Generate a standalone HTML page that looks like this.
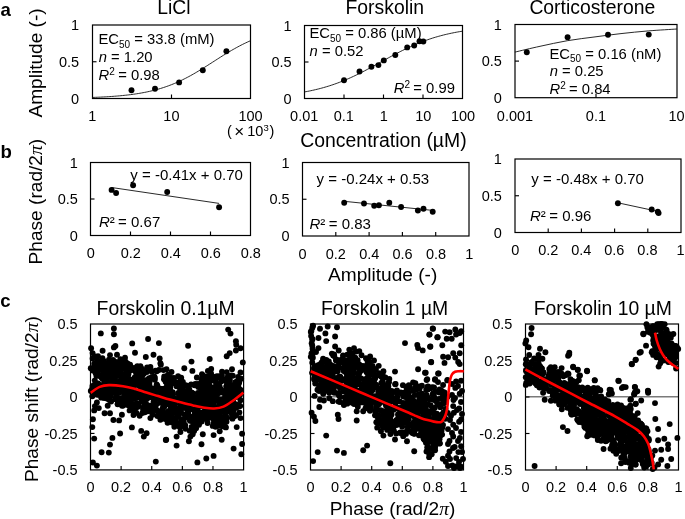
<!DOCTYPE html>
<html><head><meta charset="utf-8"><style>
html,body{margin:0;padding:0;background:#fff;overflow:hidden;width:685px;height:519px;}
svg{display:block;will-change:transform;}
text{font-family:"Liberation Sans", sans-serif;fill:#000;}
</style></head><body>
<svg width="685" height="519" viewBox="0 0 685 519">
<rect width="685" height="519" fill="#fff"/>
<text x="0.5" y="15.7" font-size="18.6" text-anchor="start" font-weight="bold">a</text>
<text x="0.4" y="157.7" font-size="18.6" text-anchor="start" font-weight="bold">b</text>
<text x="0.3" y="307.2" font-size="18.6" text-anchor="start" font-weight="bold">c</text>
<text x="173.8" y="14.3" font-size="19.35" text-anchor="middle">LiCl</text>
<text x="384.8" y="14.3" font-size="19.35" text-anchor="middle">Forskolin</text>
<text x="592.3" y="14.3" font-size="19.35" text-anchor="middle">Corticosterone</text>
<text transform="translate(41.8,117.6) rotate(-90)" font-size="19.1">Amplitude (-)</text>
<rect x="92.5" y="25" width="158" height="73.5" fill="none" stroke="#000" stroke-width="1.2"/>
<line x1="92.5" y1="61.75" x2="96.5" y2="61.75" stroke="#000" stroke-width="1.15"/>
<text x="79.2" y="30.1" font-size="14.5" text-anchor="end">1</text>
<text x="79.2" y="66.85" font-size="14.5" text-anchor="end">0.5</text>
<text x="79.2" y="103.6" font-size="14.5" text-anchor="end">0</text>
<line x1="171.5" y1="98.5" x2="171.5" y2="94.5" stroke="#000" stroke-width="1.15"/>
<text x="92.3" y="121" font-size="14.5" text-anchor="middle">1</text>
<text x="171.4" y="121" font-size="14.5" text-anchor="middle">10</text>
<text x="250.5" y="121" font-size="14.5" text-anchor="middle">100</text>
<text x="227" y="136.3" font-size="14.5" text-anchor="start">(</text>
<text x="234.3" y="136.6" font-size="17" text-anchor="start">×</text>
<text x="247.3" y="136.3" font-size="14.5" text-anchor="start">10</text>
<text x="263.4" y="131.3" font-size="9.5" text-anchor="start">3</text>
<text x="269.6" y="136.3" font-size="14.5" text-anchor="start">)</text>
<polyline points="92.5,97.44 94.08,97.38 95.66,97.32 97.24,97.25 98.82,97.18 100.4,97.11 101.98,97.03 103.56,96.95 105.14,96.86 106.72,96.77 108.3,96.68 109.88,96.58 111.46,96.47 113.04,96.36 114.62,96.24 116.2,96.12 117.78,95.99 119.36,95.85 120.94,95.7 122.52,95.55 124.1,95.39 125.68,95.22 127.26,95.04 128.84,94.86 130.42,94.66 132,94.45 133.58,94.24 135.16,94.01 136.74,93.77 138.32,93.52 139.9,93.26 141.48,92.98 143.06,92.69 144.64,92.39 146.22,92.08 147.8,91.74 149.38,91.4 150.96,91.03 152.54,90.66 154.12,90.26 155.7,89.85 157.28,89.42 158.86,88.97 160.44,88.5 162.02,88.01 163.6,87.5 165.18,86.98 166.76,86.43 168.34,85.86 169.92,85.27 171.5,84.66 173.08,84.03 174.66,83.38 176.24,82.71 177.82,82.01 179.4,81.29 180.98,80.55 182.56,79.79 184.14,79.01 185.72,78.21 187.3,77.39 188.88,76.55 190.46,75.69 192.04,74.81 193.62,73.91 195.2,73 196.78,72.07 198.36,71.13 199.94,70.17 201.52,69.21 203.1,68.23 204.68,67.24 206.26,66.24 207.84,65.24 209.42,64.23 211,63.22 212.58,62.2 214.16,61.19 215.74,60.17 217.32,59.16 218.9,58.15 220.48,57.15 222.06,56.15 223.64,55.17 225.22,54.19 226.8,53.22 228.38,52.27 229.96,51.33 231.54,50.4 233.12,49.49 234.7,48.6 236.28,47.72 237.86,46.86 239.44,46.02 241.02,45.2 242.6,44.4 244.18,43.62 245.76,42.87 247.34,42.13 248.92,41.41 250.5,40.72" fill="none" stroke="#111" stroke-width="0.9" stroke-linejoin="round"/>
<circle cx="131.5" cy="90.2" r="2.95"/>
<circle cx="155" cy="88.8" r="2.95"/>
<circle cx="179.1" cy="82.4" r="2.95"/>
<circle cx="202.8" cy="70.3" r="2.95"/>
<circle cx="226.4" cy="51.2" r="2.95"/>
<text x="98.5" y="43.7" font-size="14.8" text-anchor="start">EC<tspan font-size="10" dy="3.9">50</tspan><tspan dy="-3.9"> = 33.8 (mM)</tspan></text>
<text x="98.7" y="61.6" font-size="14.8" text-anchor="start"><tspan font-style="italic">n</tspan> = 1.20</text>
<text x="98.6" y="79.9" font-size="14.8" text-anchor="start"><tspan font-style="italic">R</tspan><tspan font-size="10" dy="-5">2</tspan><tspan dy="5" dx="-0.8"> = 0.98</tspan></text>
<rect x="304.5" y="25.5" width="158" height="73" fill="none" stroke="#000" stroke-width="1.2"/>
<line x1="304.5" y1="62" x2="308.5" y2="62" stroke="#000" stroke-width="1.15"/>
<text x="291.6" y="30.6" font-size="14.5" text-anchor="end">1</text>
<text x="291.6" y="67.1" font-size="14.5" text-anchor="end">0.5</text>
<text x="291.6" y="103.6" font-size="14.5" text-anchor="end">0</text>
<line x1="344" y1="98.5" x2="344" y2="94.5" stroke="#000" stroke-width="1.15"/>
<line x1="383.5" y1="98.5" x2="383.5" y2="94.5" stroke="#000" stroke-width="1.15"/>
<line x1="423" y1="98.5" x2="423" y2="94.5" stroke="#000" stroke-width="1.15"/>
<text x="304.2" y="121.3" font-size="14.5" text-anchor="middle">0.01</text>
<text x="343.8" y="121.3" font-size="14.5" text-anchor="middle">0.1</text>
<text x="383.8" y="121.3" font-size="14.5" text-anchor="middle">1</text>
<text x="423.3" y="121.3" font-size="14.5" text-anchor="middle">10</text>
<text x="463" y="121.3" font-size="14.5" text-anchor="middle">100</text>
<text x="300.3" y="146.6" font-size="19.4" text-anchor="start">Concentration (µM)</text>
<polyline points="304.5,91.95 306.08,91.65 307.66,91.35 309.24,91.04 310.82,90.71 312.4,90.37 313.98,90.02 315.56,89.65 317.14,89.27 318.72,88.88 320.3,88.47 321.88,88.05 323.46,87.61 325.04,87.16 326.62,86.7 328.2,86.22 329.78,85.72 331.36,85.21 332.94,84.68 334.52,84.13 336.1,83.57 337.68,82.99 339.26,82.4 340.84,81.79 342.42,81.17 344,80.53 345.58,79.87 347.16,79.2 348.74,78.51 350.32,77.81 351.9,77.09 353.48,76.36 355.06,75.61 356.64,74.85 358.22,74.08 359.8,73.3 361.38,72.5 362.96,71.69 364.54,70.88 366.12,70.05 367.7,69.21 369.28,68.37 370.86,67.52 372.44,66.66 374.02,65.8 375.6,64.93 377.18,64.06 378.76,63.19 380.34,62.32 381.92,61.44 383.5,60.57 385.08,59.7 386.66,58.83 388.24,57.96 389.82,57.1 391.4,56.25 392.98,55.4 394.56,54.56 396.14,53.72 397.72,52.9 399.3,52.08 400.88,51.28 402.46,50.49 404.04,49.71 405.62,48.94 407.2,48.18 408.78,47.44 410.36,46.71 411.94,46 413.52,45.3 415.1,44.62 416.68,43.95 418.26,43.3 419.84,42.66 421.42,42.04 423,41.43 424.58,40.85 426.16,40.27 427.74,39.72 429.32,39.18 430.9,38.65 432.48,38.14 434.06,37.65 435.64,37.17 437.22,36.71 438.8,36.26 440.38,35.83 441.96,35.41 443.54,35.01 445.12,34.62 446.7,34.25 448.28,33.88 449.86,33.54 451.44,33.2 453.02,32.88 454.6,32.56 456.18,32.26 457.76,31.98 459.34,31.7 460.92,31.43 462.5,31.18" fill="none" stroke="#111" stroke-width="0.9" stroke-linejoin="round"/>
<circle cx="344" cy="80.3" r="2.95"/>
<circle cx="359.5" cy="71.5" r="2.95"/>
<circle cx="371.4" cy="66.8" r="2.95"/>
<circle cx="378.4" cy="65.1" r="2.95"/>
<circle cx="383.8" cy="60.4" r="2.95"/>
<circle cx="395.3" cy="55" r="2.95"/>
<circle cx="407.2" cy="47.4" r="2.95"/>
<circle cx="414.2" cy="45.5" r="2.95"/>
<circle cx="419.5" cy="41.2" r="2.95"/>
<circle cx="423.35" cy="41.5" r="2.95"/>
<text x="309.4" y="37.9" font-size="14.8" text-anchor="start">EC<tspan font-size="10" dy="3.9">50</tspan><tspan dy="-3.9"> = 0.86 (µM)</tspan></text>
<text x="309.6" y="56.4" font-size="14.8" text-anchor="start"><tspan font-style="italic">n</tspan> = 0.52</text>
<text x="393.8" y="92.5" font-size="14.8" text-anchor="start"><tspan font-style="italic">R</tspan><tspan font-size="10" dy="-5">2</tspan><tspan dy="5" dx="-0.8"> = 0.99</tspan></text>
<rect x="515" y="24.5" width="162" height="73.2" fill="none" stroke="#000" stroke-width="1.2"/>
<line x1="515" y1="61.1" x2="519" y2="61.1" stroke="#000" stroke-width="1.15"/>
<text x="501.8" y="29.6" font-size="14.5" text-anchor="end">1</text>
<text x="501.8" y="66.2" font-size="14.5" text-anchor="end">0.5</text>
<text x="501.8" y="102.8" font-size="14.5" text-anchor="end">0</text>
<line x1="596" y1="97.7" x2="596" y2="93.7" stroke="#000" stroke-width="1.15"/>
<text x="515" y="120.6" font-size="14.5" text-anchor="middle">0.001</text>
<text x="595.9" y="120.6" font-size="14.5" text-anchor="middle">0.1</text>
<text x="676.6" y="120.6" font-size="14.5" text-anchor="middle">10</text>
<path d="M514.9,52.1 C519.08,51.13 531.25,48.2 540,46.3 C548.75,44.4 558.23,42.27 567.4,40.7 C576.57,39.13 586.07,38.08 595,36.9 C603.93,35.72 612.1,34.6 621,33.6 C629.9,32.6 639.07,31.67 648.4,30.9 C657.73,30.13 672.23,29.32 677,29" fill="none" stroke="#111" stroke-width="0.9" stroke-linecap="butt"/>
<circle cx="526.8" cy="52.3" r="2.95"/>
<circle cx="567.6" cy="37.3" r="2.95"/>
<circle cx="608" cy="34.7" r="2.95"/>
<circle cx="648.75" cy="34.6" r="2.95"/>
<text x="549.5" y="58.5" font-size="14.8" text-anchor="start">EC<tspan font-size="10" dy="3.9">50</tspan><tspan dy="-3.9"> = 0.16 (nM)</tspan></text>
<text x="549.7" y="76.4" font-size="14.8" text-anchor="start"><tspan font-style="italic">n</tspan> = 0.25</text>
<text x="549.5" y="94.2" font-size="14.8" text-anchor="start"><tspan font-style="italic">R</tspan><tspan font-size="10" dy="-5">2</tspan><tspan dy="5" dx="-0.8"> = 0.84</tspan></text>
<text transform="translate(41.7,264.4) rotate(-90)" font-size="19.1">Phase (rad/2<tspan font-family="Liberation Serif" font-style="italic" font-size="19.5">π</tspan>)</text>
<rect x="90.5" y="162.5" width="160" height="73" fill="none" stroke="#000" stroke-width="1.2"/>
<line x1="90.5" y1="199" x2="94.5" y2="199" stroke="#000" stroke-width="1.15"/>
<text x="77.8" y="167.6" font-size="14.5" text-anchor="end">1</text>
<text x="77.8" y="204.1" font-size="14.5" text-anchor="end">0.5</text>
<text x="77.8" y="240.6" font-size="14.5" text-anchor="end">0</text>
<line x1="130.5" y1="235.5" x2="130.5" y2="231.5" stroke="#000" stroke-width="1.15"/>
<line x1="170.5" y1="235.5" x2="170.5" y2="231.5" stroke="#000" stroke-width="1.15"/>
<line x1="210.5" y1="235.5" x2="210.5" y2="231.5" stroke="#000" stroke-width="1.15"/>
<text x="90.75" y="258.4" font-size="14.5" text-anchor="middle">0</text>
<text x="130.75" y="258.4" font-size="14.5" text-anchor="middle">0.2</text>
<text x="170.75" y="258.4" font-size="14.5" text-anchor="middle">0.4</text>
<text x="210.75" y="258.4" font-size="14.5" text-anchor="middle">0.6</text>
<text x="250.75" y="258.4" font-size="14.5" text-anchor="middle">0.8</text>
<line x1="111.6" y1="187.5" x2="219.1" y2="203.4" stroke="#111" stroke-width="0.9"/>
<circle cx="111.6" cy="189.9" r="2.95"/>
<circle cx="116.1" cy="193" r="2.95"/>
<circle cx="133.1" cy="185.2" r="2.95"/>
<circle cx="167.2" cy="192" r="2.95"/>
<circle cx="219.1" cy="207.2" r="2.95"/>
<text x="130.3" y="180.2" font-size="15" text-anchor="start">y = -0.41x + 0.70</text>
<text x="98.9" y="226.8" font-size="15" text-anchor="start"><tspan font-style="italic">R</tspan>²<tspan dx="-0.8"> = 0.67</tspan></text>
<rect x="302.5" y="162.5" width="166.5" height="73.5" fill="none" stroke="#000" stroke-width="1.2"/>
<line x1="302.5" y1="199.25" x2="306.5" y2="199.25" stroke="#000" stroke-width="1.15"/>
<text x="289.6" y="167.6" font-size="14.5" text-anchor="end">1</text>
<text x="289.6" y="204.35" font-size="14.5" text-anchor="end">0.5</text>
<text x="289.6" y="241.1" font-size="14.5" text-anchor="end">0</text>
<line x1="335.8" y1="236" x2="335.8" y2="232" stroke="#000" stroke-width="1.15"/>
<line x1="369.1" y1="236" x2="369.1" y2="232" stroke="#000" stroke-width="1.15"/>
<line x1="402.4" y1="236" x2="402.4" y2="232" stroke="#000" stroke-width="1.15"/>
<line x1="435.7" y1="236" x2="435.7" y2="232" stroke="#000" stroke-width="1.15"/>
<text x="302.5" y="258.8" font-size="14.5" text-anchor="middle">0</text>
<text x="335.87" y="258.8" font-size="14.5" text-anchor="middle">0.2</text>
<text x="369.24" y="258.8" font-size="14.5" text-anchor="middle">0.4</text>
<text x="402.61" y="258.8" font-size="14.5" text-anchor="middle">0.6</text>
<text x="435.98" y="258.8" font-size="14.5" text-anchor="middle">0.8</text>
<text x="469.35" y="258.8" font-size="14.5" text-anchor="middle">1</text>
<line x1="344.2" y1="201.3" x2="432.7" y2="210.4" stroke="#111" stroke-width="0.9"/>
<circle cx="344.2" cy="202.7" r="2.95"/>
<circle cx="364" cy="203.55" r="2.95"/>
<circle cx="374.2" cy="205.8" r="2.95"/>
<circle cx="378.9" cy="205.3" r="2.95"/>
<circle cx="389.3" cy="202.7" r="2.95"/>
<circle cx="401.1" cy="207" r="2.95"/>
<circle cx="417.9" cy="210.5" r="2.95"/>
<circle cx="423.5" cy="208.75" r="2.95"/>
<circle cx="432.7" cy="211.7" r="2.95"/>
<text x="316.6" y="184.2" font-size="15" text-anchor="start">y = -0.24x + 0.53</text>
<text x="309.5" y="228.7" font-size="15" text-anchor="start"><tspan font-style="italic">R</tspan>²<tspan dx="-0.8"> = 0.83</tspan></text>
<text x="328" y="280.6" font-size="19.1" text-anchor="start">Amplitude (-)</text>
<rect x="515" y="159" width="166" height="73.5" fill="none" stroke="#000" stroke-width="1.2"/>
<line x1="515" y1="195.75" x2="519" y2="195.75" stroke="#000" stroke-width="1.15"/>
<text x="501.9" y="164.1" font-size="14.5" text-anchor="end">1</text>
<text x="501.9" y="200.85" font-size="14.5" text-anchor="end">0.5</text>
<text x="501.9" y="237.6" font-size="14.5" text-anchor="end">0</text>
<line x1="548.2" y1="232.5" x2="548.2" y2="228.5" stroke="#000" stroke-width="1.15"/>
<line x1="581.4" y1="232.5" x2="581.4" y2="228.5" stroke="#000" stroke-width="1.15"/>
<line x1="614.6" y1="232.5" x2="614.6" y2="228.5" stroke="#000" stroke-width="1.15"/>
<line x1="647.8" y1="232.5" x2="647.8" y2="228.5" stroke="#000" stroke-width="1.15"/>
<text x="515.2" y="255.3" font-size="14.5" text-anchor="middle">0</text>
<text x="548.25" y="255.3" font-size="14.5" text-anchor="middle">0.2</text>
<text x="581.3" y="255.3" font-size="14.5" text-anchor="middle">0.4</text>
<text x="614.35" y="255.3" font-size="14.5" text-anchor="middle">0.6</text>
<text x="647.4" y="255.3" font-size="14.5" text-anchor="middle">0.8</text>
<text x="680.45" y="255.3" font-size="14.5" text-anchor="middle">1</text>
<line x1="617.9" y1="202.8" x2="658.4" y2="211.5" stroke="#111" stroke-width="0.9"/>
<circle cx="617.9" cy="203.2" r="2.95"/>
<circle cx="651.7" cy="209.5" r="2.95"/>
<circle cx="657.8" cy="211.7" r="2.95"/>
<circle cx="658.6" cy="213.1" r="2.95"/>
<text x="531.3" y="184.2" font-size="15" text-anchor="start">y = -0.48x + 0.70</text>
<text x="530" y="221.1" font-size="15" text-anchor="start"><tspan font-style="italic">R</tspan>²<tspan dx="-0.8"> = 0.96</tspan></text>
<text transform="translate(37.9,482.0) rotate(-90)" font-size="19.1">Phase shift (rad/2<tspan font-family="Liberation Serif" font-style="italic" font-size="19.5">π</tspan>)</text>
<text x="165.6" y="315" font-size="19.35" text-anchor="middle">Forskolin 0.1µM</text>
<text x="384.6" y="314.8" font-size="19.35" text-anchor="middle">Forskolin 1 µM</text>
<text x="602.8" y="314.8" font-size="19.35" text-anchor="middle">Forskolin 10 µM</text>
<text x="329.8" y="514.5" font-size="19.1" text-anchor="start">Phase (rad/2<tspan font-family="Liberation Serif" font-style="italic" font-size="19.5">π</tspan>)</text>
<text x="77.6" y="329.1" font-size="14.5" text-anchor="end">0.5</text>
<text x="77.6" y="365.58" font-size="14.5" text-anchor="end">0.25</text>
<text x="77.6" y="402.05" font-size="14.5" text-anchor="end">0</text>
<text x="77.6" y="438.52" font-size="14.5" text-anchor="end">-0.25</text>
<text x="77.6" y="475" font-size="14.5" text-anchor="end">-0.5</text>
<text x="90.5" y="492.3" font-size="14.5" text-anchor="middle">0</text>
<text x="121.12" y="492.3" font-size="14.5" text-anchor="middle">0.2</text>
<text x="151.74" y="492.3" font-size="14.5" text-anchor="middle">0.4</text>
<text x="182.36" y="492.3" font-size="14.5" text-anchor="middle">0.6</text>
<text x="212.98" y="492.3" font-size="14.5" text-anchor="middle">0.8</text>
<text x="243.6" y="492.3" font-size="14.5" text-anchor="middle">1</text>
<line x1="90.5" y1="396.75" x2="243.6" y2="396.75" stroke="#7a7a7a" stroke-width="1.6"/>
<rect x="90.5" y="324" width="153.1" height="145.9" fill="none" stroke="#000" stroke-width="1.2"/>
<line x1="90.5" y1="360.48" x2="94.5" y2="360.48" stroke="#000" stroke-width="1.15"/>
<line x1="90.5" y1="396.95" x2="94.5" y2="396.95" stroke="#000" stroke-width="1.15"/>
<line x1="90.5" y1="433.42" x2="94.5" y2="433.42" stroke="#000" stroke-width="1.15"/>
<line x1="121.12" y1="469.9" x2="121.12" y2="465.9" stroke="#000" stroke-width="1.15"/>
<line x1="151.74" y1="469.9" x2="151.74" y2="465.9" stroke="#000" stroke-width="1.15"/>
<line x1="182.36" y1="469.9" x2="182.36" y2="465.9" stroke="#000" stroke-width="1.15"/>
<line x1="212.98" y1="469.9" x2="212.98" y2="465.9" stroke="#000" stroke-width="1.15"/>
<text x="297.6" y="329.1" font-size="14.5" text-anchor="end">0.5</text>
<text x="297.6" y="365.6" font-size="14.5" text-anchor="end">0.25</text>
<text x="297.6" y="402.1" font-size="14.5" text-anchor="end">0</text>
<text x="297.6" y="438.6" font-size="14.5" text-anchor="end">-0.25</text>
<text x="297.6" y="475.1" font-size="14.5" text-anchor="end">-0.5</text>
<text x="310.5" y="492.3" font-size="14.5" text-anchor="middle">0</text>
<text x="341.1" y="492.3" font-size="14.5" text-anchor="middle">0.2</text>
<text x="371.7" y="492.3" font-size="14.5" text-anchor="middle">0.4</text>
<text x="402.3" y="492.3" font-size="14.5" text-anchor="middle">0.6</text>
<text x="432.9" y="492.3" font-size="14.5" text-anchor="middle">0.8</text>
<text x="463.5" y="492.3" font-size="14.5" text-anchor="middle">1</text>
<line x1="310.5" y1="396.8" x2="463.5" y2="396.8" stroke="#7a7a7a" stroke-width="1.6"/>
<rect x="310.5" y="324" width="153" height="146" fill="none" stroke="#000" stroke-width="1.2"/>
<line x1="310.5" y1="360.5" x2="314.5" y2="360.5" stroke="#000" stroke-width="1.15"/>
<line x1="310.5" y1="397" x2="314.5" y2="397" stroke="#000" stroke-width="1.15"/>
<line x1="310.5" y1="433.5" x2="314.5" y2="433.5" stroke="#000" stroke-width="1.15"/>
<line x1="341.1" y1="470" x2="341.1" y2="466" stroke="#000" stroke-width="1.15"/>
<line x1="371.7" y1="470" x2="371.7" y2="466" stroke="#000" stroke-width="1.15"/>
<line x1="402.3" y1="470" x2="402.3" y2="466" stroke="#000" stroke-width="1.15"/>
<line x1="432.9" y1="470" x2="432.9" y2="466" stroke="#000" stroke-width="1.15"/>
<text x="512.4" y="329.1" font-size="14.5" text-anchor="end">0.5</text>
<text x="512.4" y="365.6" font-size="14.5" text-anchor="end">0.25</text>
<text x="512.4" y="402.1" font-size="14.5" text-anchor="end">0</text>
<text x="512.4" y="438.6" font-size="14.5" text-anchor="end">-0.25</text>
<text x="512.4" y="475.1" font-size="14.5" text-anchor="end">-0.5</text>
<text x="525.5" y="492.3" font-size="14.5" text-anchor="middle">0</text>
<text x="556.1" y="492.3" font-size="14.5" text-anchor="middle">0.2</text>
<text x="586.7" y="492.3" font-size="14.5" text-anchor="middle">0.4</text>
<text x="617.3" y="492.3" font-size="14.5" text-anchor="middle">0.6</text>
<text x="647.9" y="492.3" font-size="14.5" text-anchor="middle">0.8</text>
<text x="678.5" y="492.3" font-size="14.5" text-anchor="middle">1</text>
<line x1="525.5" y1="396.8" x2="678.5" y2="396.8" stroke="#7a7a7a" stroke-width="1.6"/>
<rect x="525.5" y="324" width="153" height="146" fill="none" stroke="#000" stroke-width="1.2"/>
<line x1="525.5" y1="360.5" x2="529.5" y2="360.5" stroke="#000" stroke-width="1.15"/>
<line x1="525.5" y1="397" x2="529.5" y2="397" stroke="#000" stroke-width="1.15"/>
<line x1="525.5" y1="433.5" x2="529.5" y2="433.5" stroke="#000" stroke-width="1.15"/>
<line x1="556.1" y1="470" x2="556.1" y2="466" stroke="#000" stroke-width="1.15"/>
<line x1="586.7" y1="470" x2="586.7" y2="466" stroke="#000" stroke-width="1.15"/>
<line x1="617.3" y1="470" x2="617.3" y2="466" stroke="#000" stroke-width="1.15"/>
<line x1="647.9" y1="470" x2="647.9" y2="466" stroke="#000" stroke-width="1.15"/>
<circle cx="97.73" cy="394.84" r="2.95"/>
<circle cx="95.4" cy="392.19" r="2.95"/>
<circle cx="196.22" cy="384.77" r="2.95"/>
<circle cx="180.86" cy="387.15" r="2.95"/>
<circle cx="214.69" cy="410.01" r="2.95"/>
<circle cx="105.13" cy="383.89" r="2.95"/>
<circle cx="110.62" cy="390.47" r="2.95"/>
<circle cx="194.25" cy="416.11" r="2.95"/>
<circle cx="182.29" cy="398.93" r="2.95"/>
<circle cx="132.1" cy="380.88" r="2.95"/>
<circle cx="106.95" cy="368.03" r="2.95"/>
<circle cx="110.45" cy="361.39" r="2.95"/>
<circle cx="123.8" cy="390.1" r="2.95"/>
<circle cx="197.86" cy="392.94" r="2.95"/>
<circle cx="149.57" cy="382.11" r="2.95"/>
<circle cx="102.44" cy="378.82" r="2.95"/>
<circle cx="227.64" cy="402.11" r="2.95"/>
<circle cx="126.87" cy="377.31" r="2.95"/>
<circle cx="161.49" cy="390" r="2.95"/>
<circle cx="102.55" cy="376.87" r="2.95"/>
<circle cx="240.06" cy="394.13" r="2.95"/>
<circle cx="128.3" cy="379.1" r="2.95"/>
<circle cx="218.57" cy="413.81" r="2.95"/>
<circle cx="169.86" cy="378.07" r="2.95"/>
<circle cx="117.87" cy="364.01" r="2.95"/>
<circle cx="191.78" cy="419.37" r="2.95"/>
<circle cx="207.52" cy="389.46" r="2.95"/>
<circle cx="239.38" cy="412.41" r="2.95"/>
<circle cx="128.02" cy="383.97" r="2.95"/>
<circle cx="234.67" cy="391.65" r="2.95"/>
<circle cx="113.92" cy="389.03" r="2.95"/>
<circle cx="175.98" cy="417.94" r="2.95"/>
<circle cx="211.11" cy="392.22" r="2.95"/>
<circle cx="185.23" cy="392.02" r="2.95"/>
<circle cx="198.22" cy="387.07" r="2.95"/>
<circle cx="97.75" cy="367.38" r="2.95"/>
<circle cx="112.16" cy="385.13" r="2.95"/>
<circle cx="187.08" cy="392.64" r="2.95"/>
<circle cx="102.97" cy="369.7" r="2.95"/>
<circle cx="178.44" cy="410.14" r="2.95"/>
<circle cx="94.16" cy="363.76" r="2.95"/>
<circle cx="90.8" cy="368.29" r="2.95"/>
<circle cx="204.76" cy="396.25" r="2.95"/>
<circle cx="218.67" cy="385.19" r="2.95"/>
<circle cx="221.21" cy="381.56" r="2.95"/>
<circle cx="220.83" cy="410.73" r="2.95"/>
<circle cx="151.56" cy="377.32" r="2.95"/>
<circle cx="222.29" cy="425.96" r="2.95"/>
<circle cx="131.67" cy="367.53" r="2.95"/>
<circle cx="136.15" cy="378.16" r="2.95"/>
<circle cx="147.82" cy="389.14" r="2.95"/>
<circle cx="118.56" cy="391.94" r="2.95"/>
<circle cx="123.72" cy="399.46" r="2.95"/>
<circle cx="207.59" cy="406.15" r="2.95"/>
<circle cx="228.41" cy="381.23" r="2.95"/>
<circle cx="230.49" cy="403.34" r="2.95"/>
<circle cx="196.63" cy="409.48" r="2.95"/>
<circle cx="187.7" cy="403.24" r="2.95"/>
<circle cx="207.22" cy="391.78" r="2.95"/>
<circle cx="185.95" cy="404.78" r="2.95"/>
<circle cx="135.32" cy="397.8" r="2.95"/>
<circle cx="95.83" cy="370" r="2.95"/>
<circle cx="198.13" cy="407.84" r="2.95"/>
<circle cx="169.68" cy="388.21" r="2.95"/>
<circle cx="158.81" cy="369.99" r="2.95"/>
<circle cx="229.67" cy="410.41" r="2.95"/>
<circle cx="231.43" cy="390.21" r="2.95"/>
<circle cx="207.62" cy="423.04" r="2.95"/>
<circle cx="132.95" cy="379.62" r="2.95"/>
<circle cx="155.34" cy="370.59" r="2.95"/>
<circle cx="174.97" cy="411.92" r="2.95"/>
<circle cx="134.74" cy="396.83" r="2.95"/>
<circle cx="113.11" cy="360.03" r="2.95"/>
<circle cx="232.77" cy="391.23" r="2.95"/>
<circle cx="108.61" cy="362.89" r="2.95"/>
<circle cx="207.44" cy="383.39" r="2.95"/>
<circle cx="170.92" cy="380.05" r="2.95"/>
<circle cx="106.39" cy="391.82" r="2.95"/>
<circle cx="126.25" cy="382.18" r="2.95"/>
<circle cx="231.1" cy="389.01" r="2.95"/>
<circle cx="202.92" cy="405.2" r="2.95"/>
<circle cx="160.09" cy="396.29" r="2.95"/>
<circle cx="126.79" cy="404.18" r="2.95"/>
<circle cx="180.43" cy="381.09" r="2.95"/>
<circle cx="229.17" cy="389.2" r="2.95"/>
<circle cx="195.26" cy="384.06" r="2.95"/>
<circle cx="194.11" cy="431.04" r="2.95"/>
<circle cx="205.74" cy="391.95" r="2.95"/>
<circle cx="116.34" cy="365.77" r="2.95"/>
<circle cx="147.34" cy="379.77" r="2.95"/>
<circle cx="219.09" cy="421.45" r="2.95"/>
<circle cx="93.98" cy="389.03" r="2.95"/>
<circle cx="217.52" cy="416.3" r="2.95"/>
<circle cx="137.27" cy="370.63" r="2.95"/>
<circle cx="216.02" cy="413.68" r="2.95"/>
<circle cx="211.2" cy="401.47" r="2.95"/>
<circle cx="200.98" cy="386.57" r="2.95"/>
<circle cx="153.53" cy="402.69" r="2.95"/>
<circle cx="118.27" cy="368.01" r="2.95"/>
<circle cx="226.31" cy="386.77" r="2.95"/>
<circle cx="182.58" cy="402.66" r="2.95"/>
<circle cx="127.3" cy="400.75" r="2.95"/>
<circle cx="175.12" cy="404.44" r="2.95"/>
<circle cx="136.6" cy="397.69" r="2.95"/>
<circle cx="229.02" cy="387.86" r="2.95"/>
<circle cx="146.08" cy="391.92" r="2.95"/>
<circle cx="131.89" cy="393.47" r="2.95"/>
<circle cx="103.62" cy="390.62" r="2.95"/>
<circle cx="232.48" cy="402.69" r="2.95"/>
<circle cx="115.64" cy="365.29" r="2.95"/>
<circle cx="169.9" cy="380.67" r="2.95"/>
<circle cx="183.12" cy="396.15" r="2.95"/>
<circle cx="135.61" cy="384.07" r="2.95"/>
<circle cx="154.97" cy="406.27" r="2.95"/>
<circle cx="212.36" cy="387.62" r="2.95"/>
<circle cx="167.97" cy="374.67" r="2.95"/>
<circle cx="196.11" cy="428.27" r="2.95"/>
<circle cx="175.94" cy="398.94" r="2.95"/>
<circle cx="209.87" cy="386.13" r="2.95"/>
<circle cx="180.91" cy="406.72" r="2.95"/>
<circle cx="185.8" cy="385.2" r="2.95"/>
<circle cx="122.33" cy="399.27" r="2.95"/>
<circle cx="227.15" cy="417.74" r="2.95"/>
<circle cx="172.11" cy="382.76" r="2.95"/>
<circle cx="118.32" cy="401.55" r="2.95"/>
<circle cx="189.93" cy="420.64" r="2.95"/>
<circle cx="136.12" cy="372.92" r="2.95"/>
<circle cx="161.37" cy="413.98" r="2.95"/>
<circle cx="129.09" cy="396.5" r="2.95"/>
<circle cx="213.73" cy="393.66" r="2.95"/>
<circle cx="188.17" cy="409.43" r="2.95"/>
<circle cx="199.01" cy="424.75" r="2.95"/>
<circle cx="203.39" cy="398.04" r="2.95"/>
<circle cx="120.34" cy="402.9" r="2.95"/>
<circle cx="198.21" cy="403.95" r="2.95"/>
<circle cx="223.33" cy="420.52" r="2.95"/>
<circle cx="219.66" cy="403.73" r="2.95"/>
<circle cx="119.21" cy="374.68" r="2.95"/>
<circle cx="201.95" cy="379.23" r="2.95"/>
<circle cx="200.15" cy="395.02" r="2.95"/>
<circle cx="165.51" cy="390.71" r="2.95"/>
<circle cx="115.89" cy="391" r="2.95"/>
<circle cx="213.48" cy="403.4" r="2.95"/>
<circle cx="123.84" cy="387.86" r="2.95"/>
<circle cx="208.23" cy="415.03" r="2.95"/>
<circle cx="142.45" cy="375.38" r="2.95"/>
<circle cx="222.58" cy="406.58" r="2.95"/>
<circle cx="113.47" cy="385.81" r="2.95"/>
<circle cx="138.9" cy="393.56" r="2.95"/>
<circle cx="214.77" cy="413.2" r="2.95"/>
<circle cx="117.78" cy="404.33" r="2.95"/>
<circle cx="119.44" cy="381.12" r="2.95"/>
<circle cx="167.08" cy="403.81" r="2.95"/>
<circle cx="178.98" cy="414.67" r="2.95"/>
<circle cx="211.4" cy="410.11" r="2.95"/>
<circle cx="196.09" cy="404.66" r="2.95"/>
<circle cx="136.71" cy="403.43" r="2.95"/>
<circle cx="159.74" cy="402.81" r="2.95"/>
<circle cx="192.03" cy="417.37" r="2.95"/>
<circle cx="238.38" cy="393.29" r="2.95"/>
<circle cx="179.08" cy="395.32" r="2.95"/>
<circle cx="168.97" cy="404.45" r="2.95"/>
<circle cx="154.13" cy="409.94" r="2.95"/>
<circle cx="238.27" cy="394.02" r="2.95"/>
<circle cx="215.84" cy="381.45" r="2.95"/>
<circle cx="188.76" cy="388.63" r="2.95"/>
<circle cx="127.07" cy="384.63" r="2.95"/>
<circle cx="125.68" cy="373.07" r="2.95"/>
<circle cx="155.42" cy="404.27" r="2.95"/>
<circle cx="240.19" cy="406" r="2.95"/>
<circle cx="102.44" cy="358.27" r="2.95"/>
<circle cx="211.76" cy="377.22" r="2.95"/>
<circle cx="232.46" cy="418.63" r="2.95"/>
<circle cx="230.36" cy="401.58" r="2.95"/>
<circle cx="171.99" cy="414" r="2.95"/>
<circle cx="228.99" cy="396.62" r="2.95"/>
<circle cx="95.47" cy="388.44" r="2.95"/>
<circle cx="165.6" cy="391.33" r="2.95"/>
<circle cx="161.81" cy="397.32" r="2.95"/>
<circle cx="222.17" cy="379.87" r="2.95"/>
<circle cx="145.32" cy="389.13" r="2.95"/>
<circle cx="154.43" cy="396.52" r="2.95"/>
<circle cx="139.61" cy="374.49" r="2.95"/>
<circle cx="181.01" cy="404.04" r="2.95"/>
<circle cx="184.61" cy="406.2" r="2.95"/>
<circle cx="233.39" cy="401.89" r="2.95"/>
<circle cx="187.54" cy="409.77" r="2.95"/>
<circle cx="160.18" cy="415.93" r="2.95"/>
<circle cx="234.08" cy="405.98" r="2.95"/>
<circle cx="219.26" cy="418.15" r="2.95"/>
<circle cx="127.8" cy="373.09" r="2.95"/>
<circle cx="137.59" cy="385.05" r="2.95"/>
<circle cx="120.39" cy="359.11" r="2.95"/>
<circle cx="224.59" cy="412.86" r="2.95"/>
<circle cx="187.84" cy="410.96" r="2.95"/>
<circle cx="191.41" cy="421.01" r="2.95"/>
<circle cx="136.39" cy="412.84" r="2.95"/>
<circle cx="225.48" cy="390.23" r="2.95"/>
<circle cx="145.55" cy="398.47" r="2.95"/>
<circle cx="144.85" cy="404.97" r="2.95"/>
<circle cx="199.93" cy="421.95" r="2.95"/>
<circle cx="229.88" cy="380.03" r="2.95"/>
<circle cx="154.45" cy="399.56" r="2.95"/>
<circle cx="217.5" cy="425.65" r="2.95"/>
<circle cx="123.91" cy="401.44" r="2.95"/>
<circle cx="207.68" cy="418.62" r="2.95"/>
<circle cx="229.39" cy="393.53" r="2.95"/>
<circle cx="177.44" cy="382.43" r="2.95"/>
<circle cx="141.88" cy="393.31" r="2.95"/>
<circle cx="164.78" cy="397.75" r="2.95"/>
<circle cx="182.89" cy="381.96" r="2.95"/>
<circle cx="149.69" cy="386.7" r="2.95"/>
<circle cx="113.31" cy="367.18" r="2.95"/>
<circle cx="187.8" cy="387.07" r="2.95"/>
<circle cx="219.34" cy="389.41" r="2.95"/>
<circle cx="109.13" cy="365.61" r="2.95"/>
<circle cx="201.62" cy="396.46" r="2.95"/>
<circle cx="132.37" cy="368.97" r="2.95"/>
<circle cx="216.74" cy="376.7" r="2.95"/>
<circle cx="116.1" cy="385.48" r="2.95"/>
<circle cx="121.36" cy="398.13" r="2.95"/>
<circle cx="184.59" cy="391.08" r="2.95"/>
<circle cx="217.48" cy="399.21" r="2.95"/>
<circle cx="112.49" cy="379.52" r="2.95"/>
<circle cx="218.28" cy="425.49" r="2.95"/>
<circle cx="166.16" cy="392.74" r="2.95"/>
<circle cx="122.24" cy="361.96" r="2.95"/>
<circle cx="170.71" cy="410.35" r="2.95"/>
<circle cx="226.86" cy="411.69" r="2.95"/>
<circle cx="105.93" cy="390.9" r="2.95"/>
<circle cx="211.86" cy="376.49" r="2.95"/>
<circle cx="154.39" cy="403.84" r="2.95"/>
<circle cx="126.59" cy="393.39" r="2.95"/>
<circle cx="240.89" cy="392.78" r="2.95"/>
<circle cx="161.56" cy="394.65" r="2.95"/>
<circle cx="151.86" cy="371.81" r="2.95"/>
<circle cx="184.81" cy="398.03" r="2.95"/>
<circle cx="174.78" cy="401.99" r="2.95"/>
<circle cx="136.3" cy="367.53" r="2.95"/>
<circle cx="169.02" cy="380.63" r="2.95"/>
<circle cx="124.64" cy="396.77" r="2.95"/>
<circle cx="227.15" cy="385.92" r="2.95"/>
<circle cx="148.84" cy="385.91" r="2.95"/>
<circle cx="143.1" cy="407.81" r="2.95"/>
<circle cx="223.7" cy="421.37" r="2.95"/>
<circle cx="205.68" cy="414.12" r="2.95"/>
<circle cx="160.18" cy="412.24" r="2.95"/>
<circle cx="149.29" cy="396.65" r="2.95"/>
<circle cx="166.93" cy="386.29" r="2.95"/>
<circle cx="169.83" cy="393.11" r="2.95"/>
<circle cx="149.1" cy="378.27" r="2.95"/>
<circle cx="150.94" cy="397.2" r="2.95"/>
<circle cx="141.61" cy="394.3" r="2.95"/>
<circle cx="219.82" cy="392.67" r="2.95"/>
<circle cx="230.91" cy="409.16" r="2.95"/>
<circle cx="111.34" cy="371.96" r="2.95"/>
<circle cx="188.08" cy="401.09" r="2.95"/>
<circle cx="222.43" cy="399.52" r="2.95"/>
<circle cx="117.86" cy="391.3" r="2.95"/>
<circle cx="129.1" cy="405.15" r="2.95"/>
<circle cx="142.52" cy="386.83" r="2.95"/>
<circle cx="125.35" cy="381.25" r="2.95"/>
<circle cx="164.47" cy="418.73" r="2.95"/>
<circle cx="114.1" cy="378.33" r="2.95"/>
<circle cx="104.61" cy="394.64" r="2.95"/>
<circle cx="219.78" cy="377.67" r="2.95"/>
<circle cx="116.97" cy="371.37" r="2.95"/>
<circle cx="111.79" cy="377.82" r="2.95"/>
<circle cx="240.05" cy="391.95" r="2.95"/>
<circle cx="169.11" cy="395.46" r="2.95"/>
<circle cx="211.02" cy="380.79" r="2.95"/>
<circle cx="138.01" cy="406.64" r="2.95"/>
<circle cx="131.74" cy="382.51" r="2.95"/>
<circle cx="107.41" cy="370.72" r="2.95"/>
<circle cx="196.1" cy="406.72" r="2.95"/>
<circle cx="152.84" cy="406.29" r="2.95"/>
<circle cx="118.09" cy="373.19" r="2.95"/>
<circle cx="196.86" cy="377.46" r="2.95"/>
<circle cx="221.15" cy="417.21" r="2.95"/>
<circle cx="93.67" cy="367.73" r="2.95"/>
<circle cx="155.39" cy="392.6" r="2.95"/>
<circle cx="199.84" cy="419.93" r="2.95"/>
<circle cx="143.97" cy="383.28" r="2.95"/>
<circle cx="108.99" cy="397.38" r="2.95"/>
<circle cx="104.55" cy="371.91" r="2.95"/>
<circle cx="104.3" cy="375.18" r="2.95"/>
<circle cx="126.73" cy="367.88" r="2.95"/>
<circle cx="137.87" cy="379.27" r="2.95"/>
<circle cx="218.8" cy="410.62" r="2.95"/>
<circle cx="239.08" cy="390.98" r="2.95"/>
<circle cx="111.51" cy="372.86" r="2.95"/>
<circle cx="92.47" cy="385.87" r="2.95"/>
<circle cx="224.56" cy="418.18" r="2.95"/>
<circle cx="131.89" cy="406.53" r="2.95"/>
<circle cx="154.24" cy="376.5" r="2.95"/>
<circle cx="112.64" cy="372.5" r="2.95"/>
<circle cx="99.78" cy="375.1" r="2.95"/>
<circle cx="240.36" cy="389.71" r="2.95"/>
<circle cx="146.27" cy="399.01" r="2.95"/>
<circle cx="171.86" cy="397.53" r="2.95"/>
<circle cx="126.75" cy="390.5" r="2.95"/>
<circle cx="122.7" cy="398.26" r="2.95"/>
<circle cx="169.14" cy="399.73" r="2.95"/>
<circle cx="225.88" cy="396.2" r="2.95"/>
<circle cx="177.21" cy="417.07" r="2.95"/>
<circle cx="174.91" cy="419.68" r="2.95"/>
<circle cx="235.91" cy="407.8" r="2.95"/>
<circle cx="117.29" cy="386.55" r="2.95"/>
<circle cx="173.23" cy="409.13" r="2.95"/>
<circle cx="110.45" cy="391.67" r="2.95"/>
<circle cx="218.56" cy="408.19" r="2.95"/>
<circle cx="98.29" cy="375.62" r="2.95"/>
<circle cx="230.83" cy="399.8" r="2.95"/>
<circle cx="113.5" cy="378.57" r="2.95"/>
<circle cx="130.17" cy="370.42" r="2.95"/>
<circle cx="128.45" cy="397.91" r="2.95"/>
<circle cx="211.44" cy="403.88" r="2.95"/>
<circle cx="168.44" cy="404.07" r="2.95"/>
<circle cx="175.22" cy="382.75" r="2.95"/>
<circle cx="164" cy="379.16" r="2.95"/>
<circle cx="124.04" cy="377.48" r="2.95"/>
<circle cx="158.17" cy="397.89" r="2.95"/>
<circle cx="96.98" cy="390.06" r="2.95"/>
<circle cx="130.69" cy="368.95" r="2.95"/>
<circle cx="121.37" cy="382.16" r="2.95"/>
<circle cx="183.67" cy="425.36" r="2.95"/>
<circle cx="227.83" cy="376.73" r="2.95"/>
<circle cx="189.66" cy="430.83" r="2.95"/>
<circle cx="151.66" cy="408.14" r="2.95"/>
<circle cx="95.31" cy="383.53" r="2.95"/>
<circle cx="203.31" cy="375.61" r="2.95"/>
<circle cx="173.26" cy="399.73" r="2.95"/>
<circle cx="192.49" cy="400.95" r="2.95"/>
<circle cx="209.66" cy="417.17" r="2.95"/>
<circle cx="192.17" cy="417" r="2.95"/>
<circle cx="95.75" cy="391.67" r="2.95"/>
<circle cx="166.83" cy="404.16" r="2.95"/>
<circle cx="215.69" cy="387.79" r="2.95"/>
<circle cx="128.5" cy="385.34" r="2.95"/>
<circle cx="196.61" cy="400.58" r="2.95"/>
<circle cx="179.83" cy="427.11" r="2.95"/>
<circle cx="101.8" cy="360.69" r="2.95"/>
<circle cx="123.52" cy="385.04" r="2.95"/>
<circle cx="108" cy="384.85" r="2.95"/>
<circle cx="168.42" cy="382.96" r="2.95"/>
<circle cx="191.8" cy="395.59" r="2.95"/>
<circle cx="202.28" cy="382.13" r="2.95"/>
<circle cx="148.44" cy="383.13" r="2.95"/>
<circle cx="147.07" cy="367.39" r="2.95"/>
<circle cx="138.55" cy="405.1" r="2.95"/>
<circle cx="187.98" cy="414.13" r="2.95"/>
<circle cx="201.37" cy="381.6" r="2.95"/>
<circle cx="185.28" cy="407.98" r="2.95"/>
<circle cx="187.88" cy="395.51" r="2.95"/>
<circle cx="162.67" cy="412.11" r="2.95"/>
<circle cx="236.23" cy="394.17" r="2.95"/>
<circle cx="171.45" cy="420.64" r="2.95"/>
<circle cx="220.8" cy="421.05" r="2.95"/>
<circle cx="110.92" cy="368.39" r="2.95"/>
<circle cx="141.1" cy="380.45" r="2.95"/>
<circle cx="118.54" cy="398.06" r="2.95"/>
<circle cx="118.67" cy="384.35" r="2.95"/>
<circle cx="133.83" cy="382.94" r="2.95"/>
<circle cx="208.48" cy="380.28" r="2.95"/>
<circle cx="165.59" cy="392.6" r="2.95"/>
<circle cx="194.6" cy="413.86" r="2.95"/>
<circle cx="210.62" cy="416.6" r="2.95"/>
<circle cx="201.19" cy="389.9" r="2.95"/>
<circle cx="197.94" cy="383.87" r="2.95"/>
<circle cx="109.57" cy="376.09" r="2.95"/>
<circle cx="128.5" cy="374.11" r="2.95"/>
<circle cx="225.14" cy="396.68" r="2.95"/>
<circle cx="127.65" cy="363.79" r="2.95"/>
<circle cx="172.97" cy="379.76" r="2.95"/>
<circle cx="165.22" cy="399.29" r="2.95"/>
<circle cx="172.36" cy="383.03" r="2.95"/>
<circle cx="156.26" cy="404.45" r="2.95"/>
<circle cx="215.71" cy="391.33" r="2.95"/>
<circle cx="137.63" cy="397.13" r="2.95"/>
<circle cx="101.16" cy="388.19" r="2.95"/>
<circle cx="155.64" cy="408.14" r="2.95"/>
<circle cx="238.99" cy="406.06" r="2.95"/>
<circle cx="139.97" cy="386.82" r="2.95"/>
<circle cx="101.5" cy="396.3" r="2.95"/>
<circle cx="182.49" cy="387.91" r="2.95"/>
<circle cx="107.38" cy="398.75" r="2.95"/>
<circle cx="146.7" cy="406.67" r="2.95"/>
<circle cx="222.45" cy="426.23" r="2.95"/>
<circle cx="104.97" cy="391.14" r="2.95"/>
<circle cx="105.05" cy="388.51" r="2.95"/>
<circle cx="172.75" cy="392.13" r="2.95"/>
<circle cx="118.03" cy="382.55" r="2.95"/>
<circle cx="238.82" cy="390.42" r="2.95"/>
<circle cx="178.41" cy="409.07" r="2.95"/>
<circle cx="213.01" cy="411.1" r="2.95"/>
<circle cx="238.33" cy="383.31" r="2.95"/>
<circle cx="108.74" cy="363.43" r="2.95"/>
<circle cx="214.24" cy="389.61" r="2.95"/>
<circle cx="223.01" cy="418.16" r="2.95"/>
<circle cx="202.23" cy="377.48" r="2.95"/>
<circle cx="215.95" cy="399.91" r="2.95"/>
<circle cx="123.6" cy="363.42" r="2.95"/>
<circle cx="124.34" cy="390.81" r="2.95"/>
<circle cx="197.02" cy="411.07" r="2.95"/>
<circle cx="212.98" cy="418.81" r="2.95"/>
<circle cx="153.82" cy="401.24" r="2.95"/>
<circle cx="222.82" cy="402.59" r="2.95"/>
<circle cx="241.15" cy="378.7" r="2.95"/>
<circle cx="230.16" cy="401.75" r="2.95"/>
<circle cx="149.89" cy="391.47" r="2.95"/>
<circle cx="225.68" cy="392.79" r="2.95"/>
<circle cx="221.24" cy="408.57" r="2.95"/>
<circle cx="204.08" cy="414.73" r="2.95"/>
<circle cx="207.07" cy="404.66" r="2.95"/>
<circle cx="216.39" cy="407.91" r="2.95"/>
<circle cx="219.79" cy="418.81" r="2.95"/>
<circle cx="117.97" cy="374.84" r="2.95"/>
<circle cx="103.57" cy="369.2" r="2.95"/>
<circle cx="221.61" cy="404.25" r="2.95"/>
<circle cx="162.18" cy="396.96" r="2.95"/>
<circle cx="234.63" cy="394.23" r="2.95"/>
<circle cx="208.11" cy="408.06" r="2.95"/>
<circle cx="198.11" cy="417.04" r="2.95"/>
<circle cx="107.64" cy="376.5" r="2.95"/>
<circle cx="152.94" cy="391.7" r="2.95"/>
<circle cx="194.19" cy="398.74" r="2.95"/>
<circle cx="213.73" cy="422.97" r="2.95"/>
<circle cx="194.79" cy="415.13" r="2.95"/>
<circle cx="219" cy="405.34" r="2.95"/>
<circle cx="183.74" cy="421.65" r="2.95"/>
<circle cx="120.52" cy="365.82" r="2.95"/>
<circle cx="144.27" cy="410.05" r="2.95"/>
<circle cx="221.85" cy="375.24" r="2.95"/>
<circle cx="95.57" cy="386.45" r="2.95"/>
<circle cx="103.91" cy="365.88" r="2.95"/>
<circle cx="141.1" cy="375.79" r="2.95"/>
<circle cx="221.98" cy="420.21" r="2.95"/>
<circle cx="167.76" cy="384.42" r="2.95"/>
<circle cx="188.06" cy="412.38" r="2.95"/>
<circle cx="150.82" cy="392.62" r="2.95"/>
<circle cx="107.67" cy="387.22" r="2.95"/>
<circle cx="200.76" cy="387.28" r="2.95"/>
<circle cx="116.77" cy="382.47" r="2.95"/>
<circle cx="117.87" cy="369.7" r="2.95"/>
<circle cx="103.64" cy="397.4" r="2.95"/>
<circle cx="119.9" cy="368.43" r="2.95"/>
<circle cx="180.83" cy="380.24" r="2.95"/>
<circle cx="220.51" cy="418.1" r="2.95"/>
<circle cx="97.5" cy="375.07" r="2.95"/>
<circle cx="229.42" cy="390.06" r="2.95"/>
<circle cx="106.45" cy="363.59" r="2.95"/>
<circle cx="180.86" cy="404.18" r="2.95"/>
<circle cx="94.71" cy="388.77" r="2.95"/>
<circle cx="195.01" cy="411.38" r="2.95"/>
<circle cx="191.23" cy="409.36" r="2.95"/>
<circle cx="123.05" cy="381.48" r="2.95"/>
<circle cx="219.46" cy="403.95" r="2.95"/>
<circle cx="176.05" cy="421.39" r="2.95"/>
<circle cx="186.41" cy="400.29" r="2.95"/>
<circle cx="133.14" cy="381.92" r="2.95"/>
<circle cx="217.47" cy="387.59" r="2.95"/>
<circle cx="223.66" cy="423.89" r="2.95"/>
<circle cx="170.26" cy="387.37" r="2.95"/>
<circle cx="184.99" cy="405.32" r="2.95"/>
<circle cx="221.62" cy="411.65" r="2.95"/>
<circle cx="196.3" cy="424.05" r="2.95"/>
<circle cx="157.56" cy="410.7" r="2.95"/>
<circle cx="134.69" cy="377.41" r="2.95"/>
<circle cx="101.34" cy="386.19" r="2.95"/>
<circle cx="130.42" cy="368.23" r="2.95"/>
<circle cx="136.81" cy="403.31" r="2.95"/>
<circle cx="172.01" cy="405.44" r="2.95"/>
<circle cx="197.27" cy="409.23" r="2.95"/>
<circle cx="181.76" cy="406.02" r="2.95"/>
<circle cx="135.11" cy="383.03" r="2.95"/>
<circle cx="158.08" cy="412.73" r="2.95"/>
<circle cx="224.51" cy="419.67" r="2.95"/>
<circle cx="181.09" cy="406.49" r="2.95"/>
<circle cx="148.05" cy="405.66" r="2.95"/>
<circle cx="144.91" cy="412.21" r="2.95"/>
<circle cx="121.48" cy="380.73" r="2.95"/>
<circle cx="104.77" cy="387.78" r="2.95"/>
<circle cx="114.16" cy="366.46" r="2.95"/>
<circle cx="191.78" cy="392.86" r="2.95"/>
<circle cx="162.19" cy="413.86" r="2.95"/>
<circle cx="123.92" cy="391.41" r="2.95"/>
<circle cx="99.28" cy="365.18" r="2.95"/>
<circle cx="151.12" cy="408.16" r="2.95"/>
<circle cx="138.13" cy="382.85" r="2.95"/>
<circle cx="177.02" cy="411.19" r="2.95"/>
<circle cx="180.19" cy="427.45" r="2.95"/>
<circle cx="191.85" cy="392.69" r="2.95"/>
<circle cx="127.42" cy="367" r="2.95"/>
<circle cx="170.87" cy="408" r="2.95"/>
<circle cx="206.09" cy="403.06" r="2.95"/>
<circle cx="194.88" cy="419.36" r="2.95"/>
<circle cx="163.01" cy="408.05" r="2.95"/>
<circle cx="205.11" cy="378.45" r="2.95"/>
<circle cx="120.82" cy="369.74" r="2.95"/>
<circle cx="108.03" cy="382.77" r="2.95"/>
<circle cx="221.36" cy="404.71" r="2.95"/>
<circle cx="219.1" cy="400.9" r="2.95"/>
<circle cx="227.77" cy="399.76" r="2.95"/>
<circle cx="140.33" cy="393.58" r="2.95"/>
<circle cx="153.62" cy="389.53" r="2.95"/>
<circle cx="141.36" cy="390.74" r="2.95"/>
<circle cx="236.49" cy="397.11" r="2.95"/>
<circle cx="193.48" cy="397.55" r="2.95"/>
<circle cx="117.22" cy="399.17" r="2.95"/>
<circle cx="154.6" cy="394.58" r="2.95"/>
<circle cx="133.11" cy="404.5" r="2.95"/>
<circle cx="185.58" cy="428.87" r="2.95"/>
<circle cx="136.4" cy="406.61" r="2.95"/>
<circle cx="168.1" cy="393.48" r="2.95"/>
<circle cx="121.94" cy="374.6" r="2.95"/>
<circle cx="201.4" cy="416.64" r="2.95"/>
<circle cx="161.47" cy="402.6" r="2.95"/>
<circle cx="172.16" cy="422.48" r="2.95"/>
<circle cx="132.77" cy="388.27" r="2.95"/>
<circle cx="206.65" cy="376.77" r="2.95"/>
<circle cx="129.09" cy="379.02" r="2.95"/>
<circle cx="143.17" cy="380.18" r="2.95"/>
<circle cx="206.57" cy="407.95" r="2.95"/>
<circle cx="212.72" cy="425.9" r="2.95"/>
<circle cx="141.15" cy="368.19" r="2.95"/>
<circle cx="170" cy="390.01" r="2.95"/>
<circle cx="228.63" cy="406.89" r="2.95"/>
<circle cx="202.23" cy="384.93" r="2.95"/>
<circle cx="116.26" cy="395.86" r="2.95"/>
<circle cx="216.15" cy="384.42" r="2.95"/>
<circle cx="127.98" cy="370.67" r="2.95"/>
<circle cx="169.14" cy="388.55" r="2.95"/>
<circle cx="202.77" cy="414.68" r="2.95"/>
<circle cx="215.09" cy="408.02" r="2.95"/>
<circle cx="137.16" cy="391.92" r="2.95"/>
<circle cx="118.07" cy="400.05" r="2.95"/>
<circle cx="154.88" cy="377.74" r="2.95"/>
<circle cx="235.08" cy="382.35" r="2.95"/>
<circle cx="134.31" cy="396.54" r="2.95"/>
<circle cx="181.58" cy="407.98" r="2.95"/>
<circle cx="239.06" cy="396.09" r="2.95"/>
<circle cx="163.7" cy="391.1" r="2.95"/>
<circle cx="236.56" cy="404.44" r="2.95"/>
<circle cx="139.88" cy="381" r="2.95"/>
<circle cx="235.87" cy="385.37" r="2.95"/>
<circle cx="95.06" cy="356.55" r="2.95"/>
<circle cx="200.74" cy="403.6" r="2.95"/>
<circle cx="112.25" cy="361.83" r="2.95"/>
<circle cx="214.13" cy="398.54" r="2.95"/>
<circle cx="228.78" cy="400.89" r="2.95"/>
<circle cx="234.2" cy="397.16" r="2.95"/>
<circle cx="114.36" cy="380.65" r="2.95"/>
<circle cx="153.08" cy="407.25" r="2.95"/>
<circle cx="137.25" cy="380.02" r="2.95"/>
<circle cx="232.97" cy="399.55" r="2.95"/>
<circle cx="102.67" cy="370.73" r="2.95"/>
<circle cx="101.81" cy="390.93" r="2.95"/>
<circle cx="216.98" cy="415.54" r="2.95"/>
<circle cx="116.12" cy="391.51" r="2.95"/>
<circle cx="196.48" cy="414.26" r="2.95"/>
<circle cx="175.77" cy="382.68" r="2.95"/>
<circle cx="108.21" cy="388.74" r="2.95"/>
<circle cx="129.39" cy="379.19" r="2.95"/>
<circle cx="209.42" cy="399.81" r="2.95"/>
<circle cx="106.09" cy="371.43" r="2.95"/>
<circle cx="144.38" cy="401.25" r="2.95"/>
<circle cx="119.33" cy="392.19" r="2.95"/>
<circle cx="221.57" cy="407.22" r="2.95"/>
<circle cx="232.21" cy="399.82" r="2.95"/>
<circle cx="108.95" cy="359.71" r="2.95"/>
<circle cx="181.34" cy="419.48" r="2.95"/>
<circle cx="167.45" cy="398.42" r="2.95"/>
<circle cx="152.86" cy="395.55" r="2.95"/>
<circle cx="95.41" cy="384.31" r="2.95"/>
<circle cx="159.33" cy="391.79" r="2.95"/>
<circle cx="99.31" cy="375.84" r="2.95"/>
<circle cx="191.11" cy="384.39" r="2.95"/>
<circle cx="111.06" cy="373.4" r="2.95"/>
<circle cx="233.41" cy="410.68" r="2.95"/>
<circle cx="223.29" cy="405.27" r="2.95"/>
<circle cx="202.12" cy="392.49" r="2.95"/>
<circle cx="194.47" cy="385.3" r="2.95"/>
<circle cx="122.08" cy="382.05" r="2.95"/>
<circle cx="140.26" cy="369.76" r="2.95"/>
<circle cx="122.06" cy="382.27" r="2.95"/>
<circle cx="102.18" cy="391.71" r="2.95"/>
<circle cx="217.95" cy="389.04" r="2.95"/>
<circle cx="104.29" cy="374.95" r="2.95"/>
<circle cx="180.45" cy="412.24" r="2.95"/>
<circle cx="226.08" cy="404.22" r="2.95"/>
<circle cx="227.27" cy="411.67" r="2.95"/>
<circle cx="147.66" cy="407.45" r="2.95"/>
<circle cx="164.24" cy="376.38" r="2.95"/>
<circle cx="168.7" cy="399.69" r="2.95"/>
<circle cx="130.94" cy="391.77" r="2.95"/>
<circle cx="153.84" cy="406.77" r="2.95"/>
<circle cx="200" cy="417.64" r="2.95"/>
<circle cx="146.78" cy="372.01" r="2.95"/>
<circle cx="200.81" cy="421.13" r="2.95"/>
<circle cx="143.99" cy="373.49" r="2.95"/>
<circle cx="208.26" cy="413.2" r="2.95"/>
<circle cx="195.54" cy="404.08" r="2.95"/>
<circle cx="123.15" cy="376.33" r="2.95"/>
<circle cx="214.9" cy="413.55" r="2.95"/>
<circle cx="145.82" cy="370.1" r="2.95"/>
<circle cx="226.56" cy="385.85" r="2.95"/>
<circle cx="230.3" cy="384.73" r="2.95"/>
<circle cx="211.18" cy="379.84" r="2.95"/>
<circle cx="232.25" cy="385.88" r="2.95"/>
<circle cx="149.19" cy="380.27" r="2.95"/>
<circle cx="196.09" cy="403.08" r="2.95"/>
<circle cx="138.7" cy="404.93" r="2.95"/>
<circle cx="136.43" cy="383.73" r="2.95"/>
<circle cx="181.13" cy="380.08" r="2.95"/>
<circle cx="215.02" cy="420.37" r="2.95"/>
<circle cx="94.81" cy="380.37" r="2.95"/>
<circle cx="160.82" cy="364.76" r="2.95"/>
<circle cx="156.08" cy="392.22" r="2.95"/>
<circle cx="113.41" cy="392.49" r="2.95"/>
<circle cx="185.6" cy="397.39" r="2.95"/>
<circle cx="144.46" cy="382.39" r="2.95"/>
<circle cx="193.32" cy="406.83" r="2.95"/>
<circle cx="166.52" cy="388.93" r="2.95"/>
<circle cx="127.91" cy="404.94" r="2.95"/>
<circle cx="136.87" cy="396.21" r="2.95"/>
<circle cx="164.31" cy="402.34" r="2.95"/>
<circle cx="136.01" cy="408.11" r="2.95"/>
<circle cx="185.91" cy="417.53" r="2.95"/>
<circle cx="121.99" cy="386.15" r="2.95"/>
<circle cx="177.8" cy="415.04" r="2.95"/>
<circle cx="220.49" cy="409.03" r="2.95"/>
<circle cx="217.33" cy="413.09" r="2.95"/>
<circle cx="185.2" cy="425.16" r="2.95"/>
<circle cx="145.65" cy="392.42" r="2.95"/>
<circle cx="227.9" cy="378.2" r="2.95"/>
<circle cx="142.28" cy="413.09" r="2.95"/>
<circle cx="151.78" cy="393.79" r="2.95"/>
<circle cx="234.8" cy="388.88" r="2.95"/>
<circle cx="130.71" cy="404.11" r="2.95"/>
<circle cx="147.05" cy="398.81" r="2.95"/>
<circle cx="183.44" cy="403.22" r="2.95"/>
<circle cx="213.39" cy="408.07" r="2.95"/>
<circle cx="226.38" cy="381.08" r="2.95"/>
<circle cx="115.64" cy="398.71" r="2.95"/>
<circle cx="162.96" cy="395.01" r="2.95"/>
<circle cx="167.6" cy="422.82" r="2.95"/>
<circle cx="210.34" cy="398.01" r="2.95"/>
<circle cx="110.85" cy="396.21" r="2.95"/>
<circle cx="94.18" cy="368.1" r="2.95"/>
<circle cx="126.56" cy="372.91" r="2.95"/>
<circle cx="104.48" cy="365.78" r="2.95"/>
<circle cx="236.84" cy="381.5" r="2.95"/>
<circle cx="157.39" cy="385.65" r="2.95"/>
<circle cx="220.59" cy="389.27" r="2.95"/>
<circle cx="193.07" cy="397.05" r="2.95"/>
<circle cx="187.58" cy="403.78" r="2.95"/>
<circle cx="201.46" cy="412.73" r="2.95"/>
<circle cx="190.1" cy="406.08" r="2.95"/>
<circle cx="135.53" cy="395.76" r="2.95"/>
<circle cx="167.21" cy="383.59" r="2.95"/>
<circle cx="148.06" cy="385.48" r="2.95"/>
<circle cx="157.36" cy="415.94" r="2.95"/>
<circle cx="110.73" cy="393.29" r="2.95"/>
<circle cx="176.86" cy="383.71" r="2.95"/>
<circle cx="180.95" cy="411.06" r="2.95"/>
<circle cx="106.52" cy="389.02" r="2.95"/>
<circle cx="110.48" cy="365.69" r="2.95"/>
<circle cx="100.67" cy="363.09" r="2.95"/>
<circle cx="239.02" cy="382.96" r="2.95"/>
<circle cx="198.36" cy="399.65" r="2.95"/>
<circle cx="131.01" cy="391.21" r="2.95"/>
<circle cx="156.81" cy="371.19" r="2.95"/>
<circle cx="134.45" cy="370.56" r="2.95"/>
<circle cx="167.63" cy="411.91" r="2.95"/>
<circle cx="190.92" cy="420.3" r="2.95"/>
<circle cx="127.98" cy="402.31" r="2.95"/>
<circle cx="160.93" cy="411.36" r="2.95"/>
<circle cx="191.21" cy="408.92" r="2.95"/>
<circle cx="154.82" cy="379.84" r="2.95"/>
<circle cx="205.95" cy="405.47" r="2.95"/>
<circle cx="178.26" cy="392.93" r="2.95"/>
<circle cx="222.53" cy="423.55" r="2.95"/>
<circle cx="120.35" cy="376.3" r="2.95"/>
<circle cx="135.02" cy="369.88" r="2.95"/>
<circle cx="200.98" cy="399.13" r="2.95"/>
<circle cx="201.18" cy="420.29" r="2.95"/>
<circle cx="175.07" cy="420.6" r="2.95"/>
<circle cx="212.24" cy="403.43" r="2.95"/>
<circle cx="102.54" cy="376" r="2.95"/>
<circle cx="236.87" cy="405.05" r="2.95"/>
<circle cx="160.81" cy="415.65" r="2.95"/>
<circle cx="98.31" cy="387.09" r="2.95"/>
<circle cx="165.62" cy="381.74" r="2.95"/>
<circle cx="128.39" cy="402.73" r="2.95"/>
<circle cx="173.85" cy="379.93" r="2.95"/>
<circle cx="215.66" cy="400.63" r="2.95"/>
<circle cx="209.32" cy="402.34" r="2.95"/>
<circle cx="163.44" cy="403.99" r="2.95"/>
<circle cx="126.05" cy="392.99" r="2.95"/>
<circle cx="150.34" cy="395.95" r="2.95"/>
<circle cx="96.41" cy="375.64" r="2.95"/>
<circle cx="226.51" cy="421.82" r="2.95"/>
<circle cx="210.16" cy="416.9" r="2.95"/>
<circle cx="196.73" cy="408.65" r="2.95"/>
<circle cx="210.14" cy="373.49" r="2.95"/>
<circle cx="193.5" cy="426.24" r="2.95"/>
<circle cx="213.07" cy="394.45" r="2.95"/>
<circle cx="106.61" cy="380.81" r="2.95"/>
<circle cx="189.43" cy="389.7" r="2.95"/>
<circle cx="177.83" cy="425.21" r="2.95"/>
<circle cx="235.56" cy="406.39" r="2.95"/>
<circle cx="207.91" cy="388.57" r="2.95"/>
<circle cx="146.79" cy="383.57" r="2.95"/>
<circle cx="170.05" cy="399.24" r="2.95"/>
<circle cx="181.74" cy="395.48" r="2.95"/>
<circle cx="126.51" cy="374.33" r="2.95"/>
<circle cx="173.08" cy="394.56" r="2.95"/>
<circle cx="123.73" cy="362.29" r="2.95"/>
<circle cx="172.26" cy="404.4" r="2.95"/>
<circle cx="212.78" cy="411.85" r="2.95"/>
<circle cx="208.41" cy="390.51" r="2.95"/>
<circle cx="209.8" cy="404.19" r="2.95"/>
<circle cx="204.71" cy="407.21" r="2.95"/>
<circle cx="172.69" cy="400.6" r="2.95"/>
<circle cx="118.03" cy="373.9" r="2.95"/>
<circle cx="101.54" cy="377.41" r="2.95"/>
<circle cx="101.62" cy="368.41" r="2.95"/>
<circle cx="130.12" cy="364.73" r="2.95"/>
<circle cx="126.51" cy="398.78" r="2.95"/>
<circle cx="135.41" cy="393.91" r="2.95"/>
<circle cx="214.19" cy="397.24" r="2.95"/>
<circle cx="124.59" cy="394.81" r="2.95"/>
<circle cx="142.79" cy="391.34" r="2.95"/>
<circle cx="92.67" cy="370.5" r="2.95"/>
<circle cx="110.12" cy="394.13" r="2.95"/>
<circle cx="207.4" cy="400.87" r="2.95"/>
<circle cx="152.52" cy="414.82" r="2.95"/>
<circle cx="203.86" cy="401.35" r="2.95"/>
<circle cx="235.67" cy="385.78" r="2.95"/>
<circle cx="193.7" cy="399.22" r="2.95"/>
<circle cx="165.86" cy="390.69" r="2.95"/>
<circle cx="168.98" cy="419.59" r="2.95"/>
<circle cx="227.93" cy="384.05" r="2.95"/>
<circle cx="124.75" cy="387.76" r="2.95"/>
<circle cx="106.08" cy="383.89" r="2.95"/>
<circle cx="198.99" cy="412.88" r="2.95"/>
<circle cx="134.86" cy="412.81" r="2.95"/>
<circle cx="175.88" cy="400.37" r="2.95"/>
<circle cx="113.18" cy="377" r="2.95"/>
<circle cx="206.76" cy="405.27" r="2.95"/>
<circle cx="169.58" cy="397.29" r="2.95"/>
<circle cx="191.02" cy="406.01" r="2.95"/>
<circle cx="166.01" cy="415.39" r="2.95"/>
<circle cx="106.89" cy="384.6" r="2.95"/>
<circle cx="156.03" cy="397.17" r="2.95"/>
<circle cx="149.36" cy="384.7" r="2.95"/>
<circle cx="202.88" cy="381.75" r="2.95"/>
<circle cx="132.32" cy="388.27" r="2.95"/>
<circle cx="125.05" cy="368.7" r="2.95"/>
<circle cx="215.07" cy="388.68" r="2.95"/>
<circle cx="141.5" cy="398.28" r="2.95"/>
<circle cx="103.95" cy="383.17" r="2.95"/>
<circle cx="106.12" cy="397.12" r="2.95"/>
<circle cx="128.44" cy="385.79" r="2.95"/>
<circle cx="112.8" cy="362.89" r="2.95"/>
<circle cx="120.62" cy="375.9" r="2.95"/>
<circle cx="209.06" cy="382.55" r="2.95"/>
<circle cx="147.77" cy="370.25" r="2.95"/>
<circle cx="160.64" cy="393.98" r="2.95"/>
<circle cx="114.69" cy="376.27" r="2.95"/>
<circle cx="213.74" cy="409.92" r="2.95"/>
<circle cx="112.62" cy="369" r="2.95"/>
<circle cx="219.17" cy="399.47" r="2.95"/>
<circle cx="103.96" cy="361.19" r="2.95"/>
<circle cx="169.24" cy="389.3" r="2.95"/>
<circle cx="223.88" cy="409.09" r="2.95"/>
<circle cx="197.2" cy="418.85" r="2.95"/>
<circle cx="106.56" cy="380.82" r="2.95"/>
<circle cx="172.79" cy="418.24" r="2.95"/>
<circle cx="105.04" cy="368.75" r="2.95"/>
<circle cx="143.23" cy="409.49" r="2.95"/>
<circle cx="225.56" cy="415.69" r="2.95"/>
<circle cx="217.22" cy="394.19" r="2.95"/>
<circle cx="173.4" cy="383.15" r="2.95"/>
<circle cx="216.69" cy="409.41" r="2.95"/>
<circle cx="231.92" cy="414.51" r="2.95"/>
<circle cx="212.78" cy="408.28" r="2.95"/>
<circle cx="159" cy="397.33" r="2.95"/>
<circle cx="231.36" cy="411.41" r="2.95"/>
<circle cx="201.65" cy="421.57" r="2.95"/>
<circle cx="138.15" cy="369.28" r="2.95"/>
<circle cx="176.5" cy="386.33" r="2.95"/>
<circle cx="106.44" cy="384.3" r="2.95"/>
<circle cx="95.15" cy="394.12" r="2.95"/>
<circle cx="195.15" cy="397.18" r="2.95"/>
<circle cx="201.71" cy="388.81" r="2.95"/>
<circle cx="181.49" cy="421.78" r="2.95"/>
<circle cx="128.73" cy="397.14" r="2.95"/>
<circle cx="127.24" cy="379.15" r="2.95"/>
<circle cx="236.08" cy="394.53" r="2.95"/>
<circle cx="194.5" cy="423.39" r="2.95"/>
<circle cx="176.54" cy="423.93" r="2.95"/>
<circle cx="181.81" cy="384.9" r="2.95"/>
<circle cx="208.19" cy="400.7" r="2.95"/>
<circle cx="122.12" cy="385.85" r="2.95"/>
<circle cx="138.54" cy="374.37" r="2.95"/>
<circle cx="112.3" cy="382.41" r="2.95"/>
<circle cx="185.12" cy="415.52" r="2.95"/>
<circle cx="162.55" cy="408.77" r="2.95"/>
<circle cx="188.14" cy="413.68" r="2.95"/>
<circle cx="238.09" cy="385.6" r="2.95"/>
<circle cx="163.19" cy="414.27" r="2.95"/>
<circle cx="236.63" cy="407.28" r="2.95"/>
<circle cx="228.91" cy="391.56" r="2.95"/>
<circle cx="170.91" cy="384.17" r="2.95"/>
<circle cx="205.19" cy="410.12" r="2.95"/>
<circle cx="235.18" cy="394.48" r="2.95"/>
<circle cx="141.16" cy="377.45" r="2.95"/>
<circle cx="105.5" cy="375.22" r="2.95"/>
<circle cx="95.77" cy="385.45" r="2.95"/>
<circle cx="170.26" cy="416.35" r="2.95"/>
<circle cx="205.43" cy="398.31" r="2.95"/>
<circle cx="202.13" cy="413.02" r="2.95"/>
<circle cx="149.95" cy="370.01" r="2.95"/>
<circle cx="226.1" cy="403.8" r="2.95"/>
<circle cx="113.87" cy="369.57" r="2.95"/>
<circle cx="95.57" cy="373.11" r="2.95"/>
<circle cx="189.28" cy="399.42" r="2.95"/>
<circle cx="90.8" cy="390.96" r="2.95"/>
<circle cx="127.94" cy="380.54" r="2.95"/>
<circle cx="138.53" cy="383.55" r="2.95"/>
<circle cx="205.6" cy="390.84" r="2.95"/>
<circle cx="105.79" cy="391.6" r="2.95"/>
<circle cx="105.01" cy="374.7" r="2.95"/>
<circle cx="195.11" cy="403.45" r="2.95"/>
<circle cx="218.69" cy="422.44" r="2.95"/>
<circle cx="108.03" cy="370.85" r="2.95"/>
<circle cx="113.44" cy="367.49" r="2.95"/>
<circle cx="181.83" cy="394.27" r="2.95"/>
<circle cx="101.22" cy="397.64" r="2.95"/>
<circle cx="181.46" cy="394.26" r="2.95"/>
<circle cx="239.31" cy="381.79" r="2.95"/>
<circle cx="238.35" cy="386.58" r="2.95"/>
<circle cx="97.43" cy="360.97" r="2.95"/>
<circle cx="142.4" cy="391.51" r="2.95"/>
<circle cx="165.9" cy="419.02" r="2.95"/>
<circle cx="107.49" cy="364.17" r="2.95"/>
<circle cx="157.15" cy="398.53" r="2.95"/>
<circle cx="189.99" cy="400.31" r="2.95"/>
<circle cx="172.57" cy="399.14" r="2.95"/>
<circle cx="206.69" cy="379.76" r="2.95"/>
<circle cx="129.89" cy="390.29" r="2.95"/>
<circle cx="98.17" cy="383.53" r="2.95"/>
<circle cx="201.46" cy="418.76" r="2.95"/>
<circle cx="178.96" cy="425.27" r="2.95"/>
<circle cx="163.81" cy="388.58" r="2.95"/>
<circle cx="168.45" cy="401.68" r="2.95"/>
<circle cx="240.52" cy="400.3" r="2.95"/>
<circle cx="108.2" cy="392.63" r="2.95"/>
<circle cx="160.56" cy="388.71" r="2.95"/>
<circle cx="202.33" cy="394.99" r="2.95"/>
<circle cx="102.96" cy="387.44" r="2.95"/>
<circle cx="143.48" cy="411.66" r="2.95"/>
<circle cx="169.57" cy="395.16" r="2.95"/>
<circle cx="179.94" cy="386.48" r="2.95"/>
<circle cx="220.53" cy="409.3" r="2.95"/>
<circle cx="231.27" cy="397.29" r="2.95"/>
<circle cx="210.9" cy="393.1" r="2.95"/>
<circle cx="122.06" cy="405.74" r="2.95"/>
<circle cx="224.58" cy="379.27" r="2.95"/>
<circle cx="115.35" cy="399.13" r="2.95"/>
<circle cx="162.68" cy="411.31" r="2.95"/>
<circle cx="218.95" cy="388.46" r="2.95"/>
<circle cx="132.77" cy="368.81" r="2.95"/>
<circle cx="166.93" cy="378.06" r="2.95"/>
<circle cx="140.58" cy="386.05" r="2.95"/>
<circle cx="111.95" cy="378.94" r="2.95"/>
<circle cx="196.28" cy="399.44" r="2.95"/>
<circle cx="121.17" cy="368.86" r="2.95"/>
<circle cx="237.76" cy="390.36" r="2.95"/>
<circle cx="199.52" cy="400.5" r="2.95"/>
<circle cx="221.34" cy="400.98" r="2.95"/>
<circle cx="226.15" cy="405.02" r="2.95"/>
<circle cx="100.19" cy="388.1" r="2.95"/>
<circle cx="115.43" cy="375.87" r="2.95"/>
<circle cx="237.66" cy="390.76" r="2.95"/>
<circle cx="164.41" cy="406.19" r="2.95"/>
<circle cx="211.04" cy="373.43" r="2.95"/>
<circle cx="164.14" cy="406.82" r="2.95"/>
<circle cx="168.8" cy="411.03" r="2.95"/>
<circle cx="148.21" cy="396.36" r="2.95"/>
<circle cx="233.08" cy="405.8" r="2.95"/>
<circle cx="191.48" cy="401.26" r="2.95"/>
<circle cx="152.53" cy="378.63" r="2.95"/>
<circle cx="227.85" cy="408.76" r="2.95"/>
<circle cx="174.34" cy="426.82" r="2.95"/>
<circle cx="143.97" cy="408.83" r="2.95"/>
<circle cx="98.08" cy="391.65" r="2.95"/>
<circle cx="209.51" cy="378.84" r="2.95"/>
<circle cx="231.02" cy="375.37" r="2.95"/>
<circle cx="212.14" cy="405.23" r="2.95"/>
<circle cx="144.95" cy="388.96" r="2.95"/>
<circle cx="117.6" cy="404.07" r="2.95"/>
<circle cx="176.91" cy="413.71" r="2.95"/>
<circle cx="187.91" cy="407.21" r="2.95"/>
<circle cx="188.13" cy="385.91" r="2.95"/>
<circle cx="109.66" cy="369.21" r="2.95"/>
<circle cx="208.38" cy="385.47" r="2.95"/>
<circle cx="151.18" cy="393.43" r="2.95"/>
<circle cx="137.43" cy="394.61" r="2.95"/>
<circle cx="133.22" cy="387.46" r="2.95"/>
<circle cx="202.4" cy="405.68" r="2.95"/>
<circle cx="115.78" cy="362.06" r="2.95"/>
<circle cx="125.81" cy="362.01" r="2.95"/>
<circle cx="196.5" cy="398.79" r="2.95"/>
<circle cx="217.27" cy="407.83" r="2.95"/>
<circle cx="184.46" cy="406.06" r="2.95"/>
<circle cx="146.5" cy="404.42" r="2.95"/>
<circle cx="146.27" cy="392.7" r="2.95"/>
<circle cx="227.55" cy="402.27" r="2.95"/>
<circle cx="156.68" cy="384.51" r="2.95"/>
<circle cx="227" cy="398.45" r="2.95"/>
<circle cx="133.62" cy="398.64" r="2.95"/>
<circle cx="164.85" cy="393.64" r="2.95"/>
<circle cx="118.91" cy="362.24" r="2.95"/>
<circle cx="238.36" cy="381.38" r="2.95"/>
<circle cx="154.09" cy="392" r="2.95"/>
<circle cx="229.03" cy="398.9" r="2.95"/>
<circle cx="222.24" cy="380.19" r="2.95"/>
<circle cx="192.94" cy="393.56" r="2.95"/>
<circle cx="121.12" cy="382.77" r="2.95"/>
<circle cx="219.69" cy="416.02" r="2.95"/>
<circle cx="208.11" cy="408.02" r="2.95"/>
<circle cx="168.22" cy="395.19" r="2.95"/>
<circle cx="152.71" cy="409.17" r="2.95"/>
<circle cx="173.97" cy="377.87" r="2.95"/>
<circle cx="116.25" cy="376.21" r="2.95"/>
<circle cx="203.73" cy="386.74" r="2.95"/>
<circle cx="226.45" cy="381.45" r="2.95"/>
<circle cx="122.23" cy="389.92" r="2.95"/>
<circle cx="144.6" cy="406.58" r="2.95"/>
<circle cx="96.36" cy="364.1" r="2.95"/>
<circle cx="223.9" cy="393.1" r="2.95"/>
<circle cx="130" cy="392.53" r="2.95"/>
<circle cx="123.78" cy="400.57" r="2.95"/>
<circle cx="170.23" cy="405.25" r="2.95"/>
<circle cx="131.82" cy="388.47" r="2.95"/>
<circle cx="130.98" cy="402.54" r="2.95"/>
<circle cx="162.83" cy="394.34" r="2.95"/>
<circle cx="99.68" cy="388.82" r="2.95"/>
<circle cx="230.96" cy="397.54" r="2.95"/>
<circle cx="113.53" cy="374.85" r="2.95"/>
<circle cx="151.78" cy="412.1" r="2.95"/>
<circle cx="163.25" cy="414.68" r="2.95"/>
<circle cx="128.03" cy="364.17" r="2.95"/>
<circle cx="104.24" cy="393.26" r="2.95"/>
<circle cx="225.35" cy="427.02" r="2.95"/>
<circle cx="178.87" cy="413.35" r="2.95"/>
<circle cx="150.84" cy="391.39" r="2.95"/>
<circle cx="223.07" cy="409.86" r="2.95"/>
<circle cx="168.63" cy="398.3" r="2.95"/>
<circle cx="119.32" cy="388.47" r="2.95"/>
<circle cx="213.53" cy="399.02" r="2.95"/>
<circle cx="205.86" cy="397.37" r="2.95"/>
<circle cx="125" cy="389.18" r="2.95"/>
<circle cx="93.25" cy="386.83" r="2.95"/>
<circle cx="136.21" cy="384.2" r="2.95"/>
<circle cx="191.61" cy="427.06" r="2.95"/>
<circle cx="129.54" cy="401.54" r="2.95"/>
<circle cx="159.85" cy="395.03" r="2.95"/>
<circle cx="126.44" cy="391.72" r="2.95"/>
<circle cx="127.09" cy="388.98" r="2.95"/>
<circle cx="215.55" cy="426.76" r="2.95"/>
<circle cx="216.32" cy="423.45" r="2.95"/>
<circle cx="234.27" cy="415.14" r="2.95"/>
<circle cx="193.9" cy="407.53" r="2.95"/>
<circle cx="188.16" cy="409.27" r="2.95"/>
<circle cx="169.43" cy="399.92" r="2.95"/>
<circle cx="208.38" cy="394.58" r="2.95"/>
<circle cx="119.88" cy="392.27" r="2.95"/>
<circle cx="179.86" cy="387.78" r="2.95"/>
<circle cx="213.03" cy="408.24" r="2.95"/>
<circle cx="127.97" cy="374.16" r="2.95"/>
<circle cx="204.92" cy="379.52" r="2.95"/>
<circle cx="216.64" cy="383.64" r="2.95"/>
<circle cx="234.48" cy="416.27" r="2.95"/>
<circle cx="191.83" cy="396" r="2.95"/>
<circle cx="109.46" cy="400.03" r="2.95"/>
<circle cx="92.36" cy="396.28" r="2.95"/>
<circle cx="174.14" cy="419.26" r="2.95"/>
<circle cx="168.14" cy="416.03" r="2.95"/>
<circle cx="92.28" cy="388.38" r="2.95"/>
<circle cx="209.87" cy="411.84" r="2.95"/>
<circle cx="169.54" cy="416.5" r="2.95"/>
<circle cx="140.29" cy="381.66" r="2.95"/>
<circle cx="184.7" cy="405.74" r="2.95"/>
<circle cx="104.32" cy="398.05" r="2.95"/>
<circle cx="230.19" cy="406.68" r="2.95"/>
<circle cx="178.29" cy="415.02" r="2.95"/>
<circle cx="203.66" cy="407" r="2.95"/>
<circle cx="164.87" cy="416.43" r="2.95"/>
<circle cx="98" cy="383.96" r="2.95"/>
<circle cx="238.09" cy="376.85" r="2.95"/>
<circle cx="109.56" cy="365.42" r="2.95"/>
<circle cx="134.55" cy="393.92" r="2.95"/>
<circle cx="200.54" cy="401.18" r="2.95"/>
<circle cx="156.74" cy="393.98" r="2.95"/>
<circle cx="147.76" cy="411.19" r="2.95"/>
<circle cx="114.36" cy="377.75" r="2.95"/>
<circle cx="191" cy="417.22" r="2.95"/>
<circle cx="99.5" cy="393.65" r="2.95"/>
<circle cx="153.76" cy="388.48" r="2.95"/>
<circle cx="98.09" cy="371.01" r="2.95"/>
<circle cx="201.22" cy="386.71" r="2.95"/>
<circle cx="154.06" cy="395.44" r="2.95"/>
<circle cx="198.6" cy="396.04" r="2.95"/>
<circle cx="122.99" cy="365.23" r="2.95"/>
<circle cx="180.29" cy="390.28" r="2.95"/>
<circle cx="165.69" cy="391.44" r="2.95"/>
<circle cx="105.05" cy="365.9" r="2.95"/>
<circle cx="236.79" cy="382.75" r="2.95"/>
<circle cx="107.13" cy="371.57" r="2.95"/>
<circle cx="236.04" cy="415.14" r="2.95"/>
<circle cx="182.39" cy="393.21" r="2.95"/>
<circle cx="221.9" cy="407.27" r="2.95"/>
<circle cx="179.9" cy="400.4" r="2.95"/>
<circle cx="216.1" cy="376.42" r="2.95"/>
<circle cx="184.38" cy="414.36" r="2.95"/>
<circle cx="156.74" cy="386.97" r="2.95"/>
<circle cx="134.28" cy="411.15" r="2.95"/>
<circle cx="130.43" cy="380.13" r="2.95"/>
<circle cx="188.2" cy="411.74" r="2.95"/>
<circle cx="168.33" cy="395.07" r="2.95"/>
<circle cx="170.85" cy="417.78" r="2.95"/>
<circle cx="173.35" cy="397.83" r="2.95"/>
<circle cx="141.42" cy="401.37" r="2.95"/>
<circle cx="145.84" cy="393.93" r="2.95"/>
<circle cx="149.59" cy="405.66" r="2.95"/>
<circle cx="181.11" cy="387.69" r="2.95"/>
<circle cx="125.94" cy="376.37" r="2.95"/>
<circle cx="114.21" cy="390.11" r="2.95"/>
<circle cx="177.49" cy="408.99" r="2.95"/>
<circle cx="207.53" cy="402.92" r="2.95"/>
<circle cx="123.26" cy="405.46" r="2.95"/>
<circle cx="219.63" cy="386.49" r="2.95"/>
<circle cx="166.62" cy="379.63" r="2.95"/>
<circle cx="198.14" cy="403.32" r="2.95"/>
<circle cx="133.54" cy="398.76" r="2.95"/>
<circle cx="232.1" cy="409.85" r="2.95"/>
<circle cx="96.9" cy="402.52" r="2.95"/>
<circle cx="205.36" cy="418.9" r="2.95"/>
<circle cx="172.12" cy="381.06" r="2.95"/>
<circle cx="171.35" cy="378.04" r="2.95"/>
<circle cx="195.04" cy="407.58" r="2.95"/>
<circle cx="163.4" cy="397.27" r="2.95"/>
<circle cx="100.8" cy="333.4" r="2.95"/>
<circle cx="113.9" cy="328.5" r="2.95"/>
<circle cx="113.9" cy="334.3" r="2.95"/>
<circle cx="148.1" cy="339" r="2.95"/>
<circle cx="158.9" cy="343.1" r="2.95"/>
<circle cx="132.2" cy="343.4" r="2.95"/>
<circle cx="115.4" cy="345.9" r="2.95"/>
<circle cx="113.9" cy="347.4" r="2.95"/>
<circle cx="91.1" cy="348.2" r="2.95"/>
<circle cx="102.6" cy="350.8" r="2.95"/>
<circle cx="135" cy="352.8" r="2.95"/>
<circle cx="92.6" cy="353.1" r="2.95"/>
<circle cx="153.5" cy="354.7" r="2.95"/>
<circle cx="145.8" cy="357" r="2.95"/>
<circle cx="110" cy="355.1" r="2.95"/>
<circle cx="117" cy="354.8" r="2.95"/>
<circle cx="159.7" cy="358.5" r="2.95"/>
<circle cx="160.4" cy="363.2" r="2.95"/>
<circle cx="125" cy="357.8" r="2.95"/>
<circle cx="122.7" cy="360" r="2.95"/>
<circle cx="98" cy="356.2" r="2.95"/>
<circle cx="92.6" cy="358.5" r="2.95"/>
<circle cx="137.3" cy="366.2" r="2.95"/>
<circle cx="140.4" cy="366.2" r="2.95"/>
<circle cx="150.4" cy="367" r="2.95"/>
<circle cx="163.5" cy="370.1" r="2.95"/>
<circle cx="228.2" cy="329.6" r="2.95"/>
<circle cx="230.5" cy="333.6" r="2.95"/>
<circle cx="235.9" cy="341.3" r="2.95"/>
<circle cx="236.2" cy="344.7" r="2.95"/>
<circle cx="240.5" cy="348.2" r="2.95"/>
<circle cx="235.9" cy="350.5" r="2.95"/>
<circle cx="229.7" cy="353.1" r="2.95"/>
<circle cx="226.7" cy="356.2" r="2.95"/>
<circle cx="188.1" cy="345.7" r="2.95"/>
<circle cx="209.7" cy="359" r="2.95"/>
<circle cx="191.5" cy="361.6" r="2.95"/>
<circle cx="242.8" cy="362.4" r="2.95"/>
<circle cx="184.3" cy="368.2" r="2.95"/>
<circle cx="192.4" cy="370.9" r="2.95"/>
<circle cx="166.5" cy="369.3" r="2.95"/>
<circle cx="171.5" cy="372" r="2.95"/>
<circle cx="211.2" cy="369" r="2.95"/>
<circle cx="207.9" cy="370.9" r="2.95"/>
<circle cx="232" cy="369.3" r="2.95"/>
<circle cx="240.5" cy="372.4" r="2.95"/>
<circle cx="202" cy="374.3" r="2.95"/>
<circle cx="222" cy="371.6" r="2.95"/>
<circle cx="226.7" cy="372.1" r="2.95"/>
<circle cx="218.2" cy="376.3" r="2.95"/>
<circle cx="232.8" cy="375.8" r="2.95"/>
<circle cx="178.1" cy="376.3" r="2.95"/>
<circle cx="181.2" cy="377.8" r="2.95"/>
<circle cx="94.9" cy="406.1" r="2.95"/>
<circle cx="98.8" cy="408.1" r="2.95"/>
<circle cx="94.2" cy="410.4" r="2.95"/>
<circle cx="107.7" cy="405.8" r="2.95"/>
<circle cx="111.1" cy="401.5" r="2.95"/>
<circle cx="104.6" cy="413.2" r="2.95"/>
<circle cx="110" cy="413.2" r="2.95"/>
<circle cx="122.7" cy="405" r="2.95"/>
<circle cx="121.9" cy="414.7" r="2.95"/>
<circle cx="92.9" cy="419.2" r="2.95"/>
<circle cx="113.4" cy="420" r="2.95"/>
<circle cx="119.1" cy="420.4" r="2.95"/>
<circle cx="92.3" cy="427.1" r="2.95"/>
<circle cx="131.9" cy="427.4" r="2.95"/>
<circle cx="141.2" cy="430.9" r="2.95"/>
<circle cx="146.6" cy="433.2" r="2.95"/>
<circle cx="143.8" cy="436.6" r="2.95"/>
<circle cx="120.1" cy="433.5" r="2.95"/>
<circle cx="112.4" cy="437.9" r="2.95"/>
<circle cx="94.2" cy="438.6" r="2.95"/>
<circle cx="110" cy="444.6" r="2.95"/>
<circle cx="101.6" cy="452.3" r="2.95"/>
<circle cx="108.8" cy="452.6" r="2.95"/>
<circle cx="165.8" cy="440" r="2.95"/>
<circle cx="92.9" cy="462.5" r="2.95"/>
<circle cx="96.9" cy="465.6" r="2.95"/>
<circle cx="155.8" cy="461.6" r="2.95"/>
<circle cx="129.6" cy="410.4" r="2.95"/>
<circle cx="133.5" cy="415" r="2.95"/>
<circle cx="139.6" cy="415.8" r="2.95"/>
<circle cx="150.4" cy="418.1" r="2.95"/>
<circle cx="160.4" cy="419.7" r="2.95"/>
<circle cx="166.2" cy="439.7" r="2.95"/>
<circle cx="176.6" cy="436.6" r="2.95"/>
<circle cx="176.6" cy="445.6" r="2.95"/>
<circle cx="180.4" cy="432" r="2.95"/>
<circle cx="188.9" cy="441.2" r="2.95"/>
<circle cx="190.4" cy="436.6" r="2.95"/>
<circle cx="192.7" cy="434.3" r="2.95"/>
<circle cx="201.5" cy="444.3" r="2.95"/>
<circle cx="202.8" cy="434.3" r="2.95"/>
<circle cx="213.6" cy="435.1" r="2.95"/>
<circle cx="221.7" cy="439.7" r="2.95"/>
<circle cx="219.7" cy="431.2" r="2.95"/>
<circle cx="225.9" cy="427.4" r="2.95"/>
<circle cx="236.7" cy="427.1" r="2.95"/>
<circle cx="242.1" cy="433.8" r="2.95"/>
<circle cx="242.1" cy="444" r="2.95"/>
<circle cx="233.6" cy="448.6" r="2.95"/>
<circle cx="241.3" cy="454.3" r="2.95"/>
<circle cx="213.6" cy="455.9" r="2.95"/>
<circle cx="206.3" cy="458.5" r="2.95"/>
<circle cx="197.4" cy="462.4" r="2.95"/>
<circle cx="240.5" cy="418.1" r="2.95"/>
<path d="M90.75,392.8 C92.24,391.82 96.66,388.18 99.7,386.9 C102.74,385.62 105.12,385.22 109,385.1 C112.88,384.98 118.72,385.58 123,386.2 C127.28,386.82 130.8,387.73 134.7,388.8 C138.6,389.87 142.5,391.38 146.4,392.6 C150.3,393.82 154.2,394.93 158.1,396.1 C162,397.27 165.9,398.52 169.8,399.6 C173.7,400.68 177.62,401.63 181.5,402.6 C185.38,403.57 189.22,404.53 193.1,405.4 C196.98,406.27 201.28,407.28 204.8,407.8 C208.32,408.32 211.08,408.7 214.2,408.5 C217.32,408.3 220.38,407.9 223.5,406.6 C226.62,405.3 229.58,403.03 232.9,400.7 C236.22,398.37 241.65,393.95 243.4,392.6" fill="none" stroke="#ff0000" stroke-width="2.6" stroke-linecap="butt"/>
<circle cx="378.18" cy="399.69" r="2.95"/>
<circle cx="413.47" cy="429.59" r="2.95"/>
<circle cx="419.54" cy="388.84" r="2.95"/>
<circle cx="434.08" cy="427.95" r="2.95"/>
<circle cx="378.91" cy="404.17" r="2.95"/>
<circle cx="377.47" cy="397.62" r="2.95"/>
<circle cx="393.22" cy="409.75" r="2.95"/>
<circle cx="427.25" cy="447.4" r="2.95"/>
<circle cx="427.45" cy="386.72" r="2.95"/>
<circle cx="359.51" cy="384.34" r="2.95"/>
<circle cx="421.43" cy="409.34" r="2.95"/>
<circle cx="361.76" cy="402.41" r="2.95"/>
<circle cx="414.38" cy="431.19" r="2.95"/>
<circle cx="390.69" cy="423.83" r="2.95"/>
<circle cx="436.74" cy="413.59" r="2.95"/>
<circle cx="397.03" cy="392.4" r="2.95"/>
<circle cx="351.35" cy="373.9" r="2.95"/>
<circle cx="321.56" cy="375.8" r="2.95"/>
<circle cx="390.64" cy="428.24" r="2.95"/>
<circle cx="441.15" cy="424.42" r="2.95"/>
<circle cx="415.97" cy="418.31" r="2.95"/>
<circle cx="380.59" cy="420.43" r="2.95"/>
<circle cx="356.31" cy="394.81" r="2.95"/>
<circle cx="336.67" cy="385.8" r="2.95"/>
<circle cx="390.42" cy="433.93" r="2.95"/>
<circle cx="350.25" cy="382.76" r="2.95"/>
<circle cx="433.6" cy="436.02" r="2.95"/>
<circle cx="372.75" cy="368.14" r="2.95"/>
<circle cx="411.2" cy="401.75" r="2.95"/>
<circle cx="384.33" cy="412.49" r="2.95"/>
<circle cx="425.41" cy="426.1" r="2.95"/>
<circle cx="343.01" cy="355.51" r="2.95"/>
<circle cx="328.04" cy="391.1" r="2.95"/>
<circle cx="436.97" cy="442.64" r="2.95"/>
<circle cx="334.27" cy="355.95" r="2.95"/>
<circle cx="368.53" cy="366" r="2.95"/>
<circle cx="406.36" cy="419.45" r="2.95"/>
<circle cx="424.57" cy="416.93" r="2.95"/>
<circle cx="319.79" cy="364.37" r="2.95"/>
<circle cx="376.94" cy="402.91" r="2.95"/>
<circle cx="415.42" cy="407.74" r="2.95"/>
<circle cx="441.19" cy="414.88" r="2.95"/>
<circle cx="443" cy="425.05" r="2.95"/>
<circle cx="398.17" cy="419" r="2.95"/>
<circle cx="397.56" cy="408.16" r="2.95"/>
<circle cx="380.94" cy="394.46" r="2.95"/>
<circle cx="348.59" cy="396.93" r="2.95"/>
<circle cx="334.77" cy="381.51" r="2.95"/>
<circle cx="323.3" cy="383.59" r="2.95"/>
<circle cx="331.48" cy="385.12" r="2.95"/>
<circle cx="416.29" cy="427.16" r="2.95"/>
<circle cx="435.12" cy="434.92" r="2.95"/>
<circle cx="385.69" cy="423.58" r="2.95"/>
<circle cx="346.58" cy="382.75" r="2.95"/>
<circle cx="403.88" cy="413.2" r="2.95"/>
<circle cx="361.71" cy="391.67" r="2.95"/>
<circle cx="343.45" cy="391.39" r="2.95"/>
<circle cx="415.17" cy="403.03" r="2.95"/>
<circle cx="385.57" cy="392.09" r="2.95"/>
<circle cx="416.09" cy="389.78" r="2.95"/>
<circle cx="406.76" cy="410.32" r="2.95"/>
<circle cx="329.46" cy="384.47" r="2.95"/>
<circle cx="439.27" cy="392.59" r="2.95"/>
<circle cx="377.4" cy="396.08" r="2.95"/>
<circle cx="434.73" cy="437.79" r="2.95"/>
<circle cx="361.74" cy="398.52" r="2.95"/>
<circle cx="338.57" cy="377.36" r="2.95"/>
<circle cx="389.83" cy="416.79" r="2.95"/>
<circle cx="357.87" cy="396.16" r="2.95"/>
<circle cx="419.42" cy="400.18" r="2.95"/>
<circle cx="400.62" cy="423.84" r="2.95"/>
<circle cx="383.39" cy="384.76" r="2.95"/>
<circle cx="399.47" cy="419.56" r="2.95"/>
<circle cx="417.4" cy="405.62" r="2.95"/>
<circle cx="428.62" cy="425.06" r="2.95"/>
<circle cx="369.48" cy="402.57" r="2.95"/>
<circle cx="435.81" cy="440.54" r="2.95"/>
<circle cx="365.95" cy="358.22" r="2.95"/>
<circle cx="427.97" cy="398.87" r="2.95"/>
<circle cx="310.8" cy="356.86" r="2.95"/>
<circle cx="375.09" cy="410.93" r="2.95"/>
<circle cx="319.67" cy="379.03" r="2.95"/>
<circle cx="348.29" cy="369.52" r="2.95"/>
<circle cx="424.82" cy="436.57" r="2.95"/>
<circle cx="383.91" cy="385.46" r="2.95"/>
<circle cx="427.81" cy="420.18" r="2.95"/>
<circle cx="379.79" cy="423.58" r="2.95"/>
<circle cx="369.98" cy="398.7" r="2.95"/>
<circle cx="403.2" cy="417.74" r="2.95"/>
<circle cx="345.98" cy="392.05" r="2.95"/>
<circle cx="344.14" cy="391.19" r="2.95"/>
<circle cx="384.79" cy="419.57" r="2.95"/>
<circle cx="387.29" cy="428.57" r="2.95"/>
<circle cx="407.79" cy="389.85" r="2.95"/>
<circle cx="359.08" cy="382.43" r="2.95"/>
<circle cx="418.29" cy="405.35" r="2.95"/>
<circle cx="365.58" cy="384.52" r="2.95"/>
<circle cx="414.36" cy="401.81" r="2.95"/>
<circle cx="388.93" cy="409.24" r="2.95"/>
<circle cx="341.65" cy="380.33" r="2.95"/>
<circle cx="417.38" cy="428.62" r="2.95"/>
<circle cx="440.63" cy="421.9" r="2.95"/>
<circle cx="412.92" cy="415.67" r="2.95"/>
<circle cx="356.3" cy="366.98" r="2.95"/>
<circle cx="375.86" cy="369.49" r="2.95"/>
<circle cx="432.19" cy="387.15" r="2.95"/>
<circle cx="400.98" cy="407.75" r="2.95"/>
<circle cx="369.79" cy="397.15" r="2.95"/>
<circle cx="388.16" cy="387.33" r="2.95"/>
<circle cx="339.46" cy="363.07" r="2.95"/>
<circle cx="427.69" cy="450.87" r="2.95"/>
<circle cx="433.35" cy="393.32" r="2.95"/>
<circle cx="389.33" cy="378.96" r="2.95"/>
<circle cx="409.56" cy="409.32" r="2.95"/>
<circle cx="394.32" cy="407.33" r="2.95"/>
<circle cx="323.33" cy="392.64" r="2.95"/>
<circle cx="385.76" cy="413.22" r="2.95"/>
<circle cx="435.26" cy="414.94" r="2.95"/>
<circle cx="404.77" cy="414.25" r="2.95"/>
<circle cx="357.32" cy="390.56" r="2.95"/>
<circle cx="343.31" cy="379.57" r="2.95"/>
<circle cx="408.33" cy="424.72" r="2.95"/>
<circle cx="386.38" cy="420.39" r="2.95"/>
<circle cx="318.76" cy="370.65" r="2.95"/>
<circle cx="369.29" cy="396.52" r="2.95"/>
<circle cx="436.86" cy="437.34" r="2.95"/>
<circle cx="332.7" cy="375.28" r="2.95"/>
<circle cx="434.05" cy="387.38" r="2.95"/>
<circle cx="396.35" cy="407.09" r="2.95"/>
<circle cx="330.54" cy="371.04" r="2.95"/>
<circle cx="405.31" cy="422.64" r="2.95"/>
<circle cx="347.19" cy="379.22" r="2.95"/>
<circle cx="386.18" cy="391.06" r="2.95"/>
<circle cx="424.86" cy="405.1" r="2.95"/>
<circle cx="357.26" cy="366.3" r="2.95"/>
<circle cx="319.04" cy="377.72" r="2.95"/>
<circle cx="415.02" cy="387.62" r="2.95"/>
<circle cx="365.95" cy="394.78" r="2.95"/>
<circle cx="318.34" cy="369.77" r="2.95"/>
<circle cx="320.5" cy="375.83" r="2.95"/>
<circle cx="391.72" cy="390.95" r="2.95"/>
<circle cx="314.21" cy="369.99" r="2.95"/>
<circle cx="369.38" cy="383.88" r="2.95"/>
<circle cx="391.49" cy="421.58" r="2.95"/>
<circle cx="377.87" cy="421.31" r="2.95"/>
<circle cx="350.43" cy="365.54" r="2.95"/>
<circle cx="368.25" cy="394.72" r="2.95"/>
<circle cx="376.16" cy="410.98" r="2.95"/>
<circle cx="402.2" cy="426.66" r="2.95"/>
<circle cx="404.56" cy="392.35" r="2.95"/>
<circle cx="371.07" cy="374.86" r="2.95"/>
<circle cx="400.34" cy="432.93" r="2.95"/>
<circle cx="318.46" cy="376.86" r="2.95"/>
<circle cx="435.96" cy="426.15" r="2.95"/>
<circle cx="347.81" cy="390.4" r="2.95"/>
<circle cx="442.19" cy="427.65" r="2.95"/>
<circle cx="433.54" cy="421.49" r="2.95"/>
<circle cx="352.94" cy="385.4" r="2.95"/>
<circle cx="347.47" cy="386.35" r="2.95"/>
<circle cx="329.95" cy="374.43" r="2.95"/>
<circle cx="406.31" cy="395.75" r="2.95"/>
<circle cx="324.64" cy="372.83" r="2.95"/>
<circle cx="442.1" cy="434.58" r="2.95"/>
<circle cx="403.33" cy="396.42" r="2.95"/>
<circle cx="383.04" cy="384.77" r="2.95"/>
<circle cx="414.33" cy="433.84" r="2.95"/>
<circle cx="417.83" cy="415.86" r="2.95"/>
<circle cx="407.49" cy="398.35" r="2.95"/>
<circle cx="406.19" cy="403.05" r="2.95"/>
<circle cx="415.15" cy="389.13" r="2.95"/>
<circle cx="416.8" cy="420.93" r="2.95"/>
<circle cx="438.29" cy="416.82" r="2.95"/>
<circle cx="423.12" cy="413.67" r="2.95"/>
<circle cx="362.14" cy="369.29" r="2.95"/>
<circle cx="362.26" cy="391.38" r="2.95"/>
<circle cx="411.28" cy="397.76" r="2.95"/>
<circle cx="338.89" cy="362.55" r="2.95"/>
<circle cx="384.71" cy="422.34" r="2.95"/>
<circle cx="369.79" cy="409.72" r="2.95"/>
<circle cx="374.71" cy="378.87" r="2.95"/>
<circle cx="382.57" cy="425.76" r="2.95"/>
<circle cx="378.85" cy="422.03" r="2.95"/>
<circle cx="389.01" cy="424.96" r="2.95"/>
<circle cx="364.27" cy="384.43" r="2.95"/>
<circle cx="388.42" cy="397.86" r="2.95"/>
<circle cx="362.28" cy="398.35" r="2.95"/>
<circle cx="339.15" cy="379.81" r="2.95"/>
<circle cx="418.54" cy="405.78" r="2.95"/>
<circle cx="390.51" cy="420.49" r="2.95"/>
<circle cx="381.24" cy="383.23" r="2.95"/>
<circle cx="357.31" cy="378.14" r="2.95"/>
<circle cx="410.95" cy="402.06" r="2.95"/>
<circle cx="391.58" cy="414.44" r="2.95"/>
<circle cx="413.25" cy="423.24" r="2.95"/>
<circle cx="365.74" cy="403.56" r="2.95"/>
<circle cx="361.26" cy="370.18" r="2.95"/>
<circle cx="368.66" cy="387.94" r="2.95"/>
<circle cx="439.51" cy="439.19" r="2.95"/>
<circle cx="422.94" cy="411.7" r="2.95"/>
<circle cx="406.42" cy="392.7" r="2.95"/>
<circle cx="430.27" cy="427.51" r="2.95"/>
<circle cx="319.87" cy="373.96" r="2.95"/>
<circle cx="437.39" cy="403.97" r="2.95"/>
<circle cx="366.59" cy="372.33" r="2.95"/>
<circle cx="355.96" cy="362.15" r="2.95"/>
<circle cx="432.6" cy="394.47" r="2.95"/>
<circle cx="428.73" cy="412.84" r="2.95"/>
<circle cx="425.52" cy="423.85" r="2.95"/>
<circle cx="413.07" cy="382.42" r="2.95"/>
<circle cx="409.8" cy="411.75" r="2.95"/>
<circle cx="346.25" cy="391.14" r="2.95"/>
<circle cx="398.5" cy="416.01" r="2.95"/>
<circle cx="436.52" cy="426.05" r="2.95"/>
<circle cx="414.93" cy="417.98" r="2.95"/>
<circle cx="362.43" cy="369.22" r="2.95"/>
<circle cx="428.82" cy="431.88" r="2.95"/>
<circle cx="334.19" cy="392.77" r="2.95"/>
<circle cx="412.02" cy="410.21" r="2.95"/>
<circle cx="410.59" cy="414.17" r="2.95"/>
<circle cx="428.6" cy="417.91" r="2.95"/>
<circle cx="443.16" cy="417.86" r="2.95"/>
<circle cx="402.91" cy="385.15" r="2.95"/>
<circle cx="422.69" cy="429.64" r="2.95"/>
<circle cx="440.7" cy="406.08" r="2.95"/>
<circle cx="318.56" cy="374.43" r="2.95"/>
<circle cx="352.31" cy="377.25" r="2.95"/>
<circle cx="424.2" cy="432.85" r="2.95"/>
<circle cx="445.31" cy="418.7" r="2.95"/>
<circle cx="436.01" cy="413.67" r="2.95"/>
<circle cx="340.14" cy="402.11" r="2.95"/>
<circle cx="431.98" cy="421.55" r="2.95"/>
<circle cx="428.36" cy="413.47" r="2.95"/>
<circle cx="329.57" cy="372.16" r="2.95"/>
<circle cx="322.22" cy="390.05" r="2.95"/>
<circle cx="436.58" cy="440.91" r="2.95"/>
<circle cx="338.16" cy="368.49" r="2.95"/>
<circle cx="431.19" cy="388.09" r="2.95"/>
<circle cx="408.3" cy="406.03" r="2.95"/>
<circle cx="379.27" cy="375.34" r="2.95"/>
<circle cx="386.33" cy="404.19" r="2.95"/>
<circle cx="357.57" cy="360.09" r="2.95"/>
<circle cx="367.38" cy="391.67" r="2.95"/>
<circle cx="427.63" cy="435.19" r="2.95"/>
<circle cx="342.34" cy="359.05" r="2.95"/>
<circle cx="345.51" cy="360.77" r="2.95"/>
<circle cx="338.98" cy="360.14" r="2.95"/>
<circle cx="364.36" cy="396.39" r="2.95"/>
<circle cx="383.78" cy="397.68" r="2.95"/>
<circle cx="345.68" cy="371.92" r="2.95"/>
<circle cx="411.45" cy="405.09" r="2.95"/>
<circle cx="427.75" cy="447.19" r="2.95"/>
<circle cx="330.29" cy="364.77" r="2.95"/>
<circle cx="366.98" cy="389.05" r="2.95"/>
<circle cx="361.57" cy="396.83" r="2.95"/>
<circle cx="406.94" cy="389.54" r="2.95"/>
<circle cx="340.76" cy="361.45" r="2.95"/>
<circle cx="338.93" cy="393.01" r="2.95"/>
<circle cx="367.13" cy="364.47" r="2.95"/>
<circle cx="368.39" cy="381.91" r="2.95"/>
<circle cx="328.83" cy="361.46" r="2.95"/>
<circle cx="371.35" cy="369.42" r="2.95"/>
<circle cx="407.16" cy="387.28" r="2.95"/>
<circle cx="338.71" cy="350.53" r="2.95"/>
<circle cx="345.98" cy="365.6" r="2.95"/>
<circle cx="407.01" cy="395.54" r="2.95"/>
<circle cx="368.83" cy="376.14" r="2.95"/>
<circle cx="410.17" cy="408.15" r="2.95"/>
<circle cx="320.48" cy="366.76" r="2.95"/>
<circle cx="327.25" cy="388.29" r="2.95"/>
<circle cx="331.12" cy="376.75" r="2.95"/>
<circle cx="398.05" cy="414.17" r="2.95"/>
<circle cx="439.41" cy="398.85" r="2.95"/>
<circle cx="315.22" cy="383.5" r="2.95"/>
<circle cx="377.23" cy="387.81" r="2.95"/>
<circle cx="315.53" cy="368.67" r="2.95"/>
<circle cx="400.82" cy="421.88" r="2.95"/>
<circle cx="330.39" cy="367.67" r="2.95"/>
<circle cx="323.27" cy="360.17" r="2.95"/>
<circle cx="358.85" cy="392.76" r="2.95"/>
<circle cx="442.91" cy="394.4" r="2.95"/>
<circle cx="365.98" cy="389.02" r="2.95"/>
<circle cx="422.65" cy="423.89" r="2.95"/>
<circle cx="366" cy="366.74" r="2.95"/>
<circle cx="384.13" cy="401.65" r="2.95"/>
<circle cx="367.01" cy="394.49" r="2.95"/>
<circle cx="378.98" cy="399.5" r="2.95"/>
<circle cx="383.63" cy="426.63" r="2.95"/>
<circle cx="338.05" cy="394.08" r="2.95"/>
<circle cx="345.73" cy="398.27" r="2.95"/>
<circle cx="392.09" cy="426.32" r="2.95"/>
<circle cx="443.73" cy="397.52" r="2.95"/>
<circle cx="389.8" cy="416.08" r="2.95"/>
<circle cx="328.46" cy="382.47" r="2.95"/>
<circle cx="382.38" cy="424.02" r="2.95"/>
<circle cx="336.18" cy="359.39" r="2.95"/>
<circle cx="352.14" cy="377.58" r="2.95"/>
<circle cx="344.82" cy="369.39" r="2.95"/>
<circle cx="374.03" cy="396.49" r="2.95"/>
<circle cx="333.19" cy="389.09" r="2.95"/>
<circle cx="334.33" cy="381.86" r="2.95"/>
<circle cx="443.24" cy="400.5" r="2.95"/>
<circle cx="394.36" cy="409.05" r="2.95"/>
<circle cx="408.53" cy="398.68" r="2.95"/>
<circle cx="408.73" cy="393.17" r="2.95"/>
<circle cx="441.41" cy="417.56" r="2.95"/>
<circle cx="400.83" cy="414.16" r="2.95"/>
<circle cx="419.31" cy="421.95" r="2.95"/>
<circle cx="435.92" cy="414.31" r="2.95"/>
<circle cx="351.34" cy="357.35" r="2.95"/>
<circle cx="425.69" cy="423.1" r="2.95"/>
<circle cx="417.94" cy="402.22" r="2.95"/>
<circle cx="317.59" cy="379.72" r="2.95"/>
<circle cx="387.57" cy="418.39" r="2.95"/>
<circle cx="333.19" cy="355.5" r="2.95"/>
<circle cx="375.76" cy="396.31" r="2.95"/>
<circle cx="353.32" cy="400.52" r="2.95"/>
<circle cx="435.07" cy="450.28" r="2.95"/>
<circle cx="391.82" cy="400.94" r="2.95"/>
<circle cx="409.19" cy="387.86" r="2.95"/>
<circle cx="413.13" cy="412.3" r="2.95"/>
<circle cx="362.1" cy="385.26" r="2.95"/>
<circle cx="371.11" cy="395.71" r="2.95"/>
<circle cx="399.01" cy="421.28" r="2.95"/>
<circle cx="359.25" cy="370.93" r="2.95"/>
<circle cx="358.6" cy="375.23" r="2.95"/>
<circle cx="321.06" cy="379.39" r="2.95"/>
<circle cx="327.95" cy="368.48" r="2.95"/>
<circle cx="373.41" cy="368.44" r="2.95"/>
<circle cx="429.12" cy="457.15" r="2.95"/>
<circle cx="380.9" cy="431.18" r="2.95"/>
<circle cx="412.03" cy="403.84" r="2.95"/>
<circle cx="354.55" cy="398.93" r="2.95"/>
<circle cx="367.48" cy="396.13" r="2.95"/>
<circle cx="439.6" cy="434.58" r="2.95"/>
<circle cx="432.99" cy="449.15" r="2.95"/>
<circle cx="418.99" cy="428.59" r="2.95"/>
<circle cx="418.32" cy="408.26" r="2.95"/>
<circle cx="355.01" cy="358.74" r="2.95"/>
<circle cx="378.79" cy="402.41" r="2.95"/>
<circle cx="367.77" cy="365.56" r="2.95"/>
<circle cx="385.11" cy="390.94" r="2.95"/>
<circle cx="321.17" cy="388.46" r="2.95"/>
<circle cx="368.79" cy="364.26" r="2.95"/>
<circle cx="415.32" cy="428.02" r="2.95"/>
<circle cx="427.19" cy="427.2" r="2.95"/>
<circle cx="339.23" cy="395.71" r="2.95"/>
<circle cx="386.14" cy="406.07" r="2.95"/>
<circle cx="319.37" cy="371.89" r="2.95"/>
<circle cx="423.9" cy="416.02" r="2.95"/>
<circle cx="368.23" cy="371.08" r="2.95"/>
<circle cx="350.02" cy="388.8" r="2.95"/>
<circle cx="403.06" cy="420.37" r="2.95"/>
<circle cx="400.25" cy="417.68" r="2.95"/>
<circle cx="440.63" cy="416.29" r="2.95"/>
<circle cx="425.53" cy="422.4" r="2.95"/>
<circle cx="364.54" cy="390.7" r="2.95"/>
<circle cx="381.67" cy="394.56" r="2.95"/>
<circle cx="425.22" cy="439.63" r="2.95"/>
<circle cx="341.84" cy="379.08" r="2.95"/>
<circle cx="345.89" cy="400.68" r="2.95"/>
<circle cx="422.23" cy="435.31" r="2.95"/>
<circle cx="422.79" cy="412.44" r="2.95"/>
<circle cx="348.68" cy="398.41" r="2.95"/>
<circle cx="387.08" cy="410.56" r="2.95"/>
<circle cx="430.61" cy="405.18" r="2.95"/>
<circle cx="411.01" cy="431.68" r="2.95"/>
<circle cx="440.03" cy="434.63" r="2.95"/>
<circle cx="326.46" cy="362.56" r="2.95"/>
<circle cx="336.2" cy="371.28" r="2.95"/>
<circle cx="390.44" cy="398.43" r="2.95"/>
<circle cx="333.43" cy="369.19" r="2.95"/>
<circle cx="333.53" cy="389.17" r="2.95"/>
<circle cx="397.54" cy="423.47" r="2.95"/>
<circle cx="401.25" cy="393.29" r="2.95"/>
<circle cx="425.95" cy="442.84" r="2.95"/>
<circle cx="435.89" cy="400.88" r="2.95"/>
<circle cx="433.27" cy="399.68" r="2.95"/>
<circle cx="403.08" cy="402.89" r="2.95"/>
<circle cx="329.56" cy="380.08" r="2.95"/>
<circle cx="325.38" cy="387.94" r="2.95"/>
<circle cx="386.66" cy="413.68" r="2.95"/>
<circle cx="437.18" cy="426.08" r="2.95"/>
<circle cx="330.22" cy="385.62" r="2.95"/>
<circle cx="428.06" cy="422.13" r="2.95"/>
<circle cx="412.57" cy="414.12" r="2.95"/>
<circle cx="327.3" cy="374.35" r="2.95"/>
<circle cx="354.79" cy="381.21" r="2.95"/>
<circle cx="425.45" cy="421.67" r="2.95"/>
<circle cx="402.48" cy="423.35" r="2.95"/>
<circle cx="338.26" cy="382.62" r="2.95"/>
<circle cx="329.31" cy="374.29" r="2.95"/>
<circle cx="424.49" cy="433.84" r="2.95"/>
<circle cx="417.92" cy="418.38" r="2.95"/>
<circle cx="343.07" cy="379.97" r="2.95"/>
<circle cx="429.43" cy="399.3" r="2.95"/>
<circle cx="340.3" cy="361.16" r="2.95"/>
<circle cx="325.66" cy="381.69" r="2.95"/>
<circle cx="412.16" cy="407.45" r="2.95"/>
<circle cx="436.03" cy="436.47" r="2.95"/>
<circle cx="432.73" cy="410.04" r="2.95"/>
<circle cx="408.05" cy="427.86" r="2.95"/>
<circle cx="314.15" cy="379.62" r="2.95"/>
<circle cx="368.74" cy="403.79" r="2.95"/>
<circle cx="424.16" cy="429.13" r="2.95"/>
<circle cx="405.78" cy="422.11" r="2.95"/>
<circle cx="345.88" cy="387.98" r="2.95"/>
<circle cx="427.38" cy="431.83" r="2.95"/>
<circle cx="381.37" cy="390.66" r="2.95"/>
<circle cx="317.85" cy="371.26" r="2.95"/>
<circle cx="334.03" cy="377.83" r="2.95"/>
<circle cx="407.78" cy="419.56" r="2.95"/>
<circle cx="361.06" cy="378.55" r="2.95"/>
<circle cx="321.36" cy="366.9" r="2.95"/>
<circle cx="314.44" cy="379.02" r="2.95"/>
<circle cx="437.47" cy="417.99" r="2.95"/>
<circle cx="438.74" cy="404.27" r="2.95"/>
<circle cx="421.95" cy="405.23" r="2.95"/>
<circle cx="409.9" cy="399.54" r="2.95"/>
<circle cx="349.65" cy="362.54" r="2.95"/>
<circle cx="447.8" cy="412.91" r="2.95"/>
<circle cx="431.78" cy="448.02" r="2.95"/>
<circle cx="355.58" cy="399.66" r="2.95"/>
<circle cx="343.51" cy="368.52" r="2.95"/>
<circle cx="369.59" cy="395.7" r="2.95"/>
<circle cx="324.93" cy="379.29" r="2.95"/>
<circle cx="443.17" cy="414.12" r="2.95"/>
<circle cx="419.34" cy="409.92" r="2.95"/>
<circle cx="369.78" cy="407.23" r="2.95"/>
<circle cx="347.69" cy="385" r="2.95"/>
<circle cx="326.36" cy="360.02" r="2.95"/>
<circle cx="351.73" cy="381.68" r="2.95"/>
<circle cx="444.71" cy="392.72" r="2.95"/>
<circle cx="314.89" cy="373.71" r="2.95"/>
<circle cx="357.2" cy="381.59" r="2.95"/>
<circle cx="384.76" cy="401.38" r="2.95"/>
<circle cx="424.31" cy="439.86" r="2.95"/>
<circle cx="378.23" cy="391.57" r="2.95"/>
<circle cx="424.72" cy="424.83" r="2.95"/>
<circle cx="386.75" cy="421.78" r="2.95"/>
<circle cx="385.4" cy="377.41" r="2.95"/>
<circle cx="365.67" cy="386.78" r="2.95"/>
<circle cx="385.5" cy="421.63" r="2.95"/>
<circle cx="390.86" cy="391.91" r="2.95"/>
<circle cx="421.5" cy="393.78" r="2.95"/>
<circle cx="423.9" cy="422.03" r="2.95"/>
<circle cx="416.22" cy="413.41" r="2.95"/>
<circle cx="447.61" cy="396.72" r="2.95"/>
<circle cx="357.76" cy="383.61" r="2.95"/>
<circle cx="382.34" cy="411.05" r="2.95"/>
<circle cx="376.32" cy="422.15" r="2.95"/>
<circle cx="319.05" cy="390.96" r="2.95"/>
<circle cx="395.35" cy="403.09" r="2.95"/>
<circle cx="365.28" cy="399.26" r="2.95"/>
<circle cx="407.91" cy="426.4" r="2.95"/>
<circle cx="336.04" cy="366.91" r="2.95"/>
<circle cx="389.92" cy="423.96" r="2.95"/>
<circle cx="424.63" cy="404.2" r="2.95"/>
<circle cx="421.94" cy="385.77" r="2.95"/>
<circle cx="370.48" cy="392.25" r="2.95"/>
<circle cx="339.3" cy="367.54" r="2.95"/>
<circle cx="347.39" cy="390.47" r="2.95"/>
<circle cx="399.62" cy="409.81" r="2.95"/>
<circle cx="317.76" cy="377.27" r="2.95"/>
<circle cx="318.87" cy="385.26" r="2.95"/>
<circle cx="407.12" cy="389.14" r="2.95"/>
<circle cx="332.38" cy="373.11" r="2.95"/>
<circle cx="424.2" cy="423.98" r="2.95"/>
<circle cx="425.73" cy="410.8" r="2.95"/>
<circle cx="338.3" cy="384.54" r="2.95"/>
<circle cx="425.76" cy="436.27" r="2.95"/>
<circle cx="389.11" cy="395.4" r="2.95"/>
<circle cx="344.3" cy="402.58" r="2.95"/>
<circle cx="356.2" cy="393.13" r="2.95"/>
<circle cx="351.51" cy="385.44" r="2.95"/>
<circle cx="349.17" cy="360.48" r="2.95"/>
<circle cx="438.55" cy="391.14" r="2.95"/>
<circle cx="315" cy="366.59" r="2.95"/>
<circle cx="356.44" cy="395.3" r="2.95"/>
<circle cx="347.25" cy="362.78" r="2.95"/>
<circle cx="422.47" cy="405.68" r="2.95"/>
<circle cx="376.29" cy="407.18" r="2.95"/>
<circle cx="440.12" cy="424.62" r="2.95"/>
<circle cx="396.29" cy="420.28" r="2.95"/>
<circle cx="319.29" cy="368.04" r="2.95"/>
<circle cx="367.39" cy="365.61" r="2.95"/>
<circle cx="417.1" cy="403.67" r="2.95"/>
<circle cx="405.77" cy="432.71" r="2.95"/>
<circle cx="419.39" cy="398.01" r="2.95"/>
<circle cx="429.86" cy="427.8" r="2.95"/>
<circle cx="434.07" cy="416.72" r="2.95"/>
<circle cx="377.01" cy="402.11" r="2.95"/>
<circle cx="349.5" cy="402.19" r="2.95"/>
<circle cx="424.71" cy="399.94" r="2.95"/>
<circle cx="317.98" cy="372.34" r="2.95"/>
<circle cx="329.22" cy="392.84" r="2.95"/>
<circle cx="392.81" cy="408.38" r="2.95"/>
<circle cx="326.65" cy="376.61" r="2.95"/>
<circle cx="423.53" cy="430.47" r="2.95"/>
<circle cx="400.66" cy="424.34" r="2.95"/>
<circle cx="353.68" cy="397.28" r="2.95"/>
<circle cx="321.66" cy="362.49" r="2.95"/>
<circle cx="346.69" cy="373.9" r="2.95"/>
<circle cx="393.42" cy="427.24" r="2.95"/>
<circle cx="410.39" cy="410.87" r="2.95"/>
<circle cx="412.41" cy="432.99" r="2.95"/>
<circle cx="359.08" cy="395.47" r="2.95"/>
<circle cx="383.1" cy="427.53" r="2.95"/>
<circle cx="416.39" cy="423.66" r="2.95"/>
<circle cx="312.08" cy="372.87" r="2.95"/>
<circle cx="326.43" cy="383.56" r="2.95"/>
<circle cx="380.05" cy="391.46" r="2.95"/>
<circle cx="432.19" cy="435.35" r="2.95"/>
<circle cx="420.77" cy="407.38" r="2.95"/>
<circle cx="348.4" cy="376.4" r="2.95"/>
<circle cx="419.7" cy="418.39" r="2.95"/>
<circle cx="385.09" cy="396.64" r="2.95"/>
<circle cx="347.21" cy="354.62" r="2.95"/>
<circle cx="383.71" cy="389.03" r="2.95"/>
<circle cx="387.55" cy="396.2" r="2.95"/>
<circle cx="357.75" cy="404.04" r="2.95"/>
<circle cx="355.24" cy="357.69" r="2.95"/>
<circle cx="338.84" cy="381.98" r="2.95"/>
<circle cx="349.17" cy="370.77" r="2.95"/>
<circle cx="392.27" cy="409.69" r="2.95"/>
<circle cx="351.68" cy="369.15" r="2.95"/>
<circle cx="432.24" cy="432.47" r="2.95"/>
<circle cx="323.22" cy="393.83" r="2.95"/>
<circle cx="319.42" cy="373.02" r="2.95"/>
<circle cx="318.6" cy="371.12" r="2.95"/>
<circle cx="389.88" cy="409.22" r="2.95"/>
<circle cx="346.84" cy="387.24" r="2.95"/>
<circle cx="393.85" cy="430.8" r="2.95"/>
<circle cx="365.88" cy="368.01" r="2.95"/>
<circle cx="352.59" cy="359.36" r="2.95"/>
<circle cx="328.59" cy="369.87" r="2.95"/>
<circle cx="422.41" cy="417.41" r="2.95"/>
<circle cx="438.07" cy="422.14" r="2.95"/>
<circle cx="442.79" cy="397.42" r="2.95"/>
<circle cx="342" cy="386.24" r="2.95"/>
<circle cx="391.79" cy="400.69" r="2.95"/>
<circle cx="345.37" cy="366.52" r="2.95"/>
<circle cx="331.51" cy="365.34" r="2.95"/>
<circle cx="377.68" cy="417.04" r="2.95"/>
<circle cx="360.1" cy="395.62" r="2.95"/>
<circle cx="369.98" cy="410.84" r="2.95"/>
<circle cx="323.16" cy="371.85" r="2.95"/>
<circle cx="411.78" cy="409.47" r="2.95"/>
<circle cx="380.7" cy="421.76" r="2.95"/>
<circle cx="369.35" cy="361.81" r="2.95"/>
<circle cx="351.35" cy="361.96" r="2.95"/>
<circle cx="388.13" cy="382.98" r="2.95"/>
<circle cx="375.27" cy="377.03" r="2.95"/>
<circle cx="408.63" cy="419.29" r="2.95"/>
<circle cx="376.04" cy="385.34" r="2.95"/>
<circle cx="428.56" cy="435.95" r="2.95"/>
<circle cx="419.55" cy="402.31" r="2.95"/>
<circle cx="385.43" cy="424.35" r="2.95"/>
<circle cx="435.39" cy="392.08" r="2.95"/>
<circle cx="332.81" cy="401.14" r="2.95"/>
<circle cx="381.03" cy="388.75" r="2.95"/>
<circle cx="425.66" cy="395.25" r="2.95"/>
<circle cx="429.84" cy="388.28" r="2.95"/>
<circle cx="423.54" cy="397.22" r="2.95"/>
<circle cx="396.96" cy="390.39" r="2.95"/>
<circle cx="380.47" cy="397.01" r="2.95"/>
<circle cx="354.19" cy="372.7" r="2.95"/>
<circle cx="426.31" cy="430.44" r="2.95"/>
<circle cx="421.24" cy="424.71" r="2.95"/>
<circle cx="431.09" cy="429.3" r="2.95"/>
<circle cx="377.2" cy="427.65" r="2.95"/>
<circle cx="436.96" cy="430.01" r="2.95"/>
<circle cx="421.88" cy="393.65" r="2.95"/>
<circle cx="373.38" cy="373.69" r="2.95"/>
<circle cx="383.26" cy="399.91" r="2.95"/>
<circle cx="351.24" cy="383.21" r="2.95"/>
<circle cx="370.9" cy="407.93" r="2.95"/>
<circle cx="371.83" cy="397.84" r="2.95"/>
<circle cx="375.97" cy="384.82" r="2.95"/>
<circle cx="445.52" cy="409.02" r="2.95"/>
<circle cx="331.52" cy="390.69" r="2.95"/>
<circle cx="417.58" cy="406.13" r="2.95"/>
<circle cx="406.91" cy="430.84" r="2.95"/>
<circle cx="419.75" cy="422.32" r="2.95"/>
<circle cx="361.89" cy="386.8" r="2.95"/>
<circle cx="411.12" cy="424.93" r="2.95"/>
<circle cx="388.53" cy="416.5" r="2.95"/>
<circle cx="421.17" cy="432.39" r="2.95"/>
<circle cx="339.94" cy="387.96" r="2.95"/>
<circle cx="381.46" cy="400.48" r="2.95"/>
<circle cx="439.86" cy="418.02" r="2.95"/>
<circle cx="421.83" cy="402.38" r="2.95"/>
<circle cx="345.99" cy="371.24" r="2.95"/>
<circle cx="318.11" cy="389.51" r="2.95"/>
<circle cx="404.52" cy="392.94" r="2.95"/>
<circle cx="428.51" cy="448.07" r="2.95"/>
<circle cx="356.4" cy="384.21" r="2.95"/>
<circle cx="350.36" cy="398.84" r="2.95"/>
<circle cx="429.54" cy="413.27" r="2.95"/>
<circle cx="433.58" cy="420.59" r="2.95"/>
<circle cx="416.14" cy="407.47" r="2.95"/>
<circle cx="355.67" cy="384.31" r="2.95"/>
<circle cx="427.58" cy="397.39" r="2.95"/>
<circle cx="324.12" cy="383.95" r="2.95"/>
<circle cx="378.77" cy="397.87" r="2.95"/>
<circle cx="353.59" cy="370.08" r="2.95"/>
<circle cx="418.96" cy="435.35" r="2.95"/>
<circle cx="380.67" cy="410.27" r="2.95"/>
<circle cx="388.68" cy="409.41" r="2.95"/>
<circle cx="362.95" cy="365.84" r="2.95"/>
<circle cx="347.15" cy="403.66" r="2.95"/>
<circle cx="390.79" cy="399.51" r="2.95"/>
<circle cx="344.85" cy="397.55" r="2.95"/>
<circle cx="443.92" cy="397.92" r="2.95"/>
<circle cx="361.81" cy="387.42" r="2.95"/>
<circle cx="421.9" cy="425.02" r="2.95"/>
<circle cx="346.18" cy="378.35" r="2.95"/>
<circle cx="373.59" cy="370.62" r="2.95"/>
<circle cx="378.08" cy="398.86" r="2.95"/>
<circle cx="429.18" cy="453.64" r="2.95"/>
<circle cx="352.01" cy="369.38" r="2.95"/>
<circle cx="348.1" cy="401.23" r="2.95"/>
<circle cx="378.7" cy="400.87" r="2.95"/>
<circle cx="350.1" cy="363.73" r="2.95"/>
<circle cx="418.61" cy="411" r="2.95"/>
<circle cx="384.42" cy="418.36" r="2.95"/>
<circle cx="332.39" cy="373.23" r="2.95"/>
<circle cx="425.88" cy="421.32" r="2.95"/>
<circle cx="321.76" cy="386.44" r="2.95"/>
<circle cx="372.53" cy="371.62" r="2.95"/>
<circle cx="345.23" cy="360.11" r="2.95"/>
<circle cx="376.28" cy="409.9" r="2.95"/>
<circle cx="323.01" cy="371.41" r="2.95"/>
<circle cx="441.48" cy="390.58" r="2.95"/>
<circle cx="382.54" cy="381.28" r="2.95"/>
<circle cx="321.23" cy="383.85" r="2.95"/>
<circle cx="354.05" cy="404.08" r="2.95"/>
<circle cx="356.12" cy="351.58" r="2.95"/>
<circle cx="325.49" cy="367.27" r="2.95"/>
<circle cx="411.36" cy="424.65" r="2.95"/>
<circle cx="395.8" cy="398.35" r="2.95"/>
<circle cx="414.8" cy="394.94" r="2.95"/>
<circle cx="409.7" cy="386.66" r="2.95"/>
<circle cx="334.37" cy="392.08" r="2.95"/>
<circle cx="350.73" cy="383.38" r="2.95"/>
<circle cx="402.89" cy="419.57" r="2.95"/>
<circle cx="443.15" cy="403.64" r="2.95"/>
<circle cx="431.92" cy="422.59" r="2.95"/>
<circle cx="432.83" cy="441.3" r="2.95"/>
<circle cx="367.68" cy="402.29" r="2.95"/>
<circle cx="376.87" cy="399.45" r="2.95"/>
<circle cx="429.89" cy="429.77" r="2.95"/>
<circle cx="383.96" cy="421.88" r="2.95"/>
<circle cx="367.55" cy="377.78" r="2.95"/>
<circle cx="358.65" cy="364.24" r="2.95"/>
<circle cx="429.52" cy="438.75" r="2.95"/>
<circle cx="424.57" cy="434.24" r="2.95"/>
<circle cx="441.58" cy="417.71" r="2.95"/>
<circle cx="428.1" cy="404.47" r="2.95"/>
<circle cx="326.31" cy="381.96" r="2.95"/>
<circle cx="433.53" cy="426.82" r="2.95"/>
<circle cx="370.68" cy="405.82" r="2.95"/>
<circle cx="349.23" cy="392.84" r="2.95"/>
<circle cx="413.33" cy="402.69" r="2.95"/>
<circle cx="337.72" cy="371.13" r="2.95"/>
<circle cx="364.97" cy="379.1" r="2.95"/>
<circle cx="422.03" cy="435.57" r="2.95"/>
<circle cx="403.23" cy="436.14" r="2.95"/>
<circle cx="336" cy="360.38" r="2.95"/>
<circle cx="438.45" cy="427.06" r="2.95"/>
<circle cx="348.73" cy="354.5" r="2.95"/>
<circle cx="400.21" cy="417.64" r="2.95"/>
<circle cx="329.04" cy="385.81" r="2.95"/>
<circle cx="354.69" cy="382.23" r="2.95"/>
<circle cx="399.74" cy="401.52" r="2.95"/>
<circle cx="369.65" cy="392.98" r="2.95"/>
<circle cx="440.17" cy="435.96" r="2.95"/>
<circle cx="365.22" cy="391.87" r="2.95"/>
<circle cx="335.01" cy="385.8" r="2.95"/>
<circle cx="406.15" cy="386.84" r="2.95"/>
<circle cx="326.4" cy="387.74" r="2.95"/>
<circle cx="421.73" cy="424.91" r="2.95"/>
<circle cx="379.02" cy="375.08" r="2.95"/>
<circle cx="405.9" cy="433.88" r="2.95"/>
<circle cx="358.08" cy="401.71" r="2.95"/>
<circle cx="408.3" cy="416.27" r="2.95"/>
<circle cx="396.65" cy="425.01" r="2.95"/>
<circle cx="415.34" cy="383.21" r="2.95"/>
<circle cx="395.17" cy="384.2" r="2.95"/>
<circle cx="433.52" cy="439.49" r="2.95"/>
<circle cx="415.53" cy="423.08" r="2.95"/>
<circle cx="373.44" cy="400.3" r="2.95"/>
<circle cx="325.05" cy="380.81" r="2.95"/>
<circle cx="314.77" cy="378.42" r="2.95"/>
<circle cx="434.11" cy="420.57" r="2.95"/>
<circle cx="417.16" cy="412.62" r="2.95"/>
<circle cx="352.26" cy="402.81" r="2.95"/>
<circle cx="440.16" cy="405.74" r="2.95"/>
<circle cx="331.74" cy="376.79" r="2.95"/>
<circle cx="325.87" cy="380.5" r="2.95"/>
<circle cx="426.53" cy="394.92" r="2.95"/>
<circle cx="433.4" cy="443.98" r="2.95"/>
<circle cx="424.05" cy="428.92" r="2.95"/>
<circle cx="433.13" cy="408.66" r="2.95"/>
<circle cx="349.09" cy="383.76" r="2.95"/>
<circle cx="362.49" cy="387.09" r="2.95"/>
<circle cx="422.85" cy="420.97" r="2.95"/>
<circle cx="419.1" cy="422.96" r="2.95"/>
<circle cx="413.02" cy="390.67" r="2.95"/>
<circle cx="354.83" cy="388.05" r="2.95"/>
<circle cx="378.24" cy="423.25" r="2.95"/>
<circle cx="355.02" cy="396.64" r="2.95"/>
<circle cx="354.96" cy="403.6" r="2.95"/>
<circle cx="344.51" cy="364.75" r="2.95"/>
<circle cx="314.36" cy="377.35" r="2.95"/>
<circle cx="434.45" cy="419.22" r="2.95"/>
<circle cx="428.34" cy="442.28" r="2.95"/>
<circle cx="443.51" cy="416.29" r="2.95"/>
<circle cx="443.43" cy="418.42" r="2.95"/>
<circle cx="351.12" cy="353.51" r="2.95"/>
<circle cx="373.11" cy="380.4" r="2.95"/>
<circle cx="334.93" cy="370.25" r="2.95"/>
<circle cx="434.8" cy="407.81" r="2.95"/>
<circle cx="378.87" cy="373.31" r="2.95"/>
<circle cx="350.37" cy="389" r="2.95"/>
<circle cx="413.18" cy="405.46" r="2.95"/>
<circle cx="444.45" cy="400.62" r="2.95"/>
<circle cx="385.49" cy="404.11" r="2.95"/>
<circle cx="440.23" cy="391.97" r="2.95"/>
<circle cx="418.71" cy="394.46" r="2.95"/>
<circle cx="378.47" cy="415.21" r="2.95"/>
<circle cx="343.7" cy="371.09" r="2.95"/>
<circle cx="415.92" cy="409.08" r="2.95"/>
<circle cx="319.63" cy="365.97" r="2.95"/>
<circle cx="357.09" cy="397.33" r="2.95"/>
<circle cx="376.17" cy="404.55" r="2.95"/>
<circle cx="372.58" cy="366.03" r="2.95"/>
<circle cx="330.89" cy="367.43" r="2.95"/>
<circle cx="427.22" cy="413.12" r="2.95"/>
<circle cx="425.56" cy="408.42" r="2.95"/>
<circle cx="319.05" cy="376.26" r="2.95"/>
<circle cx="407.92" cy="397.77" r="2.95"/>
<circle cx="350.15" cy="358.92" r="2.95"/>
<circle cx="357.86" cy="406.68" r="2.95"/>
<circle cx="359.72" cy="372.25" r="2.95"/>
<circle cx="364.49" cy="381.14" r="2.95"/>
<circle cx="424.8" cy="431.9" r="2.95"/>
<circle cx="367.35" cy="360.23" r="2.95"/>
<circle cx="356.89" cy="401.59" r="2.95"/>
<circle cx="432.88" cy="424.51" r="2.95"/>
<circle cx="383.14" cy="415.46" r="2.95"/>
<circle cx="413.84" cy="433.49" r="2.95"/>
<circle cx="366.46" cy="387.44" r="2.95"/>
<circle cx="420.74" cy="428.45" r="2.95"/>
<circle cx="398.02" cy="419.2" r="2.95"/>
<circle cx="405.41" cy="396.94" r="2.95"/>
<circle cx="351.78" cy="394.33" r="2.95"/>
<circle cx="338.99" cy="376.63" r="2.95"/>
<circle cx="434.3" cy="397.19" r="2.95"/>
<circle cx="421.71" cy="401.84" r="2.95"/>
<circle cx="433.25" cy="436.16" r="2.95"/>
<circle cx="386.65" cy="396.38" r="2.95"/>
<circle cx="426.23" cy="389.79" r="2.95"/>
<circle cx="388.39" cy="411.19" r="2.95"/>
<circle cx="317.47" cy="365.34" r="2.95"/>
<circle cx="413.83" cy="422.08" r="2.95"/>
<circle cx="397.34" cy="396.99" r="2.95"/>
<circle cx="376.63" cy="407.52" r="2.95"/>
<circle cx="352.72" cy="374.04" r="2.95"/>
<circle cx="358.12" cy="376.72" r="2.95"/>
<circle cx="317.4" cy="378.87" r="2.95"/>
<circle cx="382.48" cy="374.11" r="2.95"/>
<circle cx="374.16" cy="382.73" r="2.95"/>
<circle cx="419.41" cy="386.46" r="2.95"/>
<circle cx="352.75" cy="370.43" r="2.95"/>
<circle cx="364.22" cy="386.72" r="2.95"/>
<circle cx="327.52" cy="366.11" r="2.95"/>
<circle cx="314.45" cy="367.7" r="2.95"/>
<circle cx="433.14" cy="430.87" r="2.95"/>
<circle cx="347.69" cy="376.33" r="2.95"/>
<circle cx="432.56" cy="412.71" r="2.95"/>
<circle cx="322.95" cy="390.25" r="2.95"/>
<circle cx="395.67" cy="421.14" r="2.95"/>
<circle cx="381.38" cy="393.56" r="2.95"/>
<circle cx="423.68" cy="408.59" r="2.95"/>
<circle cx="387.25" cy="429.89" r="2.95"/>
<circle cx="317.13" cy="377.45" r="2.95"/>
<circle cx="371.96" cy="402.18" r="2.95"/>
<circle cx="349.55" cy="359.57" r="2.95"/>
<circle cx="417.96" cy="407.06" r="2.95"/>
<circle cx="412.57" cy="410.81" r="2.95"/>
<circle cx="334.24" cy="366.16" r="2.95"/>
<circle cx="426.74" cy="429.57" r="2.95"/>
<circle cx="426.21" cy="427.14" r="2.95"/>
<circle cx="406.28" cy="404.35" r="2.95"/>
<circle cx="416.8" cy="416.05" r="2.95"/>
<circle cx="402.46" cy="432.55" r="2.95"/>
<circle cx="443.33" cy="412.4" r="2.95"/>
<circle cx="347.42" cy="394.99" r="2.95"/>
<circle cx="383.45" cy="400.19" r="2.95"/>
<circle cx="322.04" cy="365.52" r="2.95"/>
<circle cx="340.25" cy="376.68" r="2.95"/>
<circle cx="429.32" cy="411.09" r="2.95"/>
<circle cx="358.47" cy="374.31" r="2.95"/>
<circle cx="427.37" cy="433.36" r="2.95"/>
<circle cx="356.36" cy="397.5" r="2.95"/>
<circle cx="329.28" cy="370.93" r="2.95"/>
<circle cx="340.28" cy="397" r="2.95"/>
<circle cx="398.74" cy="420.26" r="2.95"/>
<circle cx="442.05" cy="426.41" r="2.95"/>
<circle cx="400.82" cy="392.34" r="2.95"/>
<circle cx="440.47" cy="415.45" r="2.95"/>
<circle cx="423.48" cy="438.61" r="2.95"/>
<circle cx="424" cy="400.52" r="2.95"/>
<circle cx="359.73" cy="365.01" r="2.95"/>
<circle cx="321.05" cy="379.9" r="2.95"/>
<circle cx="431.16" cy="412.37" r="2.95"/>
<circle cx="429.03" cy="418.13" r="2.95"/>
<circle cx="388.97" cy="382.32" r="2.95"/>
<circle cx="365.5" cy="408.2" r="2.95"/>
<circle cx="432.63" cy="432.04" r="2.95"/>
<circle cx="382.76" cy="422.9" r="2.95"/>
<circle cx="436.34" cy="425.42" r="2.95"/>
<circle cx="329.14" cy="374.14" r="2.95"/>
<circle cx="434.86" cy="417.11" r="2.95"/>
<circle cx="428.14" cy="386.35" r="2.95"/>
<circle cx="380.19" cy="402.53" r="2.95"/>
<circle cx="396.08" cy="406.88" r="2.95"/>
<circle cx="407.69" cy="421.39" r="2.95"/>
<circle cx="392.46" cy="426.9" r="2.95"/>
<circle cx="352.71" cy="353.15" r="2.95"/>
<circle cx="444.68" cy="402.84" r="2.95"/>
<circle cx="350.56" cy="387.18" r="2.95"/>
<circle cx="358.62" cy="383.57" r="2.95"/>
<circle cx="391.78" cy="395.45" r="2.95"/>
<circle cx="378.74" cy="365.86" r="2.95"/>
<circle cx="387.52" cy="405.75" r="2.95"/>
<circle cx="362.78" cy="393.89" r="2.95"/>
<circle cx="368.28" cy="376.39" r="2.95"/>
<circle cx="436.23" cy="444.25" r="2.95"/>
<circle cx="396.17" cy="433.56" r="2.95"/>
<circle cx="318.47" cy="377.89" r="2.95"/>
<circle cx="323.66" cy="380.38" r="2.95"/>
<circle cx="404.32" cy="407.4" r="2.95"/>
<circle cx="373.6" cy="397.6" r="2.95"/>
<circle cx="389.25" cy="405.95" r="2.95"/>
<circle cx="395.59" cy="383.93" r="2.95"/>
<circle cx="365.8" cy="370.26" r="2.95"/>
<circle cx="351.21" cy="390.22" r="2.95"/>
<circle cx="354.44" cy="365.37" r="2.95"/>
<circle cx="427.76" cy="421.44" r="2.95"/>
<circle cx="383.84" cy="412.54" r="2.95"/>
<circle cx="339.87" cy="377.49" r="2.95"/>
<circle cx="351.38" cy="388.15" r="2.95"/>
<circle cx="388.27" cy="386.2" r="2.95"/>
<circle cx="412.76" cy="413.82" r="2.95"/>
<circle cx="406.75" cy="413.51" r="2.95"/>
<circle cx="413.2" cy="400.14" r="2.95"/>
<circle cx="363.86" cy="397.28" r="2.95"/>
<circle cx="440.33" cy="407.16" r="2.95"/>
<circle cx="318.15" cy="377.76" r="2.95"/>
<circle cx="383.29" cy="377.03" r="2.95"/>
<circle cx="396.29" cy="423.18" r="2.95"/>
<circle cx="349.18" cy="373.59" r="2.95"/>
<circle cx="325.35" cy="378.18" r="2.95"/>
<circle cx="442.16" cy="414.61" r="2.95"/>
<circle cx="332.75" cy="387.04" r="2.95"/>
<circle cx="395.18" cy="402.55" r="2.95"/>
<circle cx="348.18" cy="390.9" r="2.95"/>
<circle cx="374.17" cy="374.47" r="2.95"/>
<circle cx="322.12" cy="368.56" r="2.95"/>
<circle cx="408.18" cy="394.72" r="2.95"/>
<circle cx="334.08" cy="354.43" r="2.95"/>
<circle cx="388.14" cy="402.38" r="2.95"/>
<circle cx="413.86" cy="426.65" r="2.95"/>
<circle cx="373.46" cy="386.36" r="2.95"/>
<circle cx="357.35" cy="361.54" r="2.95"/>
<circle cx="379.07" cy="389.66" r="2.95"/>
<circle cx="385.4" cy="411.94" r="2.95"/>
<circle cx="375.01" cy="415.19" r="2.95"/>
<circle cx="382.49" cy="396.57" r="2.95"/>
<circle cx="317.44" cy="389.7" r="2.95"/>
<circle cx="335.41" cy="383.81" r="2.95"/>
<circle cx="354.86" cy="360.7" r="2.95"/>
<circle cx="394.08" cy="391.99" r="2.95"/>
<circle cx="417.76" cy="412.39" r="2.95"/>
<circle cx="429.39" cy="427.89" r="2.95"/>
<circle cx="372.4" cy="390.19" r="2.95"/>
<circle cx="357.75" cy="399.15" r="2.95"/>
<circle cx="389.8" cy="401.35" r="2.95"/>
<circle cx="350.54" cy="393.66" r="2.95"/>
<circle cx="355.65" cy="397.15" r="2.95"/>
<circle cx="379.1" cy="416.05" r="2.95"/>
<circle cx="351.37" cy="392.59" r="2.95"/>
<circle cx="327.97" cy="383.09" r="2.95"/>
<circle cx="390.87" cy="427" r="2.95"/>
<circle cx="433.43" cy="443.51" r="2.95"/>
<circle cx="371.67" cy="396.06" r="2.95"/>
<circle cx="441.5" cy="430.8" r="2.95"/>
<circle cx="400.35" cy="432.48" r="2.95"/>
<circle cx="417.58" cy="388.54" r="2.95"/>
<circle cx="415.74" cy="417.47" r="2.95"/>
<circle cx="375.01" cy="378.29" r="2.95"/>
<circle cx="400.75" cy="408.2" r="2.95"/>
<circle cx="436.7" cy="426.53" r="2.95"/>
<circle cx="390.32" cy="416.92" r="2.95"/>
<circle cx="331.88" cy="353.61" r="2.95"/>
<circle cx="370.42" cy="380.22" r="2.95"/>
<circle cx="425.81" cy="420.17" r="2.95"/>
<circle cx="425.94" cy="431.84" r="2.95"/>
<circle cx="361.54" cy="355.18" r="2.95"/>
<circle cx="363.33" cy="394.74" r="2.95"/>
<circle cx="438.03" cy="432.8" r="2.95"/>
<circle cx="313.1" cy="325.7" r="2.95"/>
<circle cx="320" cy="328.8" r="2.95"/>
<circle cx="327.7" cy="326.5" r="2.95"/>
<circle cx="337" cy="327.2" r="2.95"/>
<circle cx="310.8" cy="331.9" r="2.95"/>
<circle cx="325.4" cy="333.4" r="2.95"/>
<circle cx="335.1" cy="336.5" r="2.95"/>
<circle cx="318.5" cy="338" r="2.95"/>
<circle cx="312.3" cy="339.6" r="2.95"/>
<circle cx="326.2" cy="341.1" r="2.95"/>
<circle cx="312.3" cy="345.7" r="2.95"/>
<circle cx="318.5" cy="348.1" r="2.95"/>
<circle cx="335.1" cy="346.5" r="2.95"/>
<circle cx="349.3" cy="349.6" r="2.95"/>
<circle cx="354" cy="348.1" r="2.95"/>
<circle cx="359.3" cy="351.1" r="2.95"/>
<circle cx="312.3" cy="355" r="2.95"/>
<circle cx="323.1" cy="358.8" r="2.95"/>
<circle cx="370.1" cy="356.5" r="2.95"/>
<circle cx="374" cy="360.4" r="2.95"/>
<circle cx="312.3" cy="362.7" r="2.95"/>
<circle cx="316" cy="352" r="2.95"/>
<circle cx="314" cy="368" r="2.95"/>
<circle cx="432.7" cy="328.5" r="2.95"/>
<circle cx="429.6" cy="334.6" r="2.95"/>
<circle cx="437.3" cy="337.3" r="2.95"/>
<circle cx="405" cy="343.1" r="2.95"/>
<circle cx="417.3" cy="345" r="2.95"/>
<circle cx="418.1" cy="348.1" r="2.95"/>
<circle cx="422.7" cy="350.4" r="2.95"/>
<circle cx="430.4" cy="346.5" r="2.95"/>
<circle cx="431.2" cy="361.9" r="2.95"/>
<circle cx="418.1" cy="369.3" r="2.95"/>
<circle cx="425" cy="372.7" r="2.95"/>
<circle cx="438.1" cy="373.5" r="2.95"/>
<circle cx="395" cy="371.6" r="2.95"/>
<circle cx="383.4" cy="371.2" r="2.95"/>
<circle cx="426.6" cy="380.1" r="2.95"/>
<circle cx="435" cy="379.7" r="2.95"/>
<circle cx="447.4" cy="380.4" r="2.95"/>
<circle cx="408.8" cy="385.1" r="2.95"/>
<circle cx="381.1" cy="376.6" r="2.95"/>
<circle cx="433" cy="328.7" r="2.95"/>
<circle cx="429.3" cy="334.5" r="2.95"/>
<circle cx="437.7" cy="337.3" r="2.95"/>
<circle cx="445.2" cy="331.6" r="2.95"/>
<circle cx="449.6" cy="332.3" r="2.95"/>
<circle cx="455.3" cy="329.4" r="2.95"/>
<circle cx="459.7" cy="333" r="2.95"/>
<circle cx="461.2" cy="331.3" r="2.95"/>
<circle cx="446.7" cy="338.8" r="2.95"/>
<circle cx="451.7" cy="338.8" r="2.95"/>
<circle cx="456.1" cy="334.5" r="2.95"/>
<circle cx="442.3" cy="345.3" r="2.95"/>
<circle cx="430.1" cy="346.7" r="2.95"/>
<circle cx="461.2" cy="345.3" r="2.95"/>
<circle cx="453.2" cy="353.2" r="2.95"/>
<circle cx="459.7" cy="353.2" r="2.95"/>
<circle cx="443.1" cy="356.8" r="2.95"/>
<circle cx="448.1" cy="357.3" r="2.95"/>
<circle cx="455.3" cy="357.6" r="2.95"/>
<circle cx="458.2" cy="361.9" r="2.95"/>
<circle cx="459.7" cy="364.1" r="2.95"/>
<circle cx="444.5" cy="362.9" r="2.95"/>
<circle cx="431.1" cy="362.2" r="2.95"/>
<circle cx="438.7" cy="373.5" r="2.95"/>
<circle cx="425.7" cy="372.7" r="2.95"/>
<circle cx="427.2" cy="379.2" r="2.95"/>
<circle cx="435.1" cy="379.2" r="2.95"/>
<circle cx="438" cy="382.1" r="2.95"/>
<circle cx="447.4" cy="380" r="2.95"/>
<circle cx="456.1" cy="381.4" r="2.95"/>
<circle cx="461.1" cy="380.7" r="2.95"/>
<circle cx="443.1" cy="385" r="2.95"/>
<circle cx="427.9" cy="389.4" r="2.95"/>
<circle cx="439.5" cy="389.4" r="2.95"/>
<circle cx="455.3" cy="387.9" r="2.95"/>
<circle cx="459.7" cy="393.7" r="2.95"/>
<circle cx="443.8" cy="392.3" r="2.95"/>
<circle cx="314.6" cy="395.9" r="2.95"/>
<circle cx="320" cy="399.7" r="2.95"/>
<circle cx="323.9" cy="400.5" r="2.95"/>
<circle cx="329.3" cy="398.2" r="2.95"/>
<circle cx="319.3" cy="407" r="2.95"/>
<circle cx="338.5" cy="401.6" r="2.95"/>
<circle cx="343.9" cy="405.1" r="2.95"/>
<circle cx="311.6" cy="412.8" r="2.95"/>
<circle cx="313.9" cy="416.7" r="2.95"/>
<circle cx="315.4" cy="421" r="2.95"/>
<circle cx="337.8" cy="414.8" r="2.95"/>
<circle cx="338.5" cy="419" r="2.95"/>
<circle cx="356.7" cy="411.3" r="2.95"/>
<circle cx="356.7" cy="420.5" r="2.95"/>
<circle cx="363.2" cy="411.3" r="2.95"/>
<circle cx="326.2" cy="435.6" r="2.95"/>
<circle cx="317.7" cy="452.1" r="2.95"/>
<circle cx="337" cy="450.6" r="2.95"/>
<circle cx="343.9" cy="452.9" r="2.95"/>
<circle cx="363.2" cy="450.3" r="2.95"/>
<circle cx="367.1" cy="445.6" r="2.95"/>
<circle cx="313.1" cy="461.1" r="2.95"/>
<circle cx="383.4" cy="435.6" r="2.95"/>
<circle cx="395" cy="439.5" r="2.95"/>
<circle cx="407" cy="441.3" r="2.95"/>
<circle cx="414.2" cy="451.3" r="2.95"/>
<circle cx="390.3" cy="463.2" r="2.95"/>
<circle cx="435" cy="447.5" r="2.95"/>
<circle cx="439.7" cy="443.6" r="2.95"/>
<circle cx="453.2" cy="406.1" r="2.95"/>
<circle cx="459.1" cy="408.4" r="2.95"/>
<circle cx="453.9" cy="412.8" r="2.95"/>
<circle cx="451" cy="415.8" r="2.95"/>
<circle cx="461.1" cy="419.5" r="2.95"/>
<circle cx="459.1" cy="421.7" r="2.95"/>
<circle cx="453.2" cy="424.7" r="2.95"/>
<circle cx="448" cy="429.1" r="2.95"/>
<circle cx="453.2" cy="436.5" r="2.95"/>
<circle cx="459.9" cy="438" r="2.95"/>
<circle cx="449.5" cy="441" r="2.95"/>
<circle cx="448" cy="444" r="2.95"/>
<circle cx="454.7" cy="446.9" r="2.95"/>
<circle cx="461.1" cy="446.2" r="2.95"/>
<circle cx="458.4" cy="452.1" r="2.95"/>
<circle cx="449.5" cy="451.4" r="2.95"/>
<circle cx="448" cy="455.8" r="2.95"/>
<circle cx="456.2" cy="458.1" r="2.95"/>
<circle cx="442.8" cy="458.8" r="2.95"/>
<circle cx="445.8" cy="461.8" r="2.95"/>
<circle cx="452.4" cy="465.5" r="2.95"/>
<circle cx="456.9" cy="466.2" r="2.95"/>
<circle cx="461" cy="466.7" r="2.95"/>
<circle cx="439.8" cy="443.2" r="2.95"/>
<circle cx="434.6" cy="446.9" r="2.95"/>
<circle cx="431.7" cy="454.3" r="2.95"/>
<circle cx="426.5" cy="451.4" r="2.95"/>
<circle cx="453.5" cy="400" r="2.95"/>
<circle cx="452" cy="395" r="2.95"/>
<circle cx="312.35" cy="327.81" r="2.95"/>
<circle cx="311.37" cy="330.9" r="2.95"/>
<circle cx="311.14" cy="335.97" r="2.95"/>
<circle cx="312.5" cy="339.06" r="2.95"/>
<circle cx="311.68" cy="343.14" r="2.95"/>
<circle cx="312.63" cy="348.71" r="2.95"/>
<circle cx="311.49" cy="353.4" r="2.95"/>
<circle cx="312.86" cy="357.75" r="2.95"/>
<circle cx="452" cy="384" r="2.95"/>
<circle cx="458" cy="386" r="2.95"/>
<circle cx="462" cy="391" r="2.95"/>
<circle cx="455" cy="398" r="2.95"/>
<circle cx="461" cy="402" r="2.95"/>
<circle cx="457" cy="410" r="2.95"/>
<circle cx="462" cy="414" r="2.95"/>
<circle cx="450" cy="420" r="2.95"/>
<circle cx="456" cy="428" r="2.95"/>
<circle cx="461" cy="432" r="2.95"/>
<circle cx="452" cy="433" r="2.95"/>
<circle cx="458" cy="441" r="2.95"/>
<circle cx="462" cy="452" r="2.95"/>
<circle cx="453" cy="448" r="2.95"/>
<circle cx="450" cy="459" r="2.95"/>
<circle cx="459" cy="462" r="2.95"/>
<circle cx="463" cy="459" r="2.95"/>
<circle cx="454" cy="468" r="2.95"/>
<circle cx="448" cy="466" r="2.95"/>
<circle cx="460" cy="468" r="2.95"/>
<path d="M310.7,371.2 C313.92,372.57 323.45,376.62 330,379.4 C336.55,382.18 344.17,385.42 350,387.9 C355.83,390.38 360,392.18 365,394.3 C370,396.42 375.27,398.6 380,400.6 C384.73,402.6 388.6,404.27 393.4,406.3 C398.2,408.33 405.2,411.25 408.8,412.8 C412.4,414.35 412.92,414.7 415,415.6 C417.08,416.5 419.22,417.45 421.3,418.2 C423.38,418.95 425.42,419.53 427.5,420.1 C429.58,420.67 431.92,421.23 433.8,421.6 C435.68,421.97 437.45,422.33 438.8,422.3 C440.15,422.27 440.97,422.18 441.9,421.4 C442.83,420.62 443.67,419.07 444.4,417.6 C445.13,416.13 445.77,414.68 446.3,412.6 C446.83,410.52 447.28,407.82 447.6,405.1 C447.92,402.38 447.95,399.22 448.2,396.3 C448.45,393.38 448.78,390.32 449.1,387.6 C449.42,384.88 449.62,382.2 450.1,380 C450.58,377.8 451.17,375.78 452,374.4 C452.83,373.02 453.95,372.23 455.1,371.7 C456.25,371.17 457.45,371.28 458.9,371.2 C460.35,371.12 462.98,371.2 463.8,371.2" fill="none" stroke="#ff0000" stroke-width="2.6" stroke-linecap="butt"/>
<circle cx="630.49" cy="456.38" r="2.95"/>
<circle cx="641.99" cy="425.3" r="2.95"/>
<circle cx="606.59" cy="410.84" r="2.95"/>
<circle cx="634.01" cy="434.85" r="2.95"/>
<circle cx="561.84" cy="397.22" r="2.95"/>
<circle cx="633.16" cy="424.92" r="2.95"/>
<circle cx="605.72" cy="429.78" r="2.95"/>
<circle cx="630.74" cy="409.04" r="2.95"/>
<circle cx="632.23" cy="454.73" r="2.95"/>
<circle cx="601.14" cy="416.87" r="2.95"/>
<circle cx="535.61" cy="365.66" r="2.95"/>
<circle cx="562.12" cy="390.18" r="2.95"/>
<circle cx="601.2" cy="396.46" r="2.95"/>
<circle cx="636.13" cy="427.95" r="2.95"/>
<circle cx="613.62" cy="426.72" r="2.95"/>
<circle cx="622.52" cy="427.45" r="2.95"/>
<circle cx="621.14" cy="447.39" r="2.95"/>
<circle cx="592.91" cy="405.37" r="2.95"/>
<circle cx="617.4" cy="416.99" r="2.95"/>
<circle cx="613.6" cy="432.86" r="2.95"/>
<circle cx="629.59" cy="432.86" r="2.95"/>
<circle cx="586.42" cy="389.04" r="2.95"/>
<circle cx="583.13" cy="388.91" r="2.95"/>
<circle cx="640.52" cy="457.71" r="2.95"/>
<circle cx="565.36" cy="390.21" r="2.95"/>
<circle cx="640.2" cy="425.44" r="2.95"/>
<circle cx="627.75" cy="408.11" r="2.95"/>
<circle cx="556.19" cy="376.89" r="2.95"/>
<circle cx="580.46" cy="389.97" r="2.95"/>
<circle cx="602.48" cy="417.79" r="2.95"/>
<circle cx="632.27" cy="420.51" r="2.95"/>
<circle cx="609.38" cy="421.16" r="2.95"/>
<circle cx="569.67" cy="407.34" r="2.95"/>
<circle cx="578.79" cy="380.18" r="2.95"/>
<circle cx="609.38" cy="411.3" r="2.95"/>
<circle cx="578.81" cy="389.7" r="2.95"/>
<circle cx="598" cy="420.56" r="2.95"/>
<circle cx="646.03" cy="437.57" r="2.95"/>
<circle cx="614.28" cy="443.44" r="2.95"/>
<circle cx="555.24" cy="391.3" r="2.95"/>
<circle cx="529.62" cy="383.45" r="2.95"/>
<circle cx="537.47" cy="366.19" r="2.95"/>
<circle cx="597.78" cy="438.59" r="2.95"/>
<circle cx="573.87" cy="389.02" r="2.95"/>
<circle cx="580.95" cy="415.14" r="2.95"/>
<circle cx="621.09" cy="405.42" r="2.95"/>
<circle cx="636.66" cy="459.79" r="2.95"/>
<circle cx="591.78" cy="410.5" r="2.95"/>
<circle cx="592.76" cy="401.81" r="2.95"/>
<circle cx="643.54" cy="463.3" r="2.95"/>
<circle cx="643.39" cy="463.53" r="2.95"/>
<circle cx="573.06" cy="386.31" r="2.95"/>
<circle cx="640.53" cy="423.42" r="2.95"/>
<circle cx="599.49" cy="400.25" r="2.95"/>
<circle cx="563.68" cy="384.46" r="2.95"/>
<circle cx="568.71" cy="392.22" r="2.95"/>
<circle cx="563.11" cy="388.57" r="2.95"/>
<circle cx="622.01" cy="446.21" r="2.95"/>
<circle cx="566.13" cy="389.64" r="2.95"/>
<circle cx="629.62" cy="426.99" r="2.95"/>
<circle cx="575.79" cy="413.21" r="2.95"/>
<circle cx="528.02" cy="378.95" r="2.95"/>
<circle cx="590.18" cy="434.86" r="2.95"/>
<circle cx="573.98" cy="389.81" r="2.95"/>
<circle cx="618.39" cy="435.8" r="2.95"/>
<circle cx="591.59" cy="416.54" r="2.95"/>
<circle cx="618.04" cy="438.01" r="2.95"/>
<circle cx="625.62" cy="415.6" r="2.95"/>
<circle cx="563.43" cy="388.27" r="2.95"/>
<circle cx="635.05" cy="444.65" r="2.95"/>
<circle cx="564.43" cy="389.61" r="2.95"/>
<circle cx="632.48" cy="441.56" r="2.95"/>
<circle cx="589.28" cy="404.57" r="2.95"/>
<circle cx="598.55" cy="401.82" r="2.95"/>
<circle cx="590.64" cy="425.2" r="2.95"/>
<circle cx="629.48" cy="415.6" r="2.95"/>
<circle cx="646.22" cy="464.19" r="2.95"/>
<circle cx="643.01" cy="454.05" r="2.95"/>
<circle cx="573.97" cy="405.26" r="2.95"/>
<circle cx="632.09" cy="458.92" r="2.95"/>
<circle cx="558.96" cy="384.1" r="2.95"/>
<circle cx="579.86" cy="420.33" r="2.95"/>
<circle cx="545.79" cy="385.67" r="2.95"/>
<circle cx="630.01" cy="414.33" r="2.95"/>
<circle cx="590.29" cy="393.35" r="2.95"/>
<circle cx="583.74" cy="388.88" r="2.95"/>
<circle cx="582.23" cy="387.39" r="2.95"/>
<circle cx="631.28" cy="463.54" r="2.95"/>
<circle cx="545.7" cy="384.36" r="2.95"/>
<circle cx="614.23" cy="446.46" r="2.95"/>
<circle cx="634.18" cy="449.82" r="2.95"/>
<circle cx="536.78" cy="367.12" r="2.95"/>
<circle cx="620.1" cy="421.02" r="2.95"/>
<circle cx="616.77" cy="416.03" r="2.95"/>
<circle cx="615.29" cy="412.14" r="2.95"/>
<circle cx="636.37" cy="424.33" r="2.95"/>
<circle cx="640.2" cy="442.97" r="2.95"/>
<circle cx="627.71" cy="449.51" r="2.95"/>
<circle cx="539.01" cy="368.34" r="2.95"/>
<circle cx="578.05" cy="402.23" r="2.95"/>
<circle cx="611.25" cy="424.51" r="2.95"/>
<circle cx="585.09" cy="398.75" r="2.95"/>
<circle cx="588.14" cy="390.04" r="2.95"/>
<circle cx="648.79" cy="440.45" r="2.95"/>
<circle cx="591.7" cy="420.37" r="2.95"/>
<circle cx="604.31" cy="405.07" r="2.95"/>
<circle cx="550.86" cy="377.07" r="2.95"/>
<circle cx="599.93" cy="429.82" r="2.95"/>
<circle cx="606.75" cy="429.33" r="2.95"/>
<circle cx="579.14" cy="422.06" r="2.95"/>
<circle cx="555.05" cy="388.78" r="2.95"/>
<circle cx="574.43" cy="410.3" r="2.95"/>
<circle cx="589.17" cy="390.66" r="2.95"/>
<circle cx="606.43" cy="407.97" r="2.95"/>
<circle cx="611.26" cy="418.05" r="2.95"/>
<circle cx="585.9" cy="414.5" r="2.95"/>
<circle cx="618.44" cy="418.31" r="2.95"/>
<circle cx="627.46" cy="446.03" r="2.95"/>
<circle cx="621.8" cy="415.91" r="2.95"/>
<circle cx="622.17" cy="414.87" r="2.95"/>
<circle cx="643.67" cy="441.74" r="2.95"/>
<circle cx="546.35" cy="388.23" r="2.95"/>
<circle cx="535.25" cy="363.96" r="2.95"/>
<circle cx="588.98" cy="400.17" r="2.95"/>
<circle cx="580.13" cy="396.46" r="2.95"/>
<circle cx="530.84" cy="363" r="2.95"/>
<circle cx="624.8" cy="428.81" r="2.95"/>
<circle cx="589.05" cy="426.04" r="2.95"/>
<circle cx="569.91" cy="402.69" r="2.95"/>
<circle cx="605.92" cy="427.85" r="2.95"/>
<circle cx="560.96" cy="400.8" r="2.95"/>
<circle cx="568.61" cy="395.98" r="2.95"/>
<circle cx="550.87" cy="400.74" r="2.95"/>
<circle cx="587.38" cy="404.77" r="2.95"/>
<circle cx="605.1" cy="399.61" r="2.95"/>
<circle cx="613.2" cy="412.11" r="2.95"/>
<circle cx="630.79" cy="468" r="2.95"/>
<circle cx="596.17" cy="420.4" r="2.95"/>
<circle cx="531.8" cy="373.36" r="2.95"/>
<circle cx="645.54" cy="444.57" r="2.95"/>
<circle cx="526.03" cy="359.44" r="2.95"/>
<circle cx="625.31" cy="461.97" r="2.95"/>
<circle cx="624.1" cy="457.12" r="2.95"/>
<circle cx="556.65" cy="376.96" r="2.95"/>
<circle cx="618.59" cy="422.27" r="2.95"/>
<circle cx="596.45" cy="432.69" r="2.95"/>
<circle cx="541.36" cy="374.45" r="2.95"/>
<circle cx="629.38" cy="425.08" r="2.95"/>
<circle cx="623.52" cy="413.24" r="2.95"/>
<circle cx="588.44" cy="392.48" r="2.95"/>
<circle cx="636.43" cy="431.06" r="2.95"/>
<circle cx="562.07" cy="384.92" r="2.95"/>
<circle cx="634.58" cy="459.24" r="2.95"/>
<circle cx="600.39" cy="423.64" r="2.95"/>
<circle cx="612.77" cy="404.97" r="2.95"/>
<circle cx="591.76" cy="409.75" r="2.95"/>
<circle cx="569.4" cy="384.86" r="2.95"/>
<circle cx="606.35" cy="424.51" r="2.95"/>
<circle cx="528.95" cy="382.79" r="2.95"/>
<circle cx="630.14" cy="421.19" r="2.95"/>
<circle cx="556.53" cy="398.99" r="2.95"/>
<circle cx="597.63" cy="388.09" r="2.95"/>
<circle cx="568.76" cy="398.03" r="2.95"/>
<circle cx="555.57" cy="396.14" r="2.95"/>
<circle cx="629.05" cy="451.02" r="2.95"/>
<circle cx="624.04" cy="425.14" r="2.95"/>
<circle cx="568.36" cy="393.29" r="2.95"/>
<circle cx="603.65" cy="438.51" r="2.95"/>
<circle cx="618.24" cy="422.38" r="2.95"/>
<circle cx="592.73" cy="389.47" r="2.95"/>
<circle cx="561.77" cy="397.19" r="2.95"/>
<circle cx="596.62" cy="425.61" r="2.95"/>
<circle cx="629.42" cy="442.28" r="2.95"/>
<circle cx="610.85" cy="428.7" r="2.95"/>
<circle cx="535.35" cy="383.13" r="2.95"/>
<circle cx="566.28" cy="397.67" r="2.95"/>
<circle cx="572.59" cy="403.49" r="2.95"/>
<circle cx="542.05" cy="386.48" r="2.95"/>
<circle cx="638.03" cy="447.64" r="2.95"/>
<circle cx="605.38" cy="402.26" r="2.95"/>
<circle cx="603.22" cy="426.17" r="2.95"/>
<circle cx="579.74" cy="389.51" r="2.95"/>
<circle cx="639.4" cy="452.17" r="2.95"/>
<circle cx="595.26" cy="432.04" r="2.95"/>
<circle cx="627.32" cy="441.91" r="2.95"/>
<circle cx="603.72" cy="405.96" r="2.95"/>
<circle cx="652.7" cy="469.12" r="2.95"/>
<circle cx="535.23" cy="369.53" r="2.95"/>
<circle cx="585.25" cy="424.64" r="2.95"/>
<circle cx="640.58" cy="453.19" r="2.95"/>
<circle cx="624.27" cy="431.94" r="2.95"/>
<circle cx="618.12" cy="436.13" r="2.95"/>
<circle cx="611.03" cy="415.95" r="2.95"/>
<circle cx="567.36" cy="407.86" r="2.95"/>
<circle cx="623.03" cy="425.33" r="2.95"/>
<circle cx="622.38" cy="441.6" r="2.95"/>
<circle cx="529.56" cy="367.89" r="2.95"/>
<circle cx="620.41" cy="406.91" r="2.95"/>
<circle cx="535.21" cy="364.1" r="2.95"/>
<circle cx="592.61" cy="400.85" r="2.95"/>
<circle cx="622.83" cy="439.42" r="2.95"/>
<circle cx="564.32" cy="382.88" r="2.95"/>
<circle cx="538.54" cy="373.25" r="2.95"/>
<circle cx="568.99" cy="383.93" r="2.95"/>
<circle cx="553.14" cy="373.84" r="2.95"/>
<circle cx="623.67" cy="422.33" r="2.95"/>
<circle cx="648.29" cy="439.94" r="2.95"/>
<circle cx="596.58" cy="402.31" r="2.95"/>
<circle cx="589.21" cy="426.25" r="2.95"/>
<circle cx="633.27" cy="430.42" r="2.95"/>
<circle cx="650.41" cy="463.44" r="2.95"/>
<circle cx="590.19" cy="427.55" r="2.95"/>
<circle cx="594.47" cy="435.42" r="2.95"/>
<circle cx="594.87" cy="411.43" r="2.95"/>
<circle cx="628.46" cy="436.29" r="2.95"/>
<circle cx="548.33" cy="375.85" r="2.95"/>
<circle cx="570.22" cy="393.16" r="2.95"/>
<circle cx="643.84" cy="445.29" r="2.95"/>
<circle cx="645.85" cy="466.55" r="2.95"/>
<circle cx="554.18" cy="377.77" r="2.95"/>
<circle cx="572.47" cy="400.68" r="2.95"/>
<circle cx="596.17" cy="403.66" r="2.95"/>
<circle cx="586.42" cy="400.15" r="2.95"/>
<circle cx="643.21" cy="462.34" r="2.95"/>
<circle cx="558.45" cy="383.26" r="2.95"/>
<circle cx="641.75" cy="459.93" r="2.95"/>
<circle cx="651.65" cy="462.73" r="2.95"/>
<circle cx="571.01" cy="413.54" r="2.95"/>
<circle cx="636.26" cy="421.03" r="2.95"/>
<circle cx="537.03" cy="368.27" r="2.95"/>
<circle cx="602.37" cy="402.63" r="2.95"/>
<circle cx="556.66" cy="396.66" r="2.95"/>
<circle cx="627.98" cy="419.59" r="2.95"/>
<circle cx="588.5" cy="408.77" r="2.95"/>
<circle cx="641.45" cy="424.39" r="2.95"/>
<circle cx="583.02" cy="389.85" r="2.95"/>
<circle cx="595.55" cy="390.62" r="2.95"/>
<circle cx="612.09" cy="416.74" r="2.95"/>
<circle cx="637.09" cy="444.42" r="2.95"/>
<circle cx="623.18" cy="435.5" r="2.95"/>
<circle cx="573.71" cy="413.84" r="2.95"/>
<circle cx="573.25" cy="391.7" r="2.95"/>
<circle cx="642.04" cy="460.93" r="2.95"/>
<circle cx="618.85" cy="419.02" r="2.95"/>
<circle cx="646.43" cy="428.75" r="2.95"/>
<circle cx="634.06" cy="426.4" r="2.95"/>
<circle cx="629.07" cy="411.55" r="2.95"/>
<circle cx="648.86" cy="454.57" r="2.95"/>
<circle cx="564.22" cy="403.91" r="2.95"/>
<circle cx="559.24" cy="383.37" r="2.95"/>
<circle cx="621.33" cy="430.58" r="2.95"/>
<circle cx="570.77" cy="393.14" r="2.95"/>
<circle cx="633.3" cy="438.9" r="2.95"/>
<circle cx="603.76" cy="405.35" r="2.95"/>
<circle cx="587.19" cy="398.07" r="2.95"/>
<circle cx="586.03" cy="396.45" r="2.95"/>
<circle cx="635.68" cy="464.43" r="2.95"/>
<circle cx="561.71" cy="373.99" r="2.95"/>
<circle cx="610.66" cy="439.72" r="2.95"/>
<circle cx="561.48" cy="388.3" r="2.95"/>
<circle cx="583.9" cy="398.46" r="2.95"/>
<circle cx="532.84" cy="381.51" r="2.95"/>
<circle cx="620.62" cy="412.89" r="2.95"/>
<circle cx="556.19" cy="388.69" r="2.95"/>
<circle cx="579.94" cy="401.39" r="2.95"/>
<circle cx="606.07" cy="428.92" r="2.95"/>
<circle cx="586.86" cy="414.76" r="2.95"/>
<circle cx="637.62" cy="447.3" r="2.95"/>
<circle cx="608.98" cy="433.37" r="2.95"/>
<circle cx="573.49" cy="393.46" r="2.95"/>
<circle cx="572.69" cy="387.9" r="2.95"/>
<circle cx="589.42" cy="400.14" r="2.95"/>
<circle cx="538.54" cy="359.74" r="2.95"/>
<circle cx="606.64" cy="431.44" r="2.95"/>
<circle cx="556.21" cy="388.51" r="2.95"/>
<circle cx="635.7" cy="434.8" r="2.95"/>
<circle cx="586.72" cy="422.81" r="2.95"/>
<circle cx="646.62" cy="436.92" r="2.95"/>
<circle cx="559.41" cy="404.49" r="2.95"/>
<circle cx="590.67" cy="419.18" r="2.95"/>
<circle cx="638.95" cy="444.88" r="2.95"/>
<circle cx="635.25" cy="448.71" r="2.95"/>
<circle cx="596.54" cy="400.7" r="2.95"/>
<circle cx="563.37" cy="392.07" r="2.95"/>
<circle cx="633.38" cy="450" r="2.95"/>
<circle cx="541.84" cy="368.81" r="2.95"/>
<circle cx="555.12" cy="375.55" r="2.95"/>
<circle cx="572.61" cy="400.93" r="2.95"/>
<circle cx="623.9" cy="416.32" r="2.95"/>
<circle cx="613.2" cy="421.19" r="2.95"/>
<circle cx="624.99" cy="459.14" r="2.95"/>
<circle cx="620.63" cy="427.08" r="2.95"/>
<circle cx="622.93" cy="434.09" r="2.95"/>
<circle cx="630.61" cy="423.39" r="2.95"/>
<circle cx="632.89" cy="450.13" r="2.95"/>
<circle cx="615.61" cy="424.83" r="2.95"/>
<circle cx="647.49" cy="431.28" r="2.95"/>
<circle cx="564.6" cy="386.32" r="2.95"/>
<circle cx="544" cy="382.65" r="2.95"/>
<circle cx="565.8" cy="399.03" r="2.95"/>
<circle cx="581.62" cy="419.65" r="2.95"/>
<circle cx="559.44" cy="398.41" r="2.95"/>
<circle cx="642.01" cy="430.95" r="2.95"/>
<circle cx="569.13" cy="385.54" r="2.95"/>
<circle cx="587.51" cy="408.36" r="2.95"/>
<circle cx="638.4" cy="449" r="2.95"/>
<circle cx="550.48" cy="374.21" r="2.95"/>
<circle cx="551.88" cy="372.15" r="2.95"/>
<circle cx="576.19" cy="392.99" r="2.95"/>
<circle cx="606.83" cy="409.08" r="2.95"/>
<circle cx="590.34" cy="413.66" r="2.95"/>
<circle cx="618.45" cy="421.49" r="2.95"/>
<circle cx="534.36" cy="372.04" r="2.95"/>
<circle cx="602.02" cy="433.83" r="2.95"/>
<circle cx="555.87" cy="386.79" r="2.95"/>
<circle cx="638.18" cy="428.61" r="2.95"/>
<circle cx="577.44" cy="399.58" r="2.95"/>
<circle cx="589.05" cy="408.7" r="2.95"/>
<circle cx="550.45" cy="377.68" r="2.95"/>
<circle cx="645.66" cy="428.25" r="2.95"/>
<circle cx="538.21" cy="381.79" r="2.95"/>
<circle cx="642.79" cy="464.1" r="2.95"/>
<circle cx="552.38" cy="379.99" r="2.95"/>
<circle cx="599.33" cy="397.05" r="2.95"/>
<circle cx="557.91" cy="380.25" r="2.95"/>
<circle cx="624.99" cy="417.47" r="2.95"/>
<circle cx="594.76" cy="408.39" r="2.95"/>
<circle cx="649.09" cy="456.01" r="2.95"/>
<circle cx="645.06" cy="454.38" r="2.95"/>
<circle cx="584.75" cy="405.03" r="2.95"/>
<circle cx="604.56" cy="420.57" r="2.95"/>
<circle cx="620.61" cy="415.03" r="2.95"/>
<circle cx="573.3" cy="396.27" r="2.95"/>
<circle cx="641.81" cy="455.92" r="2.95"/>
<circle cx="583.69" cy="399.55" r="2.95"/>
<circle cx="567.92" cy="395.27" r="2.95"/>
<circle cx="560.54" cy="383.83" r="2.95"/>
<circle cx="531.72" cy="361.9" r="2.95"/>
<circle cx="531.39" cy="364.05" r="2.95"/>
<circle cx="541.63" cy="368.19" r="2.95"/>
<circle cx="549.13" cy="391.01" r="2.95"/>
<circle cx="610.66" cy="436.67" r="2.95"/>
<circle cx="628.9" cy="424.3" r="2.95"/>
<circle cx="536.28" cy="366.89" r="2.95"/>
<circle cx="644.95" cy="441.44" r="2.95"/>
<circle cx="571.67" cy="397.1" r="2.95"/>
<circle cx="592.99" cy="404.7" r="2.95"/>
<circle cx="638.64" cy="438.4" r="2.95"/>
<circle cx="597.71" cy="435.72" r="2.95"/>
<circle cx="604.31" cy="434.19" r="2.95"/>
<circle cx="565.32" cy="391.89" r="2.95"/>
<circle cx="620.94" cy="428.25" r="2.95"/>
<circle cx="614.74" cy="443.99" r="2.95"/>
<circle cx="614.91" cy="429.5" r="2.95"/>
<circle cx="629.95" cy="410.95" r="2.95"/>
<circle cx="581.62" cy="397.43" r="2.95"/>
<circle cx="597.12" cy="405.6" r="2.95"/>
<circle cx="587.3" cy="406.69" r="2.95"/>
<circle cx="581.37" cy="421.59" r="2.95"/>
<circle cx="639.17" cy="444.65" r="2.95"/>
<circle cx="604.26" cy="433.05" r="2.95"/>
<circle cx="586.3" cy="407.73" r="2.95"/>
<circle cx="608.29" cy="421.14" r="2.95"/>
<circle cx="573.7" cy="384.12" r="2.95"/>
<circle cx="600.3" cy="401.63" r="2.95"/>
<circle cx="578.54" cy="398.63" r="2.95"/>
<circle cx="602.22" cy="411.14" r="2.95"/>
<circle cx="578.12" cy="387.16" r="2.95"/>
<circle cx="617.03" cy="422.53" r="2.95"/>
<circle cx="597.82" cy="439.98" r="2.95"/>
<circle cx="636.06" cy="423.01" r="2.95"/>
<circle cx="555.42" cy="398.8" r="2.95"/>
<circle cx="589.58" cy="393.84" r="2.95"/>
<circle cx="550.82" cy="379.92" r="2.95"/>
<circle cx="535.57" cy="382.33" r="2.95"/>
<circle cx="579.17" cy="395.93" r="2.95"/>
<circle cx="580.63" cy="398.66" r="2.95"/>
<circle cx="531.21" cy="363.57" r="2.95"/>
<circle cx="623.28" cy="418.28" r="2.95"/>
<circle cx="620.36" cy="407.16" r="2.95"/>
<circle cx="571.42" cy="402.4" r="2.95"/>
<circle cx="624.56" cy="408.56" r="2.95"/>
<circle cx="601.84" cy="407.65" r="2.95"/>
<circle cx="572.99" cy="402.1" r="2.95"/>
<circle cx="635.43" cy="464.62" r="2.95"/>
<circle cx="547" cy="381.27" r="2.95"/>
<circle cx="607.18" cy="430.7" r="2.95"/>
<circle cx="618.4" cy="428.94" r="2.95"/>
<circle cx="566.13" cy="388.27" r="2.95"/>
<circle cx="555.58" cy="400.63" r="2.95"/>
<circle cx="563.09" cy="394.66" r="2.95"/>
<circle cx="558.42" cy="373.41" r="2.95"/>
<circle cx="590.91" cy="417.29" r="2.95"/>
<circle cx="648.56" cy="463.85" r="2.95"/>
<circle cx="598.36" cy="409.7" r="2.95"/>
<circle cx="567.33" cy="396.4" r="2.95"/>
<circle cx="576.09" cy="410.37" r="2.95"/>
<circle cx="595.46" cy="395.51" r="2.95"/>
<circle cx="555.44" cy="396.99" r="2.95"/>
<circle cx="637.71" cy="413.12" r="2.95"/>
<circle cx="625.15" cy="450.73" r="2.95"/>
<circle cx="610.66" cy="413.54" r="2.95"/>
<circle cx="647.5" cy="464.65" r="2.95"/>
<circle cx="631.17" cy="415.13" r="2.95"/>
<circle cx="539.39" cy="387.06" r="2.95"/>
<circle cx="583.88" cy="412.51" r="2.95"/>
<circle cx="540.07" cy="383.09" r="2.95"/>
<circle cx="633.06" cy="417.23" r="2.95"/>
<circle cx="550" cy="390.22" r="2.95"/>
<circle cx="574.49" cy="392.4" r="2.95"/>
<circle cx="638.07" cy="420.35" r="2.95"/>
<circle cx="539.62" cy="387.53" r="2.95"/>
<circle cx="623.8" cy="446.64" r="2.95"/>
<circle cx="589.23" cy="408.23" r="2.95"/>
<circle cx="602.09" cy="403.52" r="2.95"/>
<circle cx="638.14" cy="447.53" r="2.95"/>
<circle cx="533.08" cy="370.72" r="2.95"/>
<circle cx="571.42" cy="392.24" r="2.95"/>
<circle cx="570.51" cy="407.9" r="2.95"/>
<circle cx="618.16" cy="412.15" r="2.95"/>
<circle cx="641.55" cy="449.57" r="2.95"/>
<circle cx="564.96" cy="396.18" r="2.95"/>
<circle cx="626.94" cy="422.46" r="2.95"/>
<circle cx="609.12" cy="407.07" r="2.95"/>
<circle cx="594.78" cy="417.43" r="2.95"/>
<circle cx="587.65" cy="392.86" r="2.95"/>
<circle cx="601.65" cy="428.35" r="2.95"/>
<circle cx="604.14" cy="420.18" r="2.95"/>
<circle cx="617.55" cy="408.36" r="2.95"/>
<circle cx="600.01" cy="410.42" r="2.95"/>
<circle cx="530.2" cy="374.56" r="2.95"/>
<circle cx="618.91" cy="414.88" r="2.95"/>
<circle cx="595.15" cy="422.58" r="2.95"/>
<circle cx="587.74" cy="419.05" r="2.95"/>
<circle cx="594.1" cy="400.17" r="2.95"/>
<circle cx="570.43" cy="385.51" r="2.95"/>
<circle cx="639.32" cy="449.52" r="2.95"/>
<circle cx="538.75" cy="363.87" r="2.95"/>
<circle cx="622.11" cy="410.16" r="2.95"/>
<circle cx="627.2" cy="420.5" r="2.95"/>
<circle cx="595.82" cy="393" r="2.95"/>
<circle cx="584.05" cy="419.56" r="2.95"/>
<circle cx="584.43" cy="426.78" r="2.95"/>
<circle cx="630.24" cy="423.26" r="2.95"/>
<circle cx="640.94" cy="425.06" r="2.95"/>
<circle cx="595.18" cy="412.17" r="2.95"/>
<circle cx="551.27" cy="379.14" r="2.95"/>
<circle cx="648.41" cy="449.13" r="2.95"/>
<circle cx="563.21" cy="397.55" r="2.95"/>
<circle cx="594.02" cy="398.22" r="2.95"/>
<circle cx="582.73" cy="422.71" r="2.95"/>
<circle cx="622.03" cy="409.61" r="2.95"/>
<circle cx="609.09" cy="405.59" r="2.95"/>
<circle cx="552.89" cy="370.8" r="2.95"/>
<circle cx="557.57" cy="395.36" r="2.95"/>
<circle cx="652.33" cy="455.51" r="2.95"/>
<circle cx="566.2" cy="374.93" r="2.95"/>
<circle cx="555" cy="376.2" r="2.95"/>
<circle cx="603.46" cy="432.35" r="2.95"/>
<circle cx="584.2" cy="405.95" r="2.95"/>
<circle cx="632.04" cy="463.31" r="2.95"/>
<circle cx="636.49" cy="428.64" r="2.95"/>
<circle cx="634.72" cy="416.24" r="2.95"/>
<circle cx="566.16" cy="394.6" r="2.95"/>
<circle cx="624.51" cy="438.73" r="2.95"/>
<circle cx="550.76" cy="367.31" r="2.95"/>
<circle cx="602.6" cy="421.95" r="2.95"/>
<circle cx="561.83" cy="409.26" r="2.95"/>
<circle cx="644.96" cy="449.31" r="2.95"/>
<circle cx="536.31" cy="367.13" r="2.95"/>
<circle cx="552.21" cy="384.04" r="2.95"/>
<circle cx="554.06" cy="378.08" r="2.95"/>
<circle cx="644.26" cy="455.89" r="2.95"/>
<circle cx="625.28" cy="412.87" r="2.95"/>
<circle cx="639.44" cy="436.78" r="2.95"/>
<circle cx="575.89" cy="387.34" r="2.95"/>
<circle cx="619.31" cy="415.12" r="2.95"/>
<circle cx="643.51" cy="428.72" r="2.95"/>
<circle cx="585.61" cy="403.23" r="2.95"/>
<circle cx="602.85" cy="411.46" r="2.95"/>
<circle cx="566.19" cy="400.6" r="2.95"/>
<circle cx="654.49" cy="467.49" r="2.95"/>
<circle cx="634.16" cy="463.22" r="2.95"/>
<circle cx="627.51" cy="451.39" r="2.95"/>
<circle cx="605.77" cy="436.09" r="2.95"/>
<circle cx="525.8" cy="377.3" r="2.95"/>
<circle cx="618.08" cy="423.41" r="2.95"/>
<circle cx="558.12" cy="371.91" r="2.95"/>
<circle cx="588.55" cy="421.2" r="2.95"/>
<circle cx="622.4" cy="423.3" r="2.95"/>
<circle cx="555.7" cy="393.03" r="2.95"/>
<circle cx="575.48" cy="390.8" r="2.95"/>
<circle cx="600.68" cy="424.26" r="2.95"/>
<circle cx="540.2" cy="366.33" r="2.95"/>
<circle cx="605.64" cy="441.35" r="2.95"/>
<circle cx="597.27" cy="414.84" r="2.95"/>
<circle cx="636.15" cy="451.82" r="2.95"/>
<circle cx="587.67" cy="400.63" r="2.95"/>
<circle cx="592.25" cy="434.41" r="2.95"/>
<circle cx="617.51" cy="404.42" r="2.95"/>
<circle cx="637.68" cy="453.54" r="2.95"/>
<circle cx="650.49" cy="458.45" r="2.95"/>
<circle cx="579.5" cy="412.17" r="2.95"/>
<circle cx="606.52" cy="440.68" r="2.95"/>
<circle cx="635.03" cy="437.91" r="2.95"/>
<circle cx="613.59" cy="429.25" r="2.95"/>
<circle cx="611.48" cy="414.8" r="2.95"/>
<circle cx="558.07" cy="389.9" r="2.95"/>
<circle cx="577.26" cy="419.33" r="2.95"/>
<circle cx="593.89" cy="420.08" r="2.95"/>
<circle cx="582.31" cy="401.5" r="2.95"/>
<circle cx="578.84" cy="411.27" r="2.95"/>
<circle cx="593.76" cy="388" r="2.95"/>
<circle cx="600.27" cy="405.05" r="2.95"/>
<circle cx="587.6" cy="426.02" r="2.95"/>
<circle cx="593.45" cy="409.64" r="2.95"/>
<circle cx="598.47" cy="420.81" r="2.95"/>
<circle cx="529.37" cy="377.3" r="2.95"/>
<circle cx="608.33" cy="401.25" r="2.95"/>
<circle cx="624.25" cy="428.22" r="2.95"/>
<circle cx="591.16" cy="426.25" r="2.95"/>
<circle cx="528.39" cy="372.08" r="2.95"/>
<circle cx="582.63" cy="397.02" r="2.95"/>
<circle cx="602.17" cy="432.06" r="2.95"/>
<circle cx="582.13" cy="418.45" r="2.95"/>
<circle cx="570.52" cy="379.09" r="2.95"/>
<circle cx="628.7" cy="428.38" r="2.95"/>
<circle cx="648.88" cy="451.73" r="2.95"/>
<circle cx="633.12" cy="425.61" r="2.95"/>
<circle cx="629.57" cy="436.53" r="2.95"/>
<circle cx="566.08" cy="402.25" r="2.95"/>
<circle cx="554.51" cy="389.73" r="2.95"/>
<circle cx="591.56" cy="402.98" r="2.95"/>
<circle cx="619.44" cy="427.6" r="2.95"/>
<circle cx="626.96" cy="413.87" r="2.95"/>
<circle cx="558.05" cy="378.74" r="2.95"/>
<circle cx="553.08" cy="393.98" r="2.95"/>
<circle cx="567.73" cy="397.63" r="2.95"/>
<circle cx="643.2" cy="437.86" r="2.95"/>
<circle cx="612.83" cy="441.03" r="2.95"/>
<circle cx="601.06" cy="440.87" r="2.95"/>
<circle cx="625.9" cy="431.47" r="2.95"/>
<circle cx="571.26" cy="396.25" r="2.95"/>
<circle cx="622.97" cy="408.25" r="2.95"/>
<circle cx="613.37" cy="411.64" r="2.95"/>
<circle cx="620.64" cy="408.08" r="2.95"/>
<circle cx="564.46" cy="383.81" r="2.95"/>
<circle cx="588.53" cy="421.74" r="2.95"/>
<circle cx="552.46" cy="381.43" r="2.95"/>
<circle cx="617.52" cy="420.54" r="2.95"/>
<circle cx="533.58" cy="379.1" r="2.95"/>
<circle cx="628.42" cy="418.45" r="2.95"/>
<circle cx="552.75" cy="395.44" r="2.95"/>
<circle cx="634.99" cy="453.74" r="2.95"/>
<circle cx="623.84" cy="453.9" r="2.95"/>
<circle cx="575.36" cy="391.52" r="2.95"/>
<circle cx="571.91" cy="414.42" r="2.95"/>
<circle cx="616.21" cy="453.72" r="2.95"/>
<circle cx="591.43" cy="404.37" r="2.95"/>
<circle cx="582.85" cy="413.28" r="2.95"/>
<circle cx="639.58" cy="430.22" r="2.95"/>
<circle cx="603.2" cy="424.05" r="2.95"/>
<circle cx="534.98" cy="375.43" r="2.95"/>
<circle cx="544.09" cy="379.13" r="2.95"/>
<circle cx="596.09" cy="414" r="2.95"/>
<circle cx="641.1" cy="457.02" r="2.95"/>
<circle cx="595.6" cy="398.05" r="2.95"/>
<circle cx="586.21" cy="426.18" r="2.95"/>
<circle cx="586.12" cy="419.27" r="2.95"/>
<circle cx="628.63" cy="431" r="2.95"/>
<circle cx="644.47" cy="436.74" r="2.95"/>
<circle cx="634.42" cy="436.32" r="2.95"/>
<circle cx="642.77" cy="439.98" r="2.95"/>
<circle cx="589.9" cy="412.86" r="2.95"/>
<circle cx="530.86" cy="380.4" r="2.95"/>
<circle cx="585.84" cy="394.35" r="2.95"/>
<circle cx="612.21" cy="413.32" r="2.95"/>
<circle cx="618.32" cy="436.33" r="2.95"/>
<circle cx="595.64" cy="433.49" r="2.95"/>
<circle cx="585.45" cy="400.26" r="2.95"/>
<circle cx="614.95" cy="417.56" r="2.95"/>
<circle cx="613.4" cy="440.22" r="2.95"/>
<circle cx="571.46" cy="393.58" r="2.95"/>
<circle cx="635.84" cy="437.5" r="2.95"/>
<circle cx="603.01" cy="410.91" r="2.95"/>
<circle cx="576.89" cy="409.13" r="2.95"/>
<circle cx="634.08" cy="438.49" r="2.95"/>
<circle cx="585.54" cy="390.79" r="2.95"/>
<circle cx="609.94" cy="405.67" r="2.95"/>
<circle cx="596.84" cy="413.79" r="2.95"/>
<circle cx="549.59" cy="373.3" r="2.95"/>
<circle cx="599.32" cy="434.49" r="2.95"/>
<circle cx="600.8" cy="407.9" r="2.95"/>
<circle cx="541.93" cy="381.15" r="2.95"/>
<circle cx="592.63" cy="426.29" r="2.95"/>
<circle cx="627.14" cy="430.52" r="2.95"/>
<circle cx="546.23" cy="381.88" r="2.95"/>
<circle cx="586.9" cy="411.25" r="2.95"/>
<circle cx="647.5" cy="459.54" r="2.95"/>
<circle cx="592.44" cy="416.95" r="2.95"/>
<circle cx="627.01" cy="420.12" r="2.95"/>
<circle cx="557.27" cy="380.34" r="2.95"/>
<circle cx="570.19" cy="385.76" r="2.95"/>
<circle cx="593.04" cy="407.97" r="2.95"/>
<circle cx="592.86" cy="415.14" r="2.95"/>
<circle cx="646" cy="433.95" r="2.95"/>
<circle cx="628.7" cy="432.26" r="2.95"/>
<circle cx="621.26" cy="457.72" r="2.95"/>
<circle cx="611.45" cy="406.22" r="2.95"/>
<circle cx="623.83" cy="408.56" r="2.95"/>
<circle cx="549.12" cy="378.65" r="2.95"/>
<circle cx="536.68" cy="384.07" r="2.95"/>
<circle cx="550.22" cy="390.12" r="2.95"/>
<circle cx="560.28" cy="403.28" r="2.95"/>
<circle cx="569.76" cy="395.47" r="2.95"/>
<circle cx="573.71" cy="381.45" r="2.95"/>
<circle cx="632.08" cy="425.77" r="2.95"/>
<circle cx="534.17" cy="358.51" r="2.95"/>
<circle cx="594.88" cy="415.8" r="2.95"/>
<circle cx="636.44" cy="426.49" r="2.95"/>
<circle cx="627.02" cy="414.08" r="2.95"/>
<circle cx="631.47" cy="417.41" r="2.95"/>
<circle cx="611.09" cy="426.5" r="2.95"/>
<circle cx="637.2" cy="438.72" r="2.95"/>
<circle cx="603.93" cy="409.42" r="2.95"/>
<circle cx="623.59" cy="426.56" r="2.95"/>
<circle cx="620.59" cy="448.6" r="2.95"/>
<circle cx="583.8" cy="408.03" r="2.95"/>
<circle cx="559.02" cy="376.08" r="2.95"/>
<circle cx="564.08" cy="399.24" r="2.95"/>
<circle cx="630.34" cy="461.27" r="2.95"/>
<circle cx="560.55" cy="395.69" r="2.95"/>
<circle cx="594.14" cy="425.85" r="2.95"/>
<circle cx="562.58" cy="404.47" r="2.95"/>
<circle cx="634.99" cy="437.96" r="2.95"/>
<circle cx="630.31" cy="405.59" r="2.95"/>
<circle cx="601.87" cy="407.31" r="2.95"/>
<circle cx="579.4" cy="421.39" r="2.95"/>
<circle cx="573.07" cy="406.26" r="2.95"/>
<circle cx="526.46" cy="364.36" r="2.95"/>
<circle cx="581.94" cy="390.42" r="2.95"/>
<circle cx="636.24" cy="452.17" r="2.95"/>
<circle cx="551.68" cy="376.91" r="2.95"/>
<circle cx="526.05" cy="369.83" r="2.95"/>
<circle cx="571.3" cy="386.96" r="2.95"/>
<circle cx="611.82" cy="427.91" r="2.95"/>
<circle cx="543.64" cy="372.4" r="2.95"/>
<circle cx="622.88" cy="436.39" r="2.95"/>
<circle cx="568.09" cy="399.53" r="2.95"/>
<circle cx="574.52" cy="392.5" r="2.95"/>
<circle cx="619.71" cy="445.02" r="2.95"/>
<circle cx="606.42" cy="409.44" r="2.95"/>
<circle cx="627.25" cy="450.56" r="2.95"/>
<circle cx="635.99" cy="434.63" r="2.95"/>
<circle cx="616.24" cy="420.77" r="2.95"/>
<circle cx="629.83" cy="444.8" r="2.95"/>
<circle cx="576.25" cy="382.2" r="2.95"/>
<circle cx="612.04" cy="445.25" r="2.95"/>
<circle cx="628.71" cy="423.5" r="2.95"/>
<circle cx="635.88" cy="447.17" r="2.95"/>
<circle cx="528.41" cy="375.38" r="2.95"/>
<circle cx="616.42" cy="430" r="2.95"/>
<circle cx="598.66" cy="414.85" r="2.95"/>
<circle cx="603.94" cy="415.97" r="2.95"/>
<circle cx="600.14" cy="423.65" r="2.95"/>
<circle cx="616.79" cy="419.52" r="2.95"/>
<circle cx="550.16" cy="375.93" r="2.95"/>
<circle cx="610" cy="413.39" r="2.95"/>
<circle cx="613.1" cy="424.43" r="2.95"/>
<circle cx="620.59" cy="434.83" r="2.95"/>
<circle cx="529.14" cy="373.48" r="2.95"/>
<circle cx="584.51" cy="407.04" r="2.95"/>
<circle cx="571.56" cy="398.13" r="2.95"/>
<circle cx="596.23" cy="399.38" r="2.95"/>
<circle cx="585" cy="422.59" r="2.95"/>
<circle cx="576.02" cy="413.71" r="2.95"/>
<circle cx="633.57" cy="450.08" r="2.95"/>
<circle cx="589.79" cy="419.92" r="2.95"/>
<circle cx="612.52" cy="409.78" r="2.95"/>
<circle cx="532.66" cy="381.37" r="2.95"/>
<circle cx="554.23" cy="388.15" r="2.95"/>
<circle cx="568.13" cy="390.36" r="2.95"/>
<circle cx="623.4" cy="455.57" r="2.95"/>
<circle cx="605.62" cy="407.78" r="2.95"/>
<circle cx="626.66" cy="420.8" r="2.95"/>
<circle cx="543.58" cy="384.9" r="2.95"/>
<circle cx="612.84" cy="408.71" r="2.95"/>
<circle cx="579.83" cy="394.88" r="2.95"/>
<circle cx="587.23" cy="436.29" r="2.95"/>
<circle cx="628.68" cy="461.49" r="2.95"/>
<circle cx="607.8" cy="406.38" r="2.95"/>
<circle cx="526.13" cy="371.14" r="2.95"/>
<circle cx="589.7" cy="418.95" r="2.95"/>
<circle cx="620.41" cy="421.72" r="2.95"/>
<circle cx="590.3" cy="404.61" r="2.95"/>
<circle cx="555.34" cy="372.91" r="2.95"/>
<circle cx="629.49" cy="408.46" r="2.95"/>
<circle cx="616.13" cy="448.83" r="2.95"/>
<circle cx="588.05" cy="434.54" r="2.95"/>
<circle cx="619.76" cy="450.78" r="2.95"/>
<circle cx="629.02" cy="462.68" r="2.95"/>
<circle cx="626.08" cy="450.15" r="2.95"/>
<circle cx="585.34" cy="423.09" r="2.95"/>
<circle cx="634.29" cy="439.13" r="2.95"/>
<circle cx="560" cy="372.92" r="2.95"/>
<circle cx="585.47" cy="427.89" r="2.95"/>
<circle cx="590.09" cy="417.86" r="2.95"/>
<circle cx="608.51" cy="415.2" r="2.95"/>
<circle cx="634.36" cy="438.28" r="2.95"/>
<circle cx="616.28" cy="410.4" r="2.95"/>
<circle cx="531.25" cy="376.51" r="2.95"/>
<circle cx="620.96" cy="441.74" r="2.95"/>
<circle cx="632.14" cy="434.11" r="2.95"/>
<circle cx="588.05" cy="430.32" r="2.95"/>
<circle cx="558.33" cy="380.19" r="2.95"/>
<circle cx="534.22" cy="368.77" r="2.95"/>
<circle cx="563.39" cy="376.35" r="2.95"/>
<circle cx="603.58" cy="449.01" r="2.95"/>
<circle cx="577.77" cy="420.22" r="2.95"/>
<circle cx="627.37" cy="421.28" r="2.95"/>
<circle cx="559.72" cy="382.38" r="2.95"/>
<circle cx="606.45" cy="424.61" r="2.95"/>
<circle cx="554.69" cy="386.07" r="2.95"/>
<circle cx="615.72" cy="416.45" r="2.95"/>
<circle cx="629.46" cy="437.25" r="2.95"/>
<circle cx="599.79" cy="422.71" r="2.95"/>
<circle cx="564.96" cy="394.66" r="2.95"/>
<circle cx="533.27" cy="377.93" r="2.95"/>
<circle cx="610.48" cy="448.66" r="2.95"/>
<circle cx="585.67" cy="411.92" r="2.95"/>
<circle cx="540.9" cy="372.26" r="2.95"/>
<circle cx="563.33" cy="395.27" r="2.95"/>
<circle cx="589.38" cy="397.46" r="2.95"/>
<circle cx="589.86" cy="399.99" r="2.95"/>
<circle cx="645.93" cy="446.62" r="2.95"/>
<circle cx="617.71" cy="419.73" r="2.95"/>
<circle cx="551.17" cy="375.42" r="2.95"/>
<circle cx="573.13" cy="383.71" r="2.95"/>
<circle cx="540.94" cy="383.9" r="2.95"/>
<circle cx="612.85" cy="427.98" r="2.95"/>
<circle cx="626.68" cy="416.52" r="2.95"/>
<circle cx="571.5" cy="383.71" r="2.95"/>
<circle cx="585.76" cy="412.23" r="2.95"/>
<circle cx="633.33" cy="444.42" r="2.95"/>
<circle cx="559.88" cy="401.05" r="2.95"/>
<circle cx="540.66" cy="373.81" r="2.95"/>
<circle cx="533.74" cy="374.34" r="2.95"/>
<circle cx="618.75" cy="416.09" r="2.95"/>
<circle cx="542.15" cy="374.49" r="2.95"/>
<circle cx="603.3" cy="424.13" r="2.95"/>
<circle cx="593.21" cy="423.47" r="2.95"/>
<circle cx="644.93" cy="441.48" r="2.95"/>
<circle cx="644.54" cy="465.39" r="2.95"/>
<circle cx="565.07" cy="387.22" r="2.95"/>
<circle cx="642.72" cy="430.81" r="2.95"/>
<circle cx="525.8" cy="364.29" r="2.95"/>
<circle cx="583.44" cy="416.63" r="2.95"/>
<circle cx="643.92" cy="452" r="2.95"/>
<circle cx="536.89" cy="385.23" r="2.95"/>
<circle cx="627.97" cy="412.21" r="2.95"/>
<circle cx="587.69" cy="398.1" r="2.95"/>
<circle cx="570.69" cy="410.02" r="2.95"/>
<circle cx="604.76" cy="425.97" r="2.95"/>
<circle cx="648.48" cy="452.65" r="2.95"/>
<circle cx="592.18" cy="416.49" r="2.95"/>
<circle cx="526.28" cy="382.77" r="2.95"/>
<circle cx="616.33" cy="422.8" r="2.95"/>
<circle cx="601.29" cy="414.81" r="2.95"/>
<circle cx="551.74" cy="391.28" r="2.95"/>
<circle cx="553.11" cy="394.72" r="2.95"/>
<circle cx="631.62" cy="427.42" r="2.95"/>
<circle cx="557.06" cy="387.2" r="2.95"/>
<circle cx="624.72" cy="452.94" r="2.95"/>
<circle cx="586.03" cy="403.28" r="2.95"/>
<circle cx="575.49" cy="414.02" r="2.95"/>
<circle cx="633.68" cy="441.38" r="2.95"/>
<circle cx="578.05" cy="399.64" r="2.95"/>
<circle cx="541.8" cy="381.28" r="2.95"/>
<circle cx="525.8" cy="384.89" r="2.95"/>
<circle cx="541.49" cy="386.75" r="2.95"/>
<circle cx="594.24" cy="398.28" r="2.95"/>
<circle cx="624.27" cy="413.97" r="2.95"/>
<circle cx="606.98" cy="421.79" r="2.95"/>
<circle cx="599.25" cy="405.91" r="2.95"/>
<circle cx="576.71" cy="396.99" r="2.95"/>
<circle cx="557.18" cy="386.44" r="2.95"/>
<circle cx="619.27" cy="416.46" r="2.95"/>
<circle cx="627.71" cy="426.79" r="2.95"/>
<circle cx="636.44" cy="453.03" r="2.95"/>
<circle cx="542.69" cy="373.15" r="2.95"/>
<circle cx="594.99" cy="424.35" r="2.95"/>
<circle cx="625.95" cy="430.99" r="2.95"/>
<circle cx="611.55" cy="436.82" r="2.95"/>
<circle cx="571.7" cy="414.44" r="2.95"/>
<circle cx="561.67" cy="373.84" r="2.95"/>
<circle cx="562.36" cy="396.19" r="2.95"/>
<circle cx="634.22" cy="463.22" r="2.95"/>
<circle cx="624.34" cy="427.12" r="2.95"/>
<circle cx="623.56" cy="450.86" r="2.95"/>
<circle cx="604.92" cy="401.2" r="2.95"/>
<circle cx="614.29" cy="407.93" r="2.95"/>
<circle cx="531.22" cy="370.73" r="2.95"/>
<circle cx="643.26" cy="437.13" r="2.95"/>
<circle cx="650.48" cy="459.04" r="2.95"/>
<circle cx="582.2" cy="390.15" r="2.95"/>
<circle cx="602.58" cy="401.52" r="2.95"/>
<circle cx="642.76" cy="439.87" r="2.95"/>
<circle cx="587.67" cy="420.87" r="2.95"/>
<circle cx="536.69" cy="378.51" r="2.95"/>
<circle cx="648.76" cy="438.97" r="2.95"/>
<circle cx="557.75" cy="373.04" r="2.95"/>
<circle cx="572.73" cy="394.76" r="2.95"/>
<circle cx="572.31" cy="380.87" r="2.95"/>
<circle cx="594.27" cy="408.2" r="2.95"/>
<circle cx="603.75" cy="416.2" r="2.95"/>
<circle cx="609.95" cy="423.81" r="2.95"/>
<circle cx="593.85" cy="429.58" r="2.95"/>
<circle cx="568.2" cy="385.75" r="2.95"/>
<circle cx="583.54" cy="404.1" r="2.95"/>
<circle cx="544.46" cy="387.97" r="2.95"/>
<circle cx="557.38" cy="387.56" r="2.95"/>
<circle cx="601.89" cy="423.26" r="2.95"/>
<circle cx="585.01" cy="391.23" r="2.95"/>
<circle cx="535.81" cy="365.83" r="2.95"/>
<circle cx="630.37" cy="416.83" r="2.95"/>
<circle cx="623.82" cy="422.38" r="2.95"/>
<circle cx="564.32" cy="403.04" r="2.95"/>
<circle cx="592.74" cy="410.82" r="2.95"/>
<circle cx="620.6" cy="442.07" r="2.95"/>
<circle cx="613.39" cy="450.73" r="2.95"/>
<circle cx="612.45" cy="432.3" r="2.95"/>
<circle cx="600.1" cy="410.6" r="2.95"/>
<circle cx="612.15" cy="408.04" r="2.95"/>
<circle cx="566.54" cy="393.64" r="2.95"/>
<circle cx="636.53" cy="456.5" r="2.95"/>
<circle cx="621.17" cy="432.35" r="2.95"/>
<circle cx="645.17" cy="465.77" r="2.95"/>
<circle cx="580.06" cy="404" r="2.95"/>
<circle cx="630.4" cy="414.67" r="2.95"/>
<circle cx="647.12" cy="440.88" r="2.95"/>
<circle cx="590.19" cy="430.56" r="2.95"/>
<circle cx="611.63" cy="417.09" r="2.95"/>
<circle cx="617.64" cy="434.39" r="2.95"/>
<circle cx="601" cy="414.63" r="2.95"/>
<circle cx="551.01" cy="384.41" r="2.95"/>
<circle cx="558.21" cy="382.63" r="2.95"/>
<circle cx="565.86" cy="388.51" r="2.95"/>
<circle cx="588.06" cy="419.47" r="2.95"/>
<circle cx="590.11" cy="432.27" r="2.95"/>
<circle cx="589.41" cy="388.96" r="2.95"/>
<circle cx="600.28" cy="409.42" r="2.95"/>
<circle cx="629.45" cy="448.13" r="2.95"/>
<circle cx="596.37" cy="414.1" r="2.95"/>
<circle cx="620.01" cy="415.26" r="2.95"/>
<circle cx="598.34" cy="428.18" r="2.95"/>
<circle cx="661.51" cy="324.3" r="2.95"/>
<circle cx="672.25" cy="351.27" r="2.95"/>
<circle cx="653.15" cy="354.92" r="2.95"/>
<circle cx="660.6" cy="358.96" r="2.95"/>
<circle cx="671.05" cy="360.36" r="2.95"/>
<circle cx="667.14" cy="339.14" r="2.95"/>
<circle cx="676.22" cy="347.02" r="2.95"/>
<circle cx="669.68" cy="344.85" r="2.95"/>
<circle cx="670.58" cy="349.75" r="2.95"/>
<circle cx="664.75" cy="347.36" r="2.95"/>
<circle cx="660.17" cy="324.3" r="2.95"/>
<circle cx="656.05" cy="347.79" r="2.95"/>
<circle cx="675.73" cy="345.96" r="2.95"/>
<circle cx="646.44" cy="324.3" r="2.95"/>
<circle cx="651.47" cy="329.53" r="2.95"/>
<circle cx="668.58" cy="362.12" r="2.95"/>
<circle cx="661.28" cy="332.51" r="2.95"/>
<circle cx="663.2" cy="336.75" r="2.95"/>
<circle cx="660.6" cy="326.15" r="2.95"/>
<circle cx="673.85" cy="346.41" r="2.95"/>
<circle cx="662" cy="324.3" r="2.95"/>
<circle cx="647.86" cy="331.86" r="2.95"/>
<circle cx="659.12" cy="338.61" r="2.95"/>
<circle cx="671.36" cy="353.84" r="2.95"/>
<circle cx="666.78" cy="341.52" r="2.95"/>
<circle cx="667.49" cy="333.35" r="2.95"/>
<circle cx="672.08" cy="361.73" r="2.95"/>
<circle cx="673.26" cy="356.8" r="2.95"/>
<circle cx="670.02" cy="347.73" r="2.95"/>
<circle cx="653.7" cy="338.62" r="2.95"/>
<circle cx="655.27" cy="329.81" r="2.95"/>
<circle cx="647.39" cy="327.41" r="2.95"/>
<circle cx="676.08" cy="368.52" r="2.95"/>
<circle cx="658.45" cy="339.94" r="2.95"/>
<circle cx="672.16" cy="348.22" r="2.95"/>
<circle cx="651.61" cy="332.66" r="2.95"/>
<circle cx="666.36" cy="345.08" r="2.95"/>
<circle cx="663.36" cy="360.61" r="2.95"/>
<circle cx="674.64" cy="347.89" r="2.95"/>
<circle cx="676.39" cy="347.81" r="2.95"/>
<circle cx="664.64" cy="324.3" r="2.95"/>
<circle cx="660.39" cy="344.89" r="2.95"/>
<circle cx="661.31" cy="332.34" r="2.95"/>
<circle cx="666.45" cy="330.81" r="2.95"/>
<circle cx="671.42" cy="345.15" r="2.95"/>
<circle cx="652.67" cy="333.04" r="2.95"/>
<circle cx="665.41" cy="340.5" r="2.95"/>
<circle cx="657.21" cy="324.3" r="2.95"/>
<circle cx="655.02" cy="346.26" r="2.95"/>
<circle cx="657.86" cy="338.28" r="2.95"/>
<circle cx="656.5" cy="357.2" r="2.95"/>
<circle cx="657.12" cy="340.1" r="2.95"/>
<circle cx="655.98" cy="345.2" r="2.95"/>
<circle cx="672.48" cy="361.28" r="2.95"/>
<circle cx="655.27" cy="338.35" r="2.95"/>
<circle cx="669.28" cy="359.23" r="2.95"/>
<circle cx="659.53" cy="344.75" r="2.95"/>
<circle cx="673.86" cy="351.95" r="2.95"/>
<circle cx="653.78" cy="352.72" r="2.95"/>
<circle cx="662.69" cy="340.12" r="2.95"/>
<circle cx="661.45" cy="350.04" r="2.95"/>
<circle cx="668.41" cy="343.04" r="2.95"/>
<circle cx="668.65" cy="335.15" r="2.95"/>
<circle cx="669.49" cy="360.32" r="2.95"/>
<circle cx="662.74" cy="348.47" r="2.95"/>
<circle cx="649.15" cy="330.88" r="2.95"/>
<circle cx="662.44" cy="338.97" r="2.95"/>
<circle cx="676.7" cy="346.63" r="2.95"/>
<circle cx="653.21" cy="340.52" r="2.95"/>
<circle cx="658.64" cy="348.86" r="2.95"/>
<circle cx="667.96" cy="361.5" r="2.95"/>
<circle cx="662.51" cy="327.02" r="2.95"/>
<circle cx="666.45" cy="350.81" r="2.95"/>
<circle cx="655.03" cy="330.93" r="2.95"/>
<circle cx="658.63" cy="366.58" r="2.95"/>
<circle cx="659.96" cy="328.82" r="2.95"/>
<circle cx="659.39" cy="355.95" r="2.95"/>
<circle cx="675.13" cy="357.13" r="2.95"/>
<circle cx="660.26" cy="347.72" r="2.95"/>
<circle cx="653.28" cy="351.22" r="2.95"/>
<circle cx="660.87" cy="326.17" r="2.95"/>
<circle cx="646.05" cy="345.66" r="2.95"/>
<circle cx="662.78" cy="327.48" r="2.95"/>
<circle cx="660.89" cy="342.88" r="2.95"/>
<circle cx="655.36" cy="352.53" r="2.95"/>
<circle cx="660.19" cy="363.35" r="2.95"/>
<circle cx="662.9" cy="346.42" r="2.95"/>
<circle cx="664.5" cy="352.77" r="2.95"/>
<circle cx="674.25" cy="345.63" r="2.95"/>
<circle cx="660.69" cy="326.91" r="2.95"/>
<circle cx="669.88" cy="357.48" r="2.95"/>
<circle cx="658.4" cy="336.43" r="2.95"/>
<circle cx="675.72" cy="362.91" r="2.95"/>
<circle cx="668.11" cy="342.85" r="2.95"/>
<circle cx="653.57" cy="343.75" r="2.95"/>
<circle cx="668.55" cy="342.87" r="2.95"/>
<circle cx="658.85" cy="324.3" r="2.95"/>
<circle cx="672.01" cy="351.29" r="2.95"/>
<circle cx="671.65" cy="345.46" r="2.95"/>
<circle cx="675.73" cy="356.09" r="2.95"/>
<circle cx="668.49" cy="348.95" r="2.95"/>
<circle cx="666.45" cy="329.73" r="2.95"/>
<circle cx="675.4" cy="349.44" r="2.95"/>
<circle cx="660.51" cy="342.67" r="2.95"/>
<circle cx="661.58" cy="336.96" r="2.95"/>
<circle cx="670.8" cy="337.67" r="2.95"/>
<circle cx="654.4" cy="341.36" r="2.95"/>
<circle cx="661.74" cy="324.3" r="2.95"/>
<circle cx="670.27" cy="353.59" r="2.95"/>
<circle cx="652.92" cy="335.35" r="2.95"/>
<circle cx="678.2" cy="348.97" r="2.95"/>
<circle cx="674.98" cy="357.75" r="2.95"/>
<circle cx="673.37" cy="334.03" r="2.95"/>
<circle cx="670.24" cy="334.73" r="2.95"/>
<circle cx="672.99" cy="359.53" r="2.95"/>
<circle cx="662.17" cy="352.63" r="2.95"/>
<circle cx="656.97" cy="354.24" r="2.95"/>
<circle cx="674.91" cy="346.94" r="2.95"/>
<circle cx="675.35" cy="353.41" r="2.95"/>
<circle cx="662.95" cy="354.05" r="2.95"/>
<circle cx="665.57" cy="344.41" r="2.95"/>
<circle cx="671.45" cy="343.56" r="2.95"/>
<circle cx="658.31" cy="348.14" r="2.95"/>
<circle cx="670.54" cy="336.04" r="2.95"/>
<circle cx="669.78" cy="345.61" r="2.95"/>
<circle cx="666.04" cy="339.68" r="2.95"/>
<circle cx="661.17" cy="343.42" r="2.95"/>
<circle cx="647.97" cy="327.06" r="2.95"/>
<circle cx="652.39" cy="330.72" r="2.95"/>
<circle cx="665.78" cy="354.33" r="2.95"/>
<circle cx="653.42" cy="326.23" r="2.95"/>
<circle cx="658.1" cy="329.25" r="2.95"/>
<circle cx="665.17" cy="343.49" r="2.95"/>
<circle cx="673.17" cy="362.75" r="2.95"/>
<circle cx="655.97" cy="338.93" r="2.95"/>
<circle cx="670.36" cy="344.27" r="2.95"/>
<circle cx="665.93" cy="334.4" r="2.95"/>
<circle cx="656.98" cy="329.3" r="2.95"/>
<circle cx="657.02" cy="356.51" r="2.95"/>
<circle cx="669.89" cy="334.38" r="2.95"/>
<circle cx="670.45" cy="356" r="2.95"/>
<circle cx="665.54" cy="351.28" r="2.95"/>
<circle cx="656.92" cy="356.56" r="2.95"/>
<circle cx="650.34" cy="332.81" r="2.95"/>
<circle cx="672.33" cy="352.45" r="2.95"/>
<circle cx="652.71" cy="326.4" r="2.95"/>
<circle cx="671.88" cy="356.94" r="2.95"/>
<circle cx="669.79" cy="359.22" r="2.95"/>
<circle cx="651.72" cy="352.36" r="2.95"/>
<circle cx="652.25" cy="351.29" r="2.95"/>
<circle cx="657.89" cy="346.44" r="2.95"/>
<circle cx="671.97" cy="356.36" r="2.95"/>
<circle cx="531.6" cy="328" r="2.95"/>
<circle cx="531.1" cy="334.2" r="2.95"/>
<circle cx="526.2" cy="340.4" r="2.95"/>
<circle cx="525.4" cy="343.4" r="2.95"/>
<circle cx="528.5" cy="347.3" r="2.95"/>
<circle cx="540" cy="348.8" r="2.95"/>
<circle cx="545.4" cy="352.2" r="2.95"/>
<circle cx="569.3" cy="352.7" r="2.95"/>
<circle cx="568.1" cy="355.8" r="2.95"/>
<circle cx="529.2" cy="355" r="2.95"/>
<circle cx="538.5" cy="355" r="2.95"/>
<circle cx="542.4" cy="358.8" r="2.95"/>
<circle cx="573.2" cy="367.3" r="2.95"/>
<circle cx="577.8" cy="369.6" r="2.95"/>
<circle cx="587.1" cy="371.2" r="2.95"/>
<circle cx="567.8" cy="373.5" r="2.95"/>
<circle cx="579.3" cy="375.8" r="2.95"/>
<circle cx="594.8" cy="380.4" r="2.95"/>
<circle cx="561.6" cy="368.1" r="2.95"/>
<circle cx="554.7" cy="367.3" r="2.95"/>
<circle cx="549.3" cy="368.9" r="2.95"/>
<circle cx="643.5" cy="334.2" r="2.95"/>
<circle cx="639.6" cy="352.7" r="2.95"/>
<circle cx="635.8" cy="359.6" r="2.95"/>
<circle cx="631.9" cy="364.2" r="2.95"/>
<circle cx="618.8" cy="380.9" r="2.95"/>
<circle cx="621.9" cy="388.1" r="2.95"/>
<circle cx="625.7" cy="387.1" r="2.95"/>
<circle cx="635" cy="387.1" r="2.95"/>
<circle cx="637.3" cy="391.2" r="2.95"/>
<circle cx="634.2" cy="394.3" r="2.95"/>
<circle cx="648.1" cy="391.2" r="2.95"/>
<circle cx="609.6" cy="389.7" r="2.95"/>
<circle cx="611.9" cy="393.5" r="2.95"/>
<circle cx="600.3" cy="390.4" r="2.95"/>
<circle cx="544.7" cy="399.7" r="2.95"/>
<circle cx="543.1" cy="392.8" r="2.95"/>
<circle cx="562.9" cy="427.1" r="2.95"/>
<circle cx="567.5" cy="431" r="2.95"/>
<circle cx="534.6" cy="466" r="2.95"/>
<circle cx="559.3" cy="404" r="2.95"/>
<circle cx="608.8" cy="394.3" r="2.95"/>
<circle cx="599.5" cy="398.9" r="2.95"/>
<circle cx="634.2" cy="394.3" r="2.95"/>
<circle cx="630.4" cy="399.7" r="2.95"/>
<circle cx="635.8" cy="403.6" r="2.95"/>
<circle cx="641.2" cy="400.5" r="2.95"/>
<circle cx="648.1" cy="392.8" r="2.95"/>
<circle cx="655" cy="403.1" r="2.95"/>
<circle cx="655.3" cy="419" r="2.95"/>
<circle cx="669.7" cy="424.1" r="2.95"/>
<circle cx="658.1" cy="429" r="2.95"/>
<circle cx="677.4" cy="437.9" r="2.95"/>
<circle cx="658.1" cy="440.2" r="2.95"/>
<circle cx="664.3" cy="438.7" r="2.95"/>
<circle cx="668.1" cy="444.4" r="2.95"/>
<circle cx="668.1" cy="449" r="2.95"/>
<circle cx="661.2" cy="449.8" r="2.95"/>
<circle cx="655" cy="450.6" r="2.95"/>
<circle cx="661.2" cy="459.8" r="2.95"/>
<circle cx="671.2" cy="459" r="2.95"/>
<circle cx="667.4" cy="466" r="2.95"/>
<circle cx="658.1" cy="464.4" r="2.95"/>
<circle cx="644.2" cy="467.5" r="2.95"/>
<circle cx="621.1" cy="463.2" r="2.95"/>
<circle cx="569.2" cy="354.6" r="2.95"/>
<circle cx="573.1" cy="366.6" r="2.95"/>
<circle cx="577.7" cy="370" r="2.95"/>
<circle cx="568.5" cy="373.9" r="2.95"/>
<circle cx="587" cy="370.8" r="2.95"/>
<circle cx="594.7" cy="380.1" r="2.95"/>
<circle cx="580" cy="375.4" r="2.95"/>
<circle cx="618.3" cy="380.8" r="2.95"/>
<circle cx="623.2" cy="387" r="2.95"/>
<circle cx="631.7" cy="363.9" r="2.95"/>
<circle cx="635.5" cy="360" r="2.95"/>
<circle cx="634.8" cy="387" r="2.95"/>
<circle cx="634.8" cy="392.4" r="2.95"/>
<circle cx="610.9" cy="390" r="2.95"/>
<circle cx="600" cy="390" r="2.95"/>
<circle cx="598.5" cy="397.8" r="2.95"/>
<circle cx="587.7" cy="387.8" r="2.95"/>
<circle cx="630.9" cy="399.3" r="2.95"/>
<circle cx="635.5" cy="404" r="2.95"/>
<circle cx="643.2" cy="333.8" r="2.95"/>
<circle cx="640.8" cy="352" r="2.95"/>
<circle cx="647.9" cy="390.7" r="2.95"/>
<path d="M525.4,369.4 C528.35,371 535.78,375.13 543.1,379 C550.42,382.87 561.48,388.52 569.3,392.6 C577.12,396.68 582.38,399.55 590,403.5 C597.62,407.45 608.75,412.92 615,416.3 C621.25,419.68 623.73,421.5 627.5,423.8 C631.27,426.1 634.88,428.02 637.6,430.1 C640.32,432.18 642.03,434.02 643.8,436.3 C645.57,438.58 647.05,441.08 648.2,443.8 C649.35,446.52 649.97,449.67 650.7,452.6 C651.43,455.53 652.08,458.6 652.6,461.4 C653.12,464.2 653.6,468.07 653.8,469.4" fill="none" stroke="#ff0000" stroke-width="2.6" stroke-linecap="butt"/>
<path d="M655,332.6 C655.27,333.83 655.82,337.3 656.6,340 C657.38,342.7 658.63,346.3 659.7,348.8 C660.77,351.3 661.72,353.05 663,355 C664.28,356.95 665.82,358.87 667.4,360.5 C668.98,362.13 670.67,363.4 672.5,364.8 C674.33,366.2 677.42,368.22 678.4,368.9" fill="none" stroke="#ff0000" stroke-width="2.6" stroke-linecap="butt"/>
</svg></body></html>
